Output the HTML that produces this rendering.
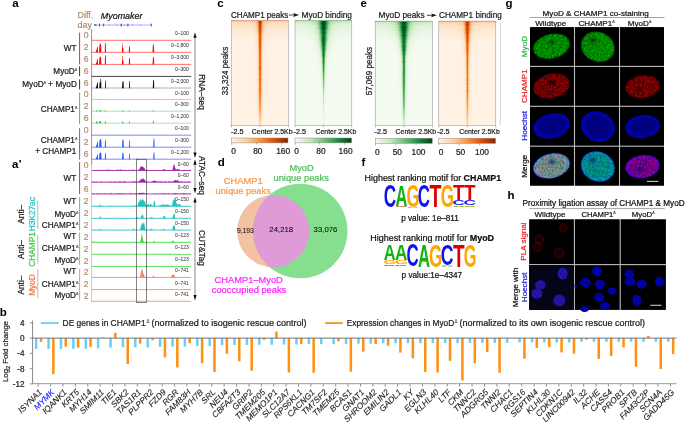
<!DOCTYPE html>
<html><head><meta charset="utf-8"><title>Figure</title>
<style>html,body{margin:0;padding:0;background:#fff;} svg{display:block;will-change:transform;} text{font-family:"Liberation Sans", sans-serif;}</style></head>
<body><svg width="685" height="422" viewBox="0 0 685 422" font-family='"Liberation Sans", sans-serif'>
<defs><filter id="bl1" x="-50%" y="-5%" width="200%" height="110%"><feGaussianBlur stdDeviation="0.8"/></filter><filter id="bl2" x="-50%" y="-5%" width="200%" height="110%"><feGaussianBlur stdDeviation="2.2"/></filter><filter id="bl3" x="-50%" y="-50%" width="200%" height="200%"><feGaussianBlur stdDeviation="1.2"/></filter><linearGradient id="gO1" x1="0" y1="0" x2="0" y2="1"><stop offset="0" stop-color="#b84000"/><stop offset="0.15" stop-color="#d45a08"/><stop offset="0.6" stop-color="#ec8a3c"/><stop offset="0.85" stop-color="#f7bd8c"/><stop offset="1" stop-color="#fde6d2"/></linearGradient><linearGradient id="gO4" x1="0" y1="0" x2="0" y2="1"><stop offset="0" stop-color="#bb4200"/><stop offset="0.12" stop-color="#d8600e"/><stop offset="0.5" stop-color="#ef9a52"/><stop offset="0.85" stop-color="#f9cfa8"/><stop offset="1" stop-color="#fde8d6"/></linearGradient><linearGradient id="gOh" x1="0" y1="0" x2="0" y2="1"><stop offset="0" stop-color="#f5a060"/><stop offset="0.4" stop-color="#f9c8a0"/><stop offset="1" stop-color="#fdefe2"/></linearGradient><linearGradient id="gG2" x1="0" y1="0" x2="0" y2="1"><stop offset="0" stop-color="#00662a"/><stop offset="0.25" stop-color="#117a36"/><stop offset="0.5" stop-color="#3e9e58"/><stop offset="0.75" stop-color="#a3d6a3"/><stop offset="1" stop-color="#eef8ec"/></linearGradient><linearGradient id="gG3" x1="0" y1="0" x2="0" y2="1"><stop offset="0" stop-color="#00602a"/><stop offset="0.3" stop-color="#0f7a36"/><stop offset="0.6" stop-color="#2f9650"/><stop offset="0.85" stop-color="#7cc486"/><stop offset="1" stop-color="#cdeacb"/></linearGradient><linearGradient id="gGh" x1="0" y1="0" x2="0" y2="1"><stop offset="0" stop-color="#6cbf76"/><stop offset="0.35" stop-color="#b8e2b6"/><stop offset="1" stop-color="#f1f9ef"/></linearGradient><linearGradient id="cbO" x1="0" y1="0" x2="1" y2="0"><stop offset="0" stop-color="#fff3e6"/><stop offset="0.25" stop-color="#fdd0a2"/><stop offset="0.5" stop-color="#fd9243"/><stop offset="0.75" stop-color="#df5005"/><stop offset="1" stop-color="#7f2704"/></linearGradient><linearGradient id="cbG" x1="0" y1="0" x2="1" y2="0"><stop offset="0" stop-color="#f4fbf2"/><stop offset="0.25" stop-color="#c7e9c0"/><stop offset="0.5" stop-color="#74c476"/><stop offset="0.75" stop-color="#238b45"/><stop offset="1" stop-color="#00441b"/></linearGradient><clipPath id="clip231"><rect x="231.3" y="20.4" width="57.20" height="105.00"/></clipPath><linearGradient id="hg0"><stop offset="0.000" stop-color="#fff1e3"/><stop offset="0.136" stop-color="#ffeede"/><stop offset="0.227" stop-color="#feead6"/><stop offset="0.291" stop-color="#fee5cc"/><stop offset="0.345" stop-color="#fdd8b2"/><stop offset="0.391" stop-color="#fdb272"/><stop offset="0.427" stop-color="#f77b27"/><stop offset="0.464" stop-color="#d14501"/><stop offset="0.500" stop-color="#ac3803"/><stop offset="0.536" stop-color="#d14501"/><stop offset="0.573" stop-color="#f77b27"/><stop offset="0.609" stop-color="#fdb272"/><stop offset="0.655" stop-color="#fdd8b2"/><stop offset="0.709" stop-color="#fee5cc"/><stop offset="0.773" stop-color="#feead6"/><stop offset="0.864" stop-color="#ffeede"/><stop offset="1.000" stop-color="#fff1e3"/></linearGradient><linearGradient id="hg1"><stop offset="0.000" stop-color="#fff1e3"/><stop offset="0.136" stop-color="#ffeede"/><stop offset="0.227" stop-color="#feead5"/><stop offset="0.291" stop-color="#fee4ca"/><stop offset="0.345" stop-color="#fdd6ae"/><stop offset="0.391" stop-color="#fdae6a"/><stop offset="0.427" stop-color="#f4731f"/><stop offset="0.464" stop-color="#c24002"/><stop offset="0.500" stop-color="#9d3303"/><stop offset="0.536" stop-color="#c24002"/><stop offset="0.573" stop-color="#f4731f"/><stop offset="0.609" stop-color="#fdae6a"/><stop offset="0.655" stop-color="#fdd6ae"/><stop offset="0.709" stop-color="#fee4ca"/><stop offset="0.773" stop-color="#feead5"/><stop offset="0.864" stop-color="#ffeede"/><stop offset="1.000" stop-color="#fff1e3"/></linearGradient><linearGradient id="hg2"><stop offset="0.000" stop-color="#fff1e3"/><stop offset="0.136" stop-color="#ffeede"/><stop offset="0.227" stop-color="#feead6"/><stop offset="0.291" stop-color="#fee5cd"/><stop offset="0.345" stop-color="#fdd8b2"/><stop offset="0.391" stop-color="#fdb374"/><stop offset="0.427" stop-color="#f87d2a"/><stop offset="0.464" stop-color="#d54701"/><stop offset="0.500" stop-color="#b13a03"/><stop offset="0.536" stop-color="#d54701"/><stop offset="0.573" stop-color="#f87d2a"/><stop offset="0.609" stop-color="#fdb374"/><stop offset="0.655" stop-color="#fdd8b2"/><stop offset="0.709" stop-color="#fee5cd"/><stop offset="0.773" stop-color="#feead6"/><stop offset="0.864" stop-color="#ffeede"/><stop offset="1.000" stop-color="#fff1e3"/></linearGradient><linearGradient id="hg3"><stop offset="0.000" stop-color="#fff1e3"/><stop offset="0.136" stop-color="#ffefde"/><stop offset="0.227" stop-color="#feead6"/><stop offset="0.291" stop-color="#fee5cd"/><stop offset="0.345" stop-color="#fdd9b3"/><stop offset="0.391" stop-color="#fdb476"/><stop offset="0.427" stop-color="#f87f2c"/><stop offset="0.464" stop-color="#d94801"/><stop offset="0.500" stop-color="#b53b02"/><stop offset="0.536" stop-color="#d94801"/><stop offset="0.573" stop-color="#f87f2c"/><stop offset="0.609" stop-color="#fdb476"/><stop offset="0.655" stop-color="#fdd9b3"/><stop offset="0.709" stop-color="#fee5cd"/><stop offset="0.773" stop-color="#feead6"/><stop offset="0.864" stop-color="#ffefde"/><stop offset="1.000" stop-color="#fff1e3"/></linearGradient><linearGradient id="hg4"><stop offset="0.000" stop-color="#fff1e3"/><stop offset="0.136" stop-color="#ffefdf"/><stop offset="0.227" stop-color="#feebd8"/><stop offset="0.291" stop-color="#fee7cf"/><stop offset="0.345" stop-color="#fddbb8"/><stop offset="0.391" stop-color="#fdbb81"/><stop offset="0.427" stop-color="#fc8b39"/><stop offset="0.464" stop-color="#e45709"/><stop offset="0.500" stop-color="#cf4401"/><stop offset="0.536" stop-color="#e45709"/><stop offset="0.573" stop-color="#fc8b39"/><stop offset="0.609" stop-color="#fdbb81"/><stop offset="0.655" stop-color="#fddbb8"/><stop offset="0.709" stop-color="#fee7cf"/><stop offset="0.773" stop-color="#feebd8"/><stop offset="0.864" stop-color="#ffefdf"/><stop offset="1.000" stop-color="#fff1e3"/></linearGradient><linearGradient id="hg5"><stop offset="0.000" stop-color="#fff1e3"/><stop offset="0.136" stop-color="#ffefdf"/><stop offset="0.227" stop-color="#feead7"/><stop offset="0.291" stop-color="#fee6cd"/><stop offset="0.345" stop-color="#fdd9b4"/><stop offset="0.391" stop-color="#fdb577"/><stop offset="0.427" stop-color="#f9812e"/><stop offset="0.464" stop-color="#da4a02"/><stop offset="0.500" stop-color="#b83d02"/><stop offset="0.536" stop-color="#da4a02"/><stop offset="0.573" stop-color="#f9812e"/><stop offset="0.609" stop-color="#fdb577"/><stop offset="0.655" stop-color="#fdd9b4"/><stop offset="0.709" stop-color="#fee6cd"/><stop offset="0.773" stop-color="#feead7"/><stop offset="0.864" stop-color="#ffefdf"/><stop offset="1.000" stop-color="#fff1e3"/></linearGradient><linearGradient id="hg6"><stop offset="0.000" stop-color="#fff1e3"/><stop offset="0.136" stop-color="#ffefdf"/><stop offset="0.227" stop-color="#feebd7"/><stop offset="0.291" stop-color="#fee6cf"/><stop offset="0.345" stop-color="#fddab7"/><stop offset="0.391" stop-color="#fdb97d"/><stop offset="0.427" stop-color="#fb8736"/><stop offset="0.464" stop-color="#e15207"/><stop offset="0.500" stop-color="#c74202"/><stop offset="0.536" stop-color="#e15207"/><stop offset="0.573" stop-color="#fb8736"/><stop offset="0.609" stop-color="#fdb97d"/><stop offset="0.655" stop-color="#fddab7"/><stop offset="0.709" stop-color="#fee6cf"/><stop offset="0.773" stop-color="#feebd7"/><stop offset="0.864" stop-color="#ffefdf"/><stop offset="1.000" stop-color="#fff1e3"/></linearGradient><linearGradient id="hg7"><stop offset="0.000" stop-color="#fff1e4"/><stop offset="0.136" stop-color="#ffefdf"/><stop offset="0.227" stop-color="#feebd8"/><stop offset="0.291" stop-color="#fee7cf"/><stop offset="0.345" stop-color="#fedbb9"/><stop offset="0.391" stop-color="#fdbc82"/><stop offset="0.427" stop-color="#fd8c3b"/><stop offset="0.464" stop-color="#e5590a"/><stop offset="0.500" stop-color="#d24501"/><stop offset="0.536" stop-color="#e5590a"/><stop offset="0.573" stop-color="#fd8c3b"/><stop offset="0.609" stop-color="#fdbc82"/><stop offset="0.655" stop-color="#fedbb9"/><stop offset="0.709" stop-color="#fee7cf"/><stop offset="0.773" stop-color="#feebd8"/><stop offset="0.864" stop-color="#ffefdf"/><stop offset="1.000" stop-color="#fff1e4"/></linearGradient><linearGradient id="hg8"><stop offset="0.000" stop-color="#fff1e4"/><stop offset="0.136" stop-color="#ffefdf"/><stop offset="0.227" stop-color="#feebd8"/><stop offset="0.291" stop-color="#fee7d0"/><stop offset="0.345" stop-color="#fedcbb"/><stop offset="0.391" stop-color="#fdbf87"/><stop offset="0.427" stop-color="#fd9142"/><stop offset="0.464" stop-color="#ea600e"/><stop offset="0.500" stop-color="#db4b03"/><stop offset="0.536" stop-color="#ea600e"/><stop offset="0.573" stop-color="#fd9142"/><stop offset="0.609" stop-color="#fdbf87"/><stop offset="0.655" stop-color="#fedcbb"/><stop offset="0.709" stop-color="#fee7d0"/><stop offset="0.773" stop-color="#feebd8"/><stop offset="0.864" stop-color="#ffefdf"/><stop offset="1.000" stop-color="#fff1e4"/></linearGradient><linearGradient id="hg9"><stop offset="0.000" stop-color="#fff1e3"/><stop offset="0.136" stop-color="#ffefdf"/><stop offset="0.227" stop-color="#feebd7"/><stop offset="0.291" stop-color="#fee6ce"/><stop offset="0.345" stop-color="#fdd9b5"/><stop offset="0.391" stop-color="#fdb779"/><stop offset="0.427" stop-color="#fa8330"/><stop offset="0.464" stop-color="#dc4d04"/><stop offset="0.500" stop-color="#bd3e02"/><stop offset="0.536" stop-color="#dc4d04"/><stop offset="0.573" stop-color="#fa8330"/><stop offset="0.609" stop-color="#fdb779"/><stop offset="0.655" stop-color="#fdd9b5"/><stop offset="0.709" stop-color="#fee6ce"/><stop offset="0.773" stop-color="#feebd7"/><stop offset="0.864" stop-color="#ffefdf"/><stop offset="1.000" stop-color="#fff1e3"/></linearGradient><linearGradient id="hg10"><stop offset="0.000" stop-color="#fff1e4"/><stop offset="0.136" stop-color="#ffefdf"/><stop offset="0.227" stop-color="#feebd8"/><stop offset="0.291" stop-color="#fee7d0"/><stop offset="0.345" stop-color="#fedcba"/><stop offset="0.391" stop-color="#fdbf86"/><stop offset="0.427" stop-color="#fd9040"/><stop offset="0.464" stop-color="#e95e0d"/><stop offset="0.500" stop-color="#da4902"/><stop offset="0.536" stop-color="#e95e0d"/><stop offset="0.573" stop-color="#fd9040"/><stop offset="0.609" stop-color="#fdbf86"/><stop offset="0.655" stop-color="#fedcba"/><stop offset="0.709" stop-color="#fee7d0"/><stop offset="0.773" stop-color="#feebd8"/><stop offset="0.864" stop-color="#ffefdf"/><stop offset="1.000" stop-color="#fff1e4"/></linearGradient><linearGradient id="hg11"><stop offset="0.000" stop-color="#fff1e4"/><stop offset="0.136" stop-color="#ffefdf"/><stop offset="0.227" stop-color="#feebd8"/><stop offset="0.291" stop-color="#fee7d1"/><stop offset="0.345" stop-color="#feddbc"/><stop offset="0.391" stop-color="#fdc18a"/><stop offset="0.427" stop-color="#fd9446"/><stop offset="0.464" stop-color="#ed6310"/><stop offset="0.500" stop-color="#de4f05"/><stop offset="0.536" stop-color="#ed6310"/><stop offset="0.573" stop-color="#fd9446"/><stop offset="0.609" stop-color="#fdc18a"/><stop offset="0.655" stop-color="#feddbc"/><stop offset="0.709" stop-color="#fee7d1"/><stop offset="0.773" stop-color="#feebd8"/><stop offset="0.864" stop-color="#ffefdf"/><stop offset="1.000" stop-color="#fff1e4"/></linearGradient><linearGradient id="hg12"><stop offset="0.000" stop-color="#fff1e4"/><stop offset="0.136" stop-color="#ffefdf"/><stop offset="0.227" stop-color="#feebd8"/><stop offset="0.291" stop-color="#fee7d0"/><stop offset="0.345" stop-color="#fedcba"/><stop offset="0.391" stop-color="#fdbe84"/><stop offset="0.427" stop-color="#fd8e3e"/><stop offset="0.464" stop-color="#e75b0c"/><stop offset="0.500" stop-color="#d74701"/><stop offset="0.536" stop-color="#e75b0c"/><stop offset="0.573" stop-color="#fd8e3e"/><stop offset="0.609" stop-color="#fdbe84"/><stop offset="0.655" stop-color="#fedcba"/><stop offset="0.709" stop-color="#fee7d0"/><stop offset="0.773" stop-color="#feebd8"/><stop offset="0.864" stop-color="#ffefdf"/><stop offset="1.000" stop-color="#fff1e4"/></linearGradient><linearGradient id="hg13"><stop offset="0.000" stop-color="#fff1e4"/><stop offset="0.136" stop-color="#ffefdf"/><stop offset="0.227" stop-color="#feebd8"/><stop offset="0.291" stop-color="#fee7d0"/><stop offset="0.345" stop-color="#feddbb"/><stop offset="0.391" stop-color="#fdc088"/><stop offset="0.427" stop-color="#fd9244"/><stop offset="0.464" stop-color="#eb610f"/><stop offset="0.500" stop-color="#dd4d04"/><stop offset="0.536" stop-color="#eb610f"/><stop offset="0.573" stop-color="#fd9244"/><stop offset="0.609" stop-color="#fdc088"/><stop offset="0.655" stop-color="#feddbb"/><stop offset="0.709" stop-color="#fee7d0"/><stop offset="0.773" stop-color="#feebd8"/><stop offset="0.864" stop-color="#ffefdf"/><stop offset="1.000" stop-color="#fff1e4"/></linearGradient><linearGradient id="hg14"><stop offset="0.000" stop-color="#fff1e4"/><stop offset="0.136" stop-color="#ffefdf"/><stop offset="0.227" stop-color="#feecd9"/><stop offset="0.291" stop-color="#fee8d1"/><stop offset="0.345" stop-color="#fedebe"/><stop offset="0.391" stop-color="#fdc48e"/><stop offset="0.427" stop-color="#fd984b"/><stop offset="0.464" stop-color="#f16813"/><stop offset="0.500" stop-color="#e35508"/><stop offset="0.536" stop-color="#f16813"/><stop offset="0.573" stop-color="#fd984b"/><stop offset="0.609" stop-color="#fdc48e"/><stop offset="0.655" stop-color="#fedebe"/><stop offset="0.709" stop-color="#fee8d1"/><stop offset="0.773" stop-color="#feecd9"/><stop offset="0.864" stop-color="#ffefdf"/><stop offset="1.000" stop-color="#fff1e4"/></linearGradient><linearGradient id="hg15"><stop offset="0.000" stop-color="#fff1e4"/><stop offset="0.136" stop-color="#ffefdf"/><stop offset="0.227" stop-color="#feecd9"/><stop offset="0.291" stop-color="#fee8d1"/><stop offset="0.345" stop-color="#fedebd"/><stop offset="0.391" stop-color="#fdc38c"/><stop offset="0.427" stop-color="#fd9649"/><stop offset="0.464" stop-color="#ef6612"/><stop offset="0.500" stop-color="#e15307"/><stop offset="0.536" stop-color="#ef6612"/><stop offset="0.573" stop-color="#fd9649"/><stop offset="0.609" stop-color="#fdc38c"/><stop offset="0.655" stop-color="#fedebd"/><stop offset="0.709" stop-color="#fee8d1"/><stop offset="0.773" stop-color="#feecd9"/><stop offset="0.864" stop-color="#ffefdf"/><stop offset="1.000" stop-color="#fff1e4"/></linearGradient><linearGradient id="hg16"><stop offset="0.000" stop-color="#fff1e4"/><stop offset="0.136" stop-color="#ffefe0"/><stop offset="0.227" stop-color="#feecd9"/><stop offset="0.291" stop-color="#fee8d2"/><stop offset="0.345" stop-color="#fedfbf"/><stop offset="0.391" stop-color="#fdc691"/><stop offset="0.427" stop-color="#fd9b50"/><stop offset="0.464" stop-color="#f36e18"/><stop offset="0.500" stop-color="#e75b0b"/><stop offset="0.536" stop-color="#f36e18"/><stop offset="0.573" stop-color="#fd9b50"/><stop offset="0.609" stop-color="#fdc691"/><stop offset="0.655" stop-color="#fedfbf"/><stop offset="0.709" stop-color="#fee8d2"/><stop offset="0.773" stop-color="#feecd9"/><stop offset="0.864" stop-color="#ffefe0"/><stop offset="1.000" stop-color="#fff1e4"/></linearGradient><linearGradient id="hg17"><stop offset="0.000" stop-color="#fff1e4"/><stop offset="0.136" stop-color="#ffefe0"/><stop offset="0.227" stop-color="#feecd9"/><stop offset="0.291" stop-color="#fee8d2"/><stop offset="0.345" stop-color="#fedebf"/><stop offset="0.391" stop-color="#fdc590"/><stop offset="0.427" stop-color="#fd9a4e"/><stop offset="0.464" stop-color="#f26c16"/><stop offset="0.500" stop-color="#e5580a"/><stop offset="0.536" stop-color="#f26c16"/><stop offset="0.573" stop-color="#fd9a4e"/><stop offset="0.609" stop-color="#fdc590"/><stop offset="0.655" stop-color="#fedebf"/><stop offset="0.709" stop-color="#fee8d2"/><stop offset="0.773" stop-color="#feecd9"/><stop offset="0.864" stop-color="#ffefe0"/><stop offset="1.000" stop-color="#fff1e4"/></linearGradient><linearGradient id="hg18"><stop offset="0.000" stop-color="#fff1e4"/><stop offset="0.136" stop-color="#ffefe0"/><stop offset="0.227" stop-color="#feecd9"/><stop offset="0.291" stop-color="#fee8d2"/><stop offset="0.345" stop-color="#fedfc0"/><stop offset="0.391" stop-color="#fdc794"/><stop offset="0.427" stop-color="#fd9e54"/><stop offset="0.464" stop-color="#f4711d"/><stop offset="0.500" stop-color="#e95e0d"/><stop offset="0.536" stop-color="#f4711d"/><stop offset="0.573" stop-color="#fd9e54"/><stop offset="0.609" stop-color="#fdc794"/><stop offset="0.655" stop-color="#fedfc0"/><stop offset="0.709" stop-color="#fee8d2"/><stop offset="0.773" stop-color="#feecd9"/><stop offset="0.864" stop-color="#ffefe0"/><stop offset="1.000" stop-color="#fff1e4"/></linearGradient><linearGradient id="hg19"><stop offset="0.000" stop-color="#fff1e4"/><stop offset="0.136" stop-color="#ffefe0"/><stop offset="0.227" stop-color="#feecda"/><stop offset="0.291" stop-color="#fee9d3"/><stop offset="0.345" stop-color="#fee0c2"/><stop offset="0.391" stop-color="#fdca97"/><stop offset="0.427" stop-color="#fda158"/><stop offset="0.464" stop-color="#f67722"/><stop offset="0.500" stop-color="#ed6410"/><stop offset="0.536" stop-color="#f67722"/><stop offset="0.573" stop-color="#fda158"/><stop offset="0.609" stop-color="#fdca97"/><stop offset="0.655" stop-color="#fee0c2"/><stop offset="0.709" stop-color="#fee9d3"/><stop offset="0.773" stop-color="#feecda"/><stop offset="0.864" stop-color="#ffefe0"/><stop offset="1.000" stop-color="#fff1e4"/></linearGradient><linearGradient id="hg20"><stop offset="0.000" stop-color="#fff1e4"/><stop offset="0.136" stop-color="#ffefe0"/><stop offset="0.227" stop-color="#feecda"/><stop offset="0.291" stop-color="#fee9d3"/><stop offset="0.345" stop-color="#fee0c3"/><stop offset="0.391" stop-color="#fdcb99"/><stop offset="0.427" stop-color="#fda35b"/><stop offset="0.464" stop-color="#f67926"/><stop offset="0.500" stop-color="#ef6712"/><stop offset="0.536" stop-color="#f67926"/><stop offset="0.573" stop-color="#fda35b"/><stop offset="0.609" stop-color="#fdcb99"/><stop offset="0.655" stop-color="#fee0c3"/><stop offset="0.709" stop-color="#fee9d3"/><stop offset="0.773" stop-color="#feecda"/><stop offset="0.864" stop-color="#ffefe0"/><stop offset="1.000" stop-color="#fff1e4"/></linearGradient><linearGradient id="hg21"><stop offset="0.000" stop-color="#fff1e4"/><stop offset="0.136" stop-color="#ffefe0"/><stop offset="0.227" stop-color="#feecda"/><stop offset="0.291" stop-color="#fee8d3"/><stop offset="0.345" stop-color="#fee0c2"/><stop offset="0.391" stop-color="#fdc997"/><stop offset="0.427" stop-color="#fda158"/><stop offset="0.464" stop-color="#f57622"/><stop offset="0.500" stop-color="#ed6310"/><stop offset="0.536" stop-color="#f57622"/><stop offset="0.573" stop-color="#fda158"/><stop offset="0.609" stop-color="#fdc997"/><stop offset="0.655" stop-color="#fee0c2"/><stop offset="0.709" stop-color="#fee8d3"/><stop offset="0.773" stop-color="#feecda"/><stop offset="0.864" stop-color="#ffefe0"/><stop offset="1.000" stop-color="#fff1e4"/></linearGradient><linearGradient id="hg22"><stop offset="0.000" stop-color="#fff1e4"/><stop offset="0.136" stop-color="#ffefe0"/><stop offset="0.227" stop-color="#feecda"/><stop offset="0.291" stop-color="#fee9d3"/><stop offset="0.345" stop-color="#fee1c3"/><stop offset="0.391" stop-color="#fdcc9b"/><stop offset="0.427" stop-color="#fda45d"/><stop offset="0.464" stop-color="#f77c28"/><stop offset="0.500" stop-color="#f16913"/><stop offset="0.536" stop-color="#f77c28"/><stop offset="0.573" stop-color="#fda45d"/><stop offset="0.609" stop-color="#fdcc9b"/><stop offset="0.655" stop-color="#fee1c3"/><stop offset="0.709" stop-color="#fee9d3"/><stop offset="0.773" stop-color="#feecda"/><stop offset="0.864" stop-color="#ffefe0"/><stop offset="1.000" stop-color="#fff1e4"/></linearGradient><linearGradient id="hg23"><stop offset="0.000" stop-color="#fff1e4"/><stop offset="0.136" stop-color="#ffefe0"/><stop offset="0.227" stop-color="#feecda"/><stop offset="0.291" stop-color="#fee9d4"/><stop offset="0.345" stop-color="#fee1c4"/><stop offset="0.391" stop-color="#fdcd9d"/><stop offset="0.427" stop-color="#fda660"/><stop offset="0.464" stop-color="#f87f2c"/><stop offset="0.500" stop-color="#f26c17"/><stop offset="0.536" stop-color="#f87f2c"/><stop offset="0.573" stop-color="#fda660"/><stop offset="0.609" stop-color="#fdcd9d"/><stop offset="0.655" stop-color="#fee1c4"/><stop offset="0.709" stop-color="#fee9d4"/><stop offset="0.773" stop-color="#feecda"/><stop offset="0.864" stop-color="#ffefe0"/><stop offset="1.000" stop-color="#fff1e4"/></linearGradient><linearGradient id="hg24"><stop offset="0.000" stop-color="#fff1e4"/><stop offset="0.136" stop-color="#ffefe0"/><stop offset="0.227" stop-color="#feecda"/><stop offset="0.291" stop-color="#fee9d4"/><stop offset="0.345" stop-color="#fee1c5"/><stop offset="0.391" stop-color="#fdce9f"/><stop offset="0.427" stop-color="#fda862"/><stop offset="0.464" stop-color="#f9812e"/><stop offset="0.500" stop-color="#f36f1a"/><stop offset="0.536" stop-color="#f9812e"/><stop offset="0.573" stop-color="#fda862"/><stop offset="0.609" stop-color="#fdce9f"/><stop offset="0.655" stop-color="#fee1c5"/><stop offset="0.709" stop-color="#fee9d4"/><stop offset="0.773" stop-color="#feecda"/><stop offset="0.864" stop-color="#ffefe0"/><stop offset="1.000" stop-color="#fff1e4"/></linearGradient><linearGradient id="hg25"><stop offset="0.000" stop-color="#fff1e4"/><stop offset="0.136" stop-color="#fff0e0"/><stop offset="0.227" stop-color="#feeddb"/><stop offset="0.291" stop-color="#feead5"/><stop offset="0.345" stop-color="#fee3c7"/><stop offset="0.391" stop-color="#fdd1a4"/><stop offset="0.427" stop-color="#fdae6a"/><stop offset="0.464" stop-color="#fc8a38"/><stop offset="0.500" stop-color="#f67925"/><stop offset="0.536" stop-color="#fc8a38"/><stop offset="0.573" stop-color="#fdae6a"/><stop offset="0.609" stop-color="#fdd1a4"/><stop offset="0.655" stop-color="#fee3c7"/><stop offset="0.709" stop-color="#feead5"/><stop offset="0.773" stop-color="#feeddb"/><stop offset="0.864" stop-color="#fff0e0"/><stop offset="1.000" stop-color="#fff1e4"/></linearGradient><linearGradient id="hg26"><stop offset="0.000" stop-color="#fff1e4"/><stop offset="0.136" stop-color="#fff0e1"/><stop offset="0.227" stop-color="#feeddb"/><stop offset="0.291" stop-color="#feead5"/><stop offset="0.345" stop-color="#fee3c8"/><stop offset="0.391" stop-color="#fdd2a5"/><stop offset="0.427" stop-color="#fdaf6d"/><stop offset="0.464" stop-color="#fd8c3b"/><stop offset="0.500" stop-color="#f77b27"/><stop offset="0.536" stop-color="#fd8c3b"/><stop offset="0.573" stop-color="#fdaf6d"/><stop offset="0.609" stop-color="#fdd2a5"/><stop offset="0.655" stop-color="#fee3c8"/><stop offset="0.709" stop-color="#feead5"/><stop offset="0.773" stop-color="#feeddb"/><stop offset="0.864" stop-color="#fff0e1"/><stop offset="1.000" stop-color="#fff1e4"/></linearGradient><linearGradient id="hg27"><stop offset="0.000" stop-color="#fff1e4"/><stop offset="0.136" stop-color="#ffefe0"/><stop offset="0.227" stop-color="#feeddb"/><stop offset="0.291" stop-color="#fee9d4"/><stop offset="0.345" stop-color="#fee2c6"/><stop offset="0.391" stop-color="#fdd0a1"/><stop offset="0.427" stop-color="#fdaa66"/><stop offset="0.464" stop-color="#fa8533"/><stop offset="0.500" stop-color="#f4731f"/><stop offset="0.536" stop-color="#fa8533"/><stop offset="0.573" stop-color="#fdaa66"/><stop offset="0.609" stop-color="#fdd0a1"/><stop offset="0.655" stop-color="#fee2c6"/><stop offset="0.709" stop-color="#fee9d4"/><stop offset="0.773" stop-color="#feeddb"/><stop offset="0.864" stop-color="#ffefe0"/><stop offset="1.000" stop-color="#fff1e4"/></linearGradient><linearGradient id="hg28"><stop offset="0.000" stop-color="#fff1e4"/><stop offset="0.136" stop-color="#fff0e1"/><stop offset="0.227" stop-color="#feeddb"/><stop offset="0.291" stop-color="#feead6"/><stop offset="0.345" stop-color="#fee4c9"/><stop offset="0.391" stop-color="#fdd3a7"/><stop offset="0.427" stop-color="#fdb171"/><stop offset="0.464" stop-color="#fd8f3f"/><stop offset="0.500" stop-color="#f87f2c"/><stop offset="0.536" stop-color="#fd8f3f"/><stop offset="0.573" stop-color="#fdb171"/><stop offset="0.609" stop-color="#fdd3a7"/><stop offset="0.655" stop-color="#fee4c9"/><stop offset="0.709" stop-color="#feead6"/><stop offset="0.773" stop-color="#feeddb"/><stop offset="0.864" stop-color="#fff0e1"/><stop offset="1.000" stop-color="#fff1e4"/></linearGradient><linearGradient id="hg29"><stop offset="0.000" stop-color="#fff1e4"/><stop offset="0.136" stop-color="#fff0e0"/><stop offset="0.227" stop-color="#feeddb"/><stop offset="0.291" stop-color="#feead5"/><stop offset="0.345" stop-color="#fee2c7"/><stop offset="0.391" stop-color="#fdd0a3"/><stop offset="0.427" stop-color="#fdac69"/><stop offset="0.464" stop-color="#fb8836"/><stop offset="0.500" stop-color="#f67722"/><stop offset="0.536" stop-color="#fb8836"/><stop offset="0.573" stop-color="#fdac69"/><stop offset="0.609" stop-color="#fdd0a3"/><stop offset="0.655" stop-color="#fee2c7"/><stop offset="0.709" stop-color="#feead5"/><stop offset="0.773" stop-color="#feeddb"/><stop offset="0.864" stop-color="#fff0e0"/><stop offset="1.000" stop-color="#fff1e4"/></linearGradient><linearGradient id="hg30"><stop offset="0.000" stop-color="#fff1e4"/><stop offset="0.136" stop-color="#fff0e1"/><stop offset="0.227" stop-color="#feeddc"/><stop offset="0.291" stop-color="#feead6"/><stop offset="0.345" stop-color="#fee4ca"/><stop offset="0.391" stop-color="#fdd4aa"/><stop offset="0.427" stop-color="#fdb576"/><stop offset="0.464" stop-color="#fd9345"/><stop offset="0.500" stop-color="#fa8432"/><stop offset="0.536" stop-color="#fd9345"/><stop offset="0.573" stop-color="#fdb576"/><stop offset="0.609" stop-color="#fdd4aa"/><stop offset="0.655" stop-color="#fee4ca"/><stop offset="0.709" stop-color="#feead6"/><stop offset="0.773" stop-color="#feeddc"/><stop offset="0.864" stop-color="#fff0e1"/><stop offset="1.000" stop-color="#fff1e4"/></linearGradient><linearGradient id="hg31"><stop offset="0.000" stop-color="#fff1e4"/><stop offset="0.136" stop-color="#fff0e1"/><stop offset="0.227" stop-color="#feeddc"/><stop offset="0.291" stop-color="#feead6"/><stop offset="0.345" stop-color="#fee5cb"/><stop offset="0.391" stop-color="#fdd5ab"/><stop offset="0.427" stop-color="#fdb779"/><stop offset="0.464" stop-color="#fd9649"/><stop offset="0.500" stop-color="#fb8836"/><stop offset="0.536" stop-color="#fd9649"/><stop offset="0.573" stop-color="#fdb779"/><stop offset="0.609" stop-color="#fdd5ab"/><stop offset="0.655" stop-color="#fee5cb"/><stop offset="0.709" stop-color="#feead6"/><stop offset="0.773" stop-color="#feeddc"/><stop offset="0.864" stop-color="#fff0e1"/><stop offset="1.000" stop-color="#fff1e4"/></linearGradient><linearGradient id="hg32"><stop offset="0.000" stop-color="#fff1e4"/><stop offset="0.136" stop-color="#fff0e1"/><stop offset="0.227" stop-color="#feeddc"/><stop offset="0.291" stop-color="#feebd7"/><stop offset="0.345" stop-color="#fee6cd"/><stop offset="0.391" stop-color="#fdd6af"/><stop offset="0.427" stop-color="#fdbb80"/><stop offset="0.464" stop-color="#fd9c52"/><stop offset="0.500" stop-color="#fd8f3f"/><stop offset="0.536" stop-color="#fd9c52"/><stop offset="0.573" stop-color="#fdbb80"/><stop offset="0.609" stop-color="#fdd6af"/><stop offset="0.655" stop-color="#fee6cd"/><stop offset="0.709" stop-color="#feebd7"/><stop offset="0.773" stop-color="#feeddc"/><stop offset="0.864" stop-color="#fff0e1"/><stop offset="1.000" stop-color="#fff1e4"/></linearGradient><linearGradient id="hg33"><stop offset="0.000" stop-color="#fff1e4"/><stop offset="0.136" stop-color="#fff0e1"/><stop offset="0.227" stop-color="#feeddc"/><stop offset="0.291" stop-color="#feead6"/><stop offset="0.345" stop-color="#fee4ca"/><stop offset="0.391" stop-color="#fdd3a8"/><stop offset="0.427" stop-color="#fdb373"/><stop offset="0.464" stop-color="#fd9142"/><stop offset="0.500" stop-color="#f9822f"/><stop offset="0.536" stop-color="#fd9142"/><stop offset="0.573" stop-color="#fdb373"/><stop offset="0.609" stop-color="#fdd3a8"/><stop offset="0.655" stop-color="#fee4ca"/><stop offset="0.709" stop-color="#feead6"/><stop offset="0.773" stop-color="#feeddc"/><stop offset="0.864" stop-color="#fff0e1"/><stop offset="1.000" stop-color="#fff1e4"/></linearGradient><linearGradient id="hg34"><stop offset="0.000" stop-color="#fff1e4"/><stop offset="0.136" stop-color="#fff0e1"/><stop offset="0.227" stop-color="#ffeedd"/><stop offset="0.291" stop-color="#feebd8"/><stop offset="0.345" stop-color="#fee6ce"/><stop offset="0.391" stop-color="#fdd7b1"/><stop offset="0.427" stop-color="#fdbd84"/><stop offset="0.464" stop-color="#fd9f56"/><stop offset="0.500" stop-color="#fd9243"/><stop offset="0.536" stop-color="#fd9f56"/><stop offset="0.573" stop-color="#fdbd84"/><stop offset="0.609" stop-color="#fdd7b1"/><stop offset="0.655" stop-color="#fee6ce"/><stop offset="0.709" stop-color="#feebd8"/><stop offset="0.773" stop-color="#ffeedd"/><stop offset="0.864" stop-color="#fff0e1"/><stop offset="1.000" stop-color="#fff1e4"/></linearGradient><linearGradient id="hg35"><stop offset="0.000" stop-color="#fff1e4"/><stop offset="0.136" stop-color="#fff0e1"/><stop offset="0.227" stop-color="#feeddc"/><stop offset="0.291" stop-color="#feebd7"/><stop offset="0.345" stop-color="#fee5cd"/><stop offset="0.391" stop-color="#fdd6ae"/><stop offset="0.427" stop-color="#fdbb7f"/><stop offset="0.464" stop-color="#fd9b51"/><stop offset="0.500" stop-color="#fd8e3e"/><stop offset="0.536" stop-color="#fd9b51"/><stop offset="0.573" stop-color="#fdbb7f"/><stop offset="0.609" stop-color="#fdd6ae"/><stop offset="0.655" stop-color="#fee5cd"/><stop offset="0.709" stop-color="#feebd7"/><stop offset="0.773" stop-color="#feeddc"/><stop offset="0.864" stop-color="#fff0e1"/><stop offset="1.000" stop-color="#fff1e4"/></linearGradient><linearGradient id="hg36"><stop offset="0.000" stop-color="#fff1e4"/><stop offset="0.136" stop-color="#fff0e1"/><stop offset="0.227" stop-color="#ffeedd"/><stop offset="0.291" stop-color="#feebd8"/><stop offset="0.345" stop-color="#fee7cf"/><stop offset="0.391" stop-color="#fdd9b4"/><stop offset="0.427" stop-color="#fdc18a"/><stop offset="0.464" stop-color="#fda45d"/><stop offset="0.500" stop-color="#fd984c"/><stop offset="0.536" stop-color="#fda45d"/><stop offset="0.573" stop-color="#fdc18a"/><stop offset="0.609" stop-color="#fdd9b4"/><stop offset="0.655" stop-color="#fee7cf"/><stop offset="0.709" stop-color="#feebd8"/><stop offset="0.773" stop-color="#ffeedd"/><stop offset="0.864" stop-color="#fff0e1"/><stop offset="1.000" stop-color="#fff1e4"/></linearGradient><linearGradient id="hg37"><stop offset="0.000" stop-color="#fff1e4"/><stop offset="0.136" stop-color="#fff0e1"/><stop offset="0.227" stop-color="#ffeede"/><stop offset="0.291" stop-color="#feecd9"/><stop offset="0.345" stop-color="#fee7d1"/><stop offset="0.391" stop-color="#fddbb8"/><stop offset="0.427" stop-color="#fdc692"/><stop offset="0.464" stop-color="#fdab67"/><stop offset="0.500" stop-color="#fd9f56"/><stop offset="0.536" stop-color="#fdab67"/><stop offset="0.573" stop-color="#fdc692"/><stop offset="0.609" stop-color="#fddbb8"/><stop offset="0.655" stop-color="#fee7d1"/><stop offset="0.709" stop-color="#feecd9"/><stop offset="0.773" stop-color="#ffeede"/><stop offset="0.864" stop-color="#fff0e1"/><stop offset="1.000" stop-color="#fff1e4"/></linearGradient><linearGradient id="hg38"><stop offset="0.000" stop-color="#fff1e4"/><stop offset="0.136" stop-color="#fff0e2"/><stop offset="0.227" stop-color="#ffeede"/><stop offset="0.291" stop-color="#feecda"/><stop offset="0.345" stop-color="#fee8d2"/><stop offset="0.391" stop-color="#feddbb"/><stop offset="0.427" stop-color="#fdcb99"/><stop offset="0.464" stop-color="#fdb170"/><stop offset="0.500" stop-color="#fda660"/><stop offset="0.536" stop-color="#fdb170"/><stop offset="0.573" stop-color="#fdcb99"/><stop offset="0.609" stop-color="#feddbb"/><stop offset="0.655" stop-color="#fee8d2"/><stop offset="0.709" stop-color="#feecda"/><stop offset="0.773" stop-color="#ffeede"/><stop offset="0.864" stop-color="#fff0e2"/><stop offset="1.000" stop-color="#fff1e4"/></linearGradient><linearGradient id="hg39"><stop offset="0.000" stop-color="#fff1e4"/><stop offset="0.136" stop-color="#fff0e2"/><stop offset="0.227" stop-color="#ffefdf"/><stop offset="0.291" stop-color="#feeddb"/><stop offset="0.345" stop-color="#fee9d3"/><stop offset="0.391" stop-color="#fedfc0"/><stop offset="0.427" stop-color="#fdd0a2"/><stop offset="0.464" stop-color="#fdb97c"/><stop offset="0.500" stop-color="#fdae6c"/><stop offset="0.536" stop-color="#fdb97c"/><stop offset="0.573" stop-color="#fdd0a2"/><stop offset="0.609" stop-color="#fedfc0"/><stop offset="0.655" stop-color="#fee9d3"/><stop offset="0.709" stop-color="#feeddb"/><stop offset="0.773" stop-color="#ffefdf"/><stop offset="0.864" stop-color="#fff0e2"/><stop offset="1.000" stop-color="#fff1e4"/></linearGradient><linearGradient id="hg40"><stop offset="0.000" stop-color="#fff1e4"/><stop offset="0.136" stop-color="#fff0e2"/><stop offset="0.227" stop-color="#ffefdf"/><stop offset="0.291" stop-color="#feeddb"/><stop offset="0.345" stop-color="#fee9d5"/><stop offset="0.391" stop-color="#fee0c3"/><stop offset="0.427" stop-color="#fdd3a7"/><stop offset="0.464" stop-color="#fdbe85"/><stop offset="0.500" stop-color="#fdb576"/><stop offset="0.536" stop-color="#fdbe85"/><stop offset="0.573" stop-color="#fdd3a7"/><stop offset="0.609" stop-color="#fee0c3"/><stop offset="0.655" stop-color="#fee9d5"/><stop offset="0.709" stop-color="#feeddb"/><stop offset="0.773" stop-color="#ffefdf"/><stop offset="0.864" stop-color="#fff0e2"/><stop offset="1.000" stop-color="#fff1e4"/></linearGradient><linearGradient id="hg41"><stop offset="0.000" stop-color="#fff1e4"/><stop offset="0.136" stop-color="#fff0e2"/><stop offset="0.227" stop-color="#ffefdf"/><stop offset="0.291" stop-color="#feeddb"/><stop offset="0.345" stop-color="#feead5"/><stop offset="0.391" stop-color="#fee1c4"/><stop offset="0.427" stop-color="#fdd3a9"/><stop offset="0.464" stop-color="#fdc088"/><stop offset="0.500" stop-color="#fdb679"/><stop offset="0.536" stop-color="#fdc088"/><stop offset="0.573" stop-color="#fdd3a9"/><stop offset="0.609" stop-color="#fee1c4"/><stop offset="0.655" stop-color="#feead5"/><stop offset="0.709" stop-color="#feeddb"/><stop offset="0.773" stop-color="#ffefdf"/><stop offset="0.864" stop-color="#fff0e2"/><stop offset="1.000" stop-color="#fff1e4"/></linearGradient><linearGradient id="hg42"><stop offset="0.000" stop-color="#fff1e4"/><stop offset="0.136" stop-color="#fff1e2"/><stop offset="0.227" stop-color="#ffefe0"/><stop offset="0.291" stop-color="#feeddc"/><stop offset="0.345" stop-color="#feead6"/><stop offset="0.391" stop-color="#fee3c8"/><stop offset="0.427" stop-color="#fdd7af"/><stop offset="0.464" stop-color="#fdc793"/><stop offset="0.500" stop-color="#fdbe85"/><stop offset="0.536" stop-color="#fdc793"/><stop offset="0.573" stop-color="#fdd7af"/><stop offset="0.609" stop-color="#fee3c8"/><stop offset="0.655" stop-color="#feead6"/><stop offset="0.709" stop-color="#feeddc"/><stop offset="0.773" stop-color="#ffefe0"/><stop offset="0.864" stop-color="#fff1e2"/><stop offset="1.000" stop-color="#fff1e4"/></linearGradient><linearGradient id="hg43"><stop offset="0.000" stop-color="#fff1e4"/><stop offset="0.136" stop-color="#fff1e2"/><stop offset="0.227" stop-color="#ffefe0"/><stop offset="0.291" stop-color="#ffeedd"/><stop offset="0.345" stop-color="#feead7"/><stop offset="0.391" stop-color="#fee3c9"/><stop offset="0.427" stop-color="#fdd7b1"/><stop offset="0.464" stop-color="#fdc996"/><stop offset="0.500" stop-color="#fdc089"/><stop offset="0.536" stop-color="#fdc996"/><stop offset="0.573" stop-color="#fdd7b1"/><stop offset="0.609" stop-color="#fee3c9"/><stop offset="0.655" stop-color="#feead7"/><stop offset="0.709" stop-color="#ffeedd"/><stop offset="0.773" stop-color="#ffefe0"/><stop offset="0.864" stop-color="#fff1e2"/><stop offset="1.000" stop-color="#fff1e4"/></linearGradient><linearGradient id="hg44"><stop offset="0.000" stop-color="#fff1e4"/><stop offset="0.136" stop-color="#fff1e3"/><stop offset="0.227" stop-color="#ffefe0"/><stop offset="0.291" stop-color="#ffeedd"/><stop offset="0.345" stop-color="#feebd7"/><stop offset="0.391" stop-color="#fee4cb"/><stop offset="0.427" stop-color="#fdd9b4"/><stop offset="0.464" stop-color="#fdcc9c"/><stop offset="0.500" stop-color="#fdc48f"/><stop offset="0.536" stop-color="#fdcc9c"/><stop offset="0.573" stop-color="#fdd9b4"/><stop offset="0.609" stop-color="#fee4cb"/><stop offset="0.655" stop-color="#feebd7"/><stop offset="0.709" stop-color="#ffeedd"/><stop offset="0.773" stop-color="#ffefe0"/><stop offset="0.864" stop-color="#fff1e3"/><stop offset="1.000" stop-color="#fff1e4"/></linearGradient><linearGradient id="hg45"><stop offset="0.000" stop-color="#fff1e4"/><stop offset="0.136" stop-color="#fff1e2"/><stop offset="0.227" stop-color="#ffefe0"/><stop offset="0.291" stop-color="#ffeedd"/><stop offset="0.345" stop-color="#feebd7"/><stop offset="0.391" stop-color="#fee4ca"/><stop offset="0.427" stop-color="#fdd9b3"/><stop offset="0.464" stop-color="#fdcb9a"/><stop offset="0.500" stop-color="#fdc38d"/><stop offset="0.536" stop-color="#fdcb9a"/><stop offset="0.573" stop-color="#fdd9b3"/><stop offset="0.609" stop-color="#fee4ca"/><stop offset="0.655" stop-color="#feebd7"/><stop offset="0.709" stop-color="#ffeedd"/><stop offset="0.773" stop-color="#ffefe0"/><stop offset="0.864" stop-color="#fff1e2"/><stop offset="1.000" stop-color="#fff1e4"/></linearGradient><linearGradient id="hg46"><stop offset="0.000" stop-color="#fff1e4"/><stop offset="0.136" stop-color="#fff1e3"/><stop offset="0.227" stop-color="#fff0e1"/><stop offset="0.291" stop-color="#ffeede"/><stop offset="0.345" stop-color="#feecd9"/><stop offset="0.391" stop-color="#fee7cf"/><stop offset="0.427" stop-color="#feddbc"/><stop offset="0.464" stop-color="#fdd3a8"/><stop offset="0.500" stop-color="#fdce9f"/><stop offset="0.536" stop-color="#fdd3a8"/><stop offset="0.573" stop-color="#feddbc"/><stop offset="0.609" stop-color="#fee7cf"/><stop offset="0.655" stop-color="#feecd9"/><stop offset="0.709" stop-color="#ffeede"/><stop offset="0.773" stop-color="#fff0e1"/><stop offset="0.864" stop-color="#fff1e3"/><stop offset="1.000" stop-color="#fff1e4"/></linearGradient><linearGradient id="hg47"><stop offset="0.000" stop-color="#fff2e4"/><stop offset="0.136" stop-color="#fff1e3"/><stop offset="0.227" stop-color="#fff0e1"/><stop offset="0.291" stop-color="#ffefdf"/><stop offset="0.345" stop-color="#feeddb"/><stop offset="0.391" stop-color="#fee9d3"/><stop offset="0.427" stop-color="#fee2c5"/><stop offset="0.464" stop-color="#fdd9b5"/><stop offset="0.500" stop-color="#fdd6ad"/><stop offset="0.536" stop-color="#fdd9b5"/><stop offset="0.573" stop-color="#fee2c5"/><stop offset="0.609" stop-color="#fee9d3"/><stop offset="0.655" stop-color="#feeddb"/><stop offset="0.709" stop-color="#ffefdf"/><stop offset="0.773" stop-color="#fff0e1"/><stop offset="0.864" stop-color="#fff1e3"/><stop offset="1.000" stop-color="#fff2e4"/></linearGradient><linearGradient id="tg231" x1="0" y1="0" x2="0" y2="1"><stop offset="0" stop-color="#fdc895" stop-opacity="0.75"/><stop offset="0.05" stop-color="#fdd9b4" stop-opacity="0.35"/><stop offset="0.2" stop-color="#fee2c5" stop-opacity="0"/></linearGradient><clipPath id="clip295"><rect x="295.0" y="20.4" width="56.80" height="105.00"/></clipPath><linearGradient id="hg48"><stop offset="0.000" stop-color="#f2faef"/><stop offset="0.136" stop-color="#eef8ea"/><stop offset="0.227" stop-color="#e8f6e3"/><stop offset="0.291" stop-color="#ddf2d8"/><stop offset="0.345" stop-color="#c7e9c0"/><stop offset="0.391" stop-color="#8ace88"/><stop offset="0.427" stop-color="#329b51"/><stop offset="0.464" stop-color="#005723"/><stop offset="0.500" stop-color="#00441b"/><stop offset="0.536" stop-color="#005723"/><stop offset="0.573" stop-color="#329b51"/><stop offset="0.609" stop-color="#8ace88"/><stop offset="0.655" stop-color="#c7e9c0"/><stop offset="0.709" stop-color="#ddf2d8"/><stop offset="0.773" stop-color="#e8f6e3"/><stop offset="0.864" stop-color="#eef8ea"/><stop offset="1.000" stop-color="#f2faef"/></linearGradient><linearGradient id="hg49"><stop offset="0.000" stop-color="#f2faef"/><stop offset="0.136" stop-color="#eef9eb"/><stop offset="0.227" stop-color="#e9f6e4"/><stop offset="0.291" stop-color="#e1f3dc"/><stop offset="0.345" stop-color="#cdebc6"/><stop offset="0.391" stop-color="#9ad696"/><stop offset="0.427" stop-color="#45ad5f"/><stop offset="0.464" stop-color="#097532"/><stop offset="0.500" stop-color="#005723"/><stop offset="0.536" stop-color="#097532"/><stop offset="0.573" stop-color="#45ad5f"/><stop offset="0.609" stop-color="#9ad696"/><stop offset="0.655" stop-color="#cdebc6"/><stop offset="0.709" stop-color="#e1f3dc"/><stop offset="0.773" stop-color="#e9f6e4"/><stop offset="0.864" stop-color="#eef9eb"/><stop offset="1.000" stop-color="#f2faef"/></linearGradient><linearGradient id="hg50"><stop offset="0.000" stop-color="#f2faef"/><stop offset="0.136" stop-color="#eef9eb"/><stop offset="0.227" stop-color="#e8f6e3"/><stop offset="0.291" stop-color="#def2d9"/><stop offset="0.345" stop-color="#c9eac2"/><stop offset="0.391" stop-color="#8ed08b"/><stop offset="0.427" stop-color="#369f54"/><stop offset="0.464" stop-color="#005e26"/><stop offset="0.500" stop-color="#00441b"/><stop offset="0.536" stop-color="#005e26"/><stop offset="0.573" stop-color="#369f54"/><stop offset="0.609" stop-color="#8ed08b"/><stop offset="0.655" stop-color="#c9eac2"/><stop offset="0.709" stop-color="#def2d9"/><stop offset="0.773" stop-color="#e8f6e3"/><stop offset="0.864" stop-color="#eef9eb"/><stop offset="1.000" stop-color="#f2faef"/></linearGradient><linearGradient id="hg51"><stop offset="0.000" stop-color="#f2faef"/><stop offset="0.136" stop-color="#eef9eb"/><stop offset="0.227" stop-color="#e8f6e4"/><stop offset="0.291" stop-color="#dff3da"/><stop offset="0.345" stop-color="#caeac3"/><stop offset="0.391" stop-color="#91d28e"/><stop offset="0.427" stop-color="#39a357"/><stop offset="0.464" stop-color="#006529"/><stop offset="0.500" stop-color="#00441b"/><stop offset="0.536" stop-color="#006529"/><stop offset="0.573" stop-color="#39a357"/><stop offset="0.609" stop-color="#91d28e"/><stop offset="0.655" stop-color="#caeac3"/><stop offset="0.709" stop-color="#dff3da"/><stop offset="0.773" stop-color="#e8f6e4"/><stop offset="0.864" stop-color="#eef9eb"/><stop offset="1.000" stop-color="#f2faef"/></linearGradient><linearGradient id="hg52"><stop offset="0.000" stop-color="#f2faef"/><stop offset="0.136" stop-color="#eef9eb"/><stop offset="0.227" stop-color="#e8f6e4"/><stop offset="0.291" stop-color="#dff3da"/><stop offset="0.345" stop-color="#caeac4"/><stop offset="0.391" stop-color="#93d28f"/><stop offset="0.427" stop-color="#3ba558"/><stop offset="0.464" stop-color="#00692a"/><stop offset="0.500" stop-color="#00461c"/><stop offset="0.536" stop-color="#00692a"/><stop offset="0.573" stop-color="#3ba558"/><stop offset="0.609" stop-color="#93d28f"/><stop offset="0.655" stop-color="#caeac4"/><stop offset="0.709" stop-color="#dff3da"/><stop offset="0.773" stop-color="#e8f6e4"/><stop offset="0.864" stop-color="#eef9eb"/><stop offset="1.000" stop-color="#f2faef"/></linearGradient><linearGradient id="hg53"><stop offset="0.000" stop-color="#f2faef"/><stop offset="0.136" stop-color="#eef9eb"/><stop offset="0.227" stop-color="#e9f6e4"/><stop offset="0.291" stop-color="#e0f3db"/><stop offset="0.345" stop-color="#ccebc5"/><stop offset="0.391" stop-color="#97d493"/><stop offset="0.427" stop-color="#40aa5c"/><stop offset="0.464" stop-color="#04702f"/><stop offset="0.500" stop-color="#005020"/><stop offset="0.536" stop-color="#04702f"/><stop offset="0.573" stop-color="#40aa5c"/><stop offset="0.609" stop-color="#97d493"/><stop offset="0.655" stop-color="#ccebc5"/><stop offset="0.709" stop-color="#e0f3db"/><stop offset="0.773" stop-color="#e9f6e4"/><stop offset="0.864" stop-color="#eef9eb"/><stop offset="1.000" stop-color="#f2faef"/></linearGradient><linearGradient id="hg54"><stop offset="0.000" stop-color="#f2faef"/><stop offset="0.136" stop-color="#eef9eb"/><stop offset="0.227" stop-color="#e9f6e4"/><stop offset="0.291" stop-color="#e1f3db"/><stop offset="0.345" stop-color="#cdebc6"/><stop offset="0.391" stop-color="#9ad695"/><stop offset="0.427" stop-color="#43ac5e"/><stop offset="0.464" stop-color="#087431"/><stop offset="0.500" stop-color="#005522"/><stop offset="0.536" stop-color="#087431"/><stop offset="0.573" stop-color="#43ac5e"/><stop offset="0.609" stop-color="#9ad695"/><stop offset="0.655" stop-color="#cdebc6"/><stop offset="0.709" stop-color="#e1f3db"/><stop offset="0.773" stop-color="#e9f6e4"/><stop offset="0.864" stop-color="#eef9eb"/><stop offset="1.000" stop-color="#f2faef"/></linearGradient><linearGradient id="hg55"><stop offset="0.000" stop-color="#f2faef"/><stop offset="0.136" stop-color="#eff9eb"/><stop offset="0.227" stop-color="#e9f7e5"/><stop offset="0.291" stop-color="#e2f4dd"/><stop offset="0.345" stop-color="#d0ecc9"/><stop offset="0.391" stop-color="#a1d99b"/><stop offset="0.427" stop-color="#51b365"/><stop offset="0.464" stop-color="#157f3b"/><stop offset="0.500" stop-color="#006729"/><stop offset="0.536" stop-color="#157f3b"/><stop offset="0.573" stop-color="#51b365"/><stop offset="0.609" stop-color="#a1d99b"/><stop offset="0.655" stop-color="#d0ecc9"/><stop offset="0.709" stop-color="#e2f4dd"/><stop offset="0.773" stop-color="#e9f7e5"/><stop offset="0.864" stop-color="#eff9eb"/><stop offset="1.000" stop-color="#f2faef"/></linearGradient><linearGradient id="hg56"><stop offset="0.000" stop-color="#f2faef"/><stop offset="0.136" stop-color="#eff9eb"/><stop offset="0.227" stop-color="#e9f7e5"/><stop offset="0.291" stop-color="#e1f4dc"/><stop offset="0.345" stop-color="#ceecc8"/><stop offset="0.391" stop-color="#9dd798"/><stop offset="0.427" stop-color="#4aaf61"/><stop offset="0.464" stop-color="#0e7936"/><stop offset="0.500" stop-color="#005e26"/><stop offset="0.536" stop-color="#0e7936"/><stop offset="0.573" stop-color="#4aaf61"/><stop offset="0.609" stop-color="#9dd798"/><stop offset="0.655" stop-color="#ceecc8"/><stop offset="0.709" stop-color="#e1f4dc"/><stop offset="0.773" stop-color="#e9f7e5"/><stop offset="0.864" stop-color="#eff9eb"/><stop offset="1.000" stop-color="#f2faef"/></linearGradient><linearGradient id="hg57"><stop offset="0.000" stop-color="#f2faef"/><stop offset="0.136" stop-color="#eef9eb"/><stop offset="0.227" stop-color="#e9f7e5"/><stop offset="0.291" stop-color="#e1f3dc"/><stop offset="0.345" stop-color="#ceecc7"/><stop offset="0.391" stop-color="#9cd797"/><stop offset="0.427" stop-color="#47ae60"/><stop offset="0.464" stop-color="#0b7734"/><stop offset="0.500" stop-color="#005a24"/><stop offset="0.536" stop-color="#0b7734"/><stop offset="0.573" stop-color="#47ae60"/><stop offset="0.609" stop-color="#9cd797"/><stop offset="0.655" stop-color="#ceecc7"/><stop offset="0.709" stop-color="#e1f3dc"/><stop offset="0.773" stop-color="#e9f7e5"/><stop offset="0.864" stop-color="#eef9eb"/><stop offset="1.000" stop-color="#f2faef"/></linearGradient><linearGradient id="hg58"><stop offset="0.000" stop-color="#f2faef"/><stop offset="0.136" stop-color="#eff9eb"/><stop offset="0.227" stop-color="#e9f7e5"/><stop offset="0.291" stop-color="#e2f4dd"/><stop offset="0.345" stop-color="#cfecc9"/><stop offset="0.391" stop-color="#a1d99b"/><stop offset="0.427" stop-color="#50b365"/><stop offset="0.464" stop-color="#147e3a"/><stop offset="0.500" stop-color="#006529"/><stop offset="0.536" stop-color="#147e3a"/><stop offset="0.573" stop-color="#50b365"/><stop offset="0.609" stop-color="#a1d99b"/><stop offset="0.655" stop-color="#cfecc9"/><stop offset="0.709" stop-color="#e2f4dd"/><stop offset="0.773" stop-color="#e9f7e5"/><stop offset="0.864" stop-color="#eff9eb"/><stop offset="1.000" stop-color="#f2faef"/></linearGradient><linearGradient id="hg59"><stop offset="0.000" stop-color="#f2faef"/><stop offset="0.136" stop-color="#eff9eb"/><stop offset="0.227" stop-color="#e9f7e5"/><stop offset="0.291" stop-color="#e2f4dc"/><stop offset="0.345" stop-color="#cfecc8"/><stop offset="0.391" stop-color="#9fd899"/><stop offset="0.427" stop-color="#4db163"/><stop offset="0.464" stop-color="#107b38"/><stop offset="0.500" stop-color="#006127"/><stop offset="0.536" stop-color="#107b38"/><stop offset="0.573" stop-color="#4db163"/><stop offset="0.609" stop-color="#9fd899"/><stop offset="0.655" stop-color="#cfecc8"/><stop offset="0.709" stop-color="#e2f4dc"/><stop offset="0.773" stop-color="#e9f7e5"/><stop offset="0.864" stop-color="#eff9eb"/><stop offset="1.000" stop-color="#f2faef"/></linearGradient><linearGradient id="hg60"><stop offset="0.000" stop-color="#f2faef"/><stop offset="0.136" stop-color="#eff9eb"/><stop offset="0.227" stop-color="#eaf7e5"/><stop offset="0.291" stop-color="#e3f4de"/><stop offset="0.345" stop-color="#d1edcb"/><stop offset="0.391" stop-color="#a4da9e"/><stop offset="0.427" stop-color="#58b668"/><stop offset="0.464" stop-color="#1b8440"/><stop offset="0.500" stop-color="#026f2d"/><stop offset="0.536" stop-color="#1b8440"/><stop offset="0.573" stop-color="#58b668"/><stop offset="0.609" stop-color="#a4da9e"/><stop offset="0.655" stop-color="#d1edcb"/><stop offset="0.709" stop-color="#e3f4de"/><stop offset="0.773" stop-color="#eaf7e5"/><stop offset="0.864" stop-color="#eff9eb"/><stop offset="1.000" stop-color="#f2faef"/></linearGradient><linearGradient id="hg61"><stop offset="0.000" stop-color="#f2faef"/><stop offset="0.136" stop-color="#eff9eb"/><stop offset="0.227" stop-color="#eaf7e5"/><stop offset="0.291" stop-color="#e3f4de"/><stop offset="0.345" stop-color="#d1edcb"/><stop offset="0.391" stop-color="#a5db9f"/><stop offset="0.427" stop-color="#59b769"/><stop offset="0.464" stop-color="#1d8641"/><stop offset="0.500" stop-color="#03702e"/><stop offset="0.536" stop-color="#1d8641"/><stop offset="0.573" stop-color="#59b769"/><stop offset="0.609" stop-color="#a5db9f"/><stop offset="0.655" stop-color="#d1edcb"/><stop offset="0.709" stop-color="#e3f4de"/><stop offset="0.773" stop-color="#eaf7e5"/><stop offset="0.864" stop-color="#eff9eb"/><stop offset="1.000" stop-color="#f2faef"/></linearGradient><linearGradient id="hg62"><stop offset="0.000" stop-color="#f2faef"/><stop offset="0.136" stop-color="#eff9ec"/><stop offset="0.227" stop-color="#eaf7e6"/><stop offset="0.291" stop-color="#e4f5df"/><stop offset="0.345" stop-color="#d2eecc"/><stop offset="0.391" stop-color="#a8dca2"/><stop offset="0.427" stop-color="#60ba6c"/><stop offset="0.464" stop-color="#238b45"/><stop offset="0.500" stop-color="#0a7633"/><stop offset="0.536" stop-color="#238b45"/><stop offset="0.573" stop-color="#60ba6c"/><stop offset="0.609" stop-color="#a8dca2"/><stop offset="0.655" stop-color="#d2eecc"/><stop offset="0.709" stop-color="#e4f5df"/><stop offset="0.773" stop-color="#eaf7e6"/><stop offset="0.864" stop-color="#eff9ec"/><stop offset="1.000" stop-color="#f2faef"/></linearGradient><linearGradient id="hg63"><stop offset="0.000" stop-color="#f2faef"/><stop offset="0.136" stop-color="#eff9ec"/><stop offset="0.227" stop-color="#eaf7e6"/><stop offset="0.291" stop-color="#e4f4de"/><stop offset="0.345" stop-color="#d2edcb"/><stop offset="0.391" stop-color="#a6dba0"/><stop offset="0.427" stop-color="#5db96b"/><stop offset="0.464" stop-color="#208843"/><stop offset="0.500" stop-color="#077331"/><stop offset="0.536" stop-color="#208843"/><stop offset="0.573" stop-color="#5db96b"/><stop offset="0.609" stop-color="#a6dba0"/><stop offset="0.655" stop-color="#d2edcb"/><stop offset="0.709" stop-color="#e4f4de"/><stop offset="0.773" stop-color="#eaf7e6"/><stop offset="0.864" stop-color="#eff9ec"/><stop offset="1.000" stop-color="#f2faef"/></linearGradient><linearGradient id="hg64"><stop offset="0.000" stop-color="#f2faef"/><stop offset="0.136" stop-color="#eff9ec"/><stop offset="0.227" stop-color="#eaf7e6"/><stop offset="0.291" stop-color="#e5f5e0"/><stop offset="0.345" stop-color="#d4eece"/><stop offset="0.391" stop-color="#acdea6"/><stop offset="0.427" stop-color="#68be70"/><stop offset="0.464" stop-color="#2a924a"/><stop offset="0.500" stop-color="#137e3a"/><stop offset="0.536" stop-color="#2a924a"/><stop offset="0.573" stop-color="#68be70"/><stop offset="0.609" stop-color="#acdea6"/><stop offset="0.655" stop-color="#d4eece"/><stop offset="0.709" stop-color="#e5f5e0"/><stop offset="0.773" stop-color="#eaf7e6"/><stop offset="0.864" stop-color="#eff9ec"/><stop offset="1.000" stop-color="#f2faef"/></linearGradient><linearGradient id="hg65"><stop offset="0.000" stop-color="#f2faef"/><stop offset="0.136" stop-color="#eff9ec"/><stop offset="0.227" stop-color="#eaf7e6"/><stop offset="0.291" stop-color="#e4f5df"/><stop offset="0.345" stop-color="#d3eecd"/><stop offset="0.391" stop-color="#aadda4"/><stop offset="0.427" stop-color="#65bd6f"/><stop offset="0.464" stop-color="#278f48"/><stop offset="0.500" stop-color="#107b37"/><stop offset="0.536" stop-color="#278f48"/><stop offset="0.573" stop-color="#65bd6f"/><stop offset="0.609" stop-color="#aadda4"/><stop offset="0.655" stop-color="#d3eecd"/><stop offset="0.709" stop-color="#e4f5df"/><stop offset="0.773" stop-color="#eaf7e6"/><stop offset="0.864" stop-color="#eff9ec"/><stop offset="1.000" stop-color="#f2faef"/></linearGradient><linearGradient id="hg66"><stop offset="0.000" stop-color="#f2faef"/><stop offset="0.136" stop-color="#eff9ec"/><stop offset="0.227" stop-color="#ebf7e7"/><stop offset="0.291" stop-color="#e5f5e0"/><stop offset="0.345" stop-color="#d5efcf"/><stop offset="0.391" stop-color="#afdfa9"/><stop offset="0.427" stop-color="#6fc274"/><stop offset="0.464" stop-color="#2f984f"/><stop offset="0.500" stop-color="#1b843f"/><stop offset="0.536" stop-color="#2f984f"/><stop offset="0.573" stop-color="#6fc274"/><stop offset="0.609" stop-color="#afdfa9"/><stop offset="0.655" stop-color="#d5efcf"/><stop offset="0.709" stop-color="#e5f5e0"/><stop offset="0.773" stop-color="#ebf7e7"/><stop offset="0.864" stop-color="#eff9ec"/><stop offset="1.000" stop-color="#f2faef"/></linearGradient><linearGradient id="hg67"><stop offset="0.000" stop-color="#f2faef"/><stop offset="0.136" stop-color="#eff9ec"/><stop offset="0.227" stop-color="#eaf7e6"/><stop offset="0.291" stop-color="#e5f5e0"/><stop offset="0.345" stop-color="#d5efcf"/><stop offset="0.391" stop-color="#aedea8"/><stop offset="0.427" stop-color="#6dc173"/><stop offset="0.464" stop-color="#2e964e"/><stop offset="0.500" stop-color="#18823d"/><stop offset="0.536" stop-color="#2e964e"/><stop offset="0.573" stop-color="#6dc173"/><stop offset="0.609" stop-color="#aedea8"/><stop offset="0.655" stop-color="#d5efcf"/><stop offset="0.709" stop-color="#e5f5e0"/><stop offset="0.773" stop-color="#eaf7e6"/><stop offset="0.864" stop-color="#eff9ec"/><stop offset="1.000" stop-color="#f2faef"/></linearGradient><linearGradient id="hg68"><stop offset="0.000" stop-color="#f2faef"/><stop offset="0.136" stop-color="#eff9ec"/><stop offset="0.227" stop-color="#ebf7e7"/><stop offset="0.291" stop-color="#e6f5e1"/><stop offset="0.345" stop-color="#d6efd0"/><stop offset="0.391" stop-color="#b1e0aa"/><stop offset="0.427" stop-color="#73c476"/><stop offset="0.464" stop-color="#339c51"/><stop offset="0.500" stop-color="#1f8742"/><stop offset="0.536" stop-color="#339c51"/><stop offset="0.573" stop-color="#73c476"/><stop offset="0.609" stop-color="#b1e0aa"/><stop offset="0.655" stop-color="#d6efd0"/><stop offset="0.709" stop-color="#e6f5e1"/><stop offset="0.773" stop-color="#ebf7e7"/><stop offset="0.864" stop-color="#eff9ec"/><stop offset="1.000" stop-color="#f2faef"/></linearGradient><linearGradient id="hg69"><stop offset="0.000" stop-color="#f2faef"/><stop offset="0.136" stop-color="#eff9ec"/><stop offset="0.227" stop-color="#ebf7e7"/><stop offset="0.291" stop-color="#e6f5e1"/><stop offset="0.345" stop-color="#d7efd1"/><stop offset="0.391" stop-color="#b3e1ad"/><stop offset="0.427" stop-color="#78c679"/><stop offset="0.464" stop-color="#37a055"/><stop offset="0.500" stop-color="#248c46"/><stop offset="0.536" stop-color="#37a055"/><stop offset="0.573" stop-color="#78c679"/><stop offset="0.609" stop-color="#b3e1ad"/><stop offset="0.655" stop-color="#d7efd1"/><stop offset="0.709" stop-color="#e6f5e1"/><stop offset="0.773" stop-color="#ebf7e7"/><stop offset="0.864" stop-color="#eff9ec"/><stop offset="1.000" stop-color="#f2faef"/></linearGradient><linearGradient id="hg70"><stop offset="0.000" stop-color="#f2faef"/><stop offset="0.136" stop-color="#f0f9ec"/><stop offset="0.227" stop-color="#ebf8e8"/><stop offset="0.291" stop-color="#e7f6e2"/><stop offset="0.345" stop-color="#daf0d4"/><stop offset="0.391" stop-color="#b9e3b2"/><stop offset="0.427" stop-color="#83cb82"/><stop offset="0.464" stop-color="#41ab5d"/><stop offset="0.500" stop-color="#2f984f"/><stop offset="0.536" stop-color="#41ab5d"/><stop offset="0.573" stop-color="#83cb82"/><stop offset="0.609" stop-color="#b9e3b2"/><stop offset="0.655" stop-color="#daf0d4"/><stop offset="0.709" stop-color="#e7f6e2"/><stop offset="0.773" stop-color="#ebf8e8"/><stop offset="0.864" stop-color="#f0f9ec"/><stop offset="1.000" stop-color="#f2faef"/></linearGradient><linearGradient id="hg71"><stop offset="0.000" stop-color="#f2faef"/><stop offset="0.136" stop-color="#f0f9ec"/><stop offset="0.227" stop-color="#ecf8e8"/><stop offset="0.291" stop-color="#e7f6e3"/><stop offset="0.345" stop-color="#dbf1d5"/><stop offset="0.391" stop-color="#bbe4b5"/><stop offset="0.427" stop-color="#88cd86"/><stop offset="0.464" stop-color="#48af61"/><stop offset="0.500" stop-color="#349e53"/><stop offset="0.536" stop-color="#48af61"/><stop offset="0.573" stop-color="#88cd86"/><stop offset="0.609" stop-color="#bbe4b5"/><stop offset="0.655" stop-color="#dbf1d5"/><stop offset="0.709" stop-color="#e7f6e3"/><stop offset="0.773" stop-color="#ecf8e8"/><stop offset="0.864" stop-color="#f0f9ec"/><stop offset="1.000" stop-color="#f2faef"/></linearGradient><linearGradient id="hg72"><stop offset="0.000" stop-color="#f2faef"/><stop offset="0.136" stop-color="#eff9ec"/><stop offset="0.227" stop-color="#ebf7e7"/><stop offset="0.291" stop-color="#e6f5e1"/><stop offset="0.345" stop-color="#d8f0d2"/><stop offset="0.391" stop-color="#b5e1af"/><stop offset="0.427" stop-color="#7bc77c"/><stop offset="0.464" stop-color="#3aa458"/><stop offset="0.500" stop-color="#289049"/><stop offset="0.536" stop-color="#3aa458"/><stop offset="0.573" stop-color="#7bc77c"/><stop offset="0.609" stop-color="#b5e1af"/><stop offset="0.655" stop-color="#d8f0d2"/><stop offset="0.709" stop-color="#e6f5e1"/><stop offset="0.773" stop-color="#ebf7e7"/><stop offset="0.864" stop-color="#eff9ec"/><stop offset="1.000" stop-color="#f2faef"/></linearGradient><linearGradient id="hg73"><stop offset="0.000" stop-color="#f2faef"/><stop offset="0.136" stop-color="#f0f9ed"/><stop offset="0.227" stop-color="#ecf8e8"/><stop offset="0.291" stop-color="#e7f6e3"/><stop offset="0.345" stop-color="#dbf1d6"/><stop offset="0.391" stop-color="#bde5b6"/><stop offset="0.427" stop-color="#8ace88"/><stop offset="0.464" stop-color="#4db163"/><stop offset="0.500" stop-color="#37a155"/><stop offset="0.536" stop-color="#4db163"/><stop offset="0.573" stop-color="#8ace88"/><stop offset="0.609" stop-color="#bde5b6"/><stop offset="0.655" stop-color="#dbf1d6"/><stop offset="0.709" stop-color="#e7f6e3"/><stop offset="0.773" stop-color="#ecf8e8"/><stop offset="0.864" stop-color="#f0f9ed"/><stop offset="1.000" stop-color="#f2faef"/></linearGradient><linearGradient id="hg74"><stop offset="0.000" stop-color="#f2faef"/><stop offset="0.136" stop-color="#f0f9ed"/><stop offset="0.227" stop-color="#ecf8e8"/><stop offset="0.291" stop-color="#e8f6e4"/><stop offset="0.345" stop-color="#ddf2d8"/><stop offset="0.391" stop-color="#c1e7ba"/><stop offset="0.427" stop-color="#93d28f"/><stop offset="0.464" stop-color="#5ab769"/><stop offset="0.500" stop-color="#40aa5c"/><stop offset="0.536" stop-color="#5ab769"/><stop offset="0.573" stop-color="#93d28f"/><stop offset="0.609" stop-color="#c1e7ba"/><stop offset="0.655" stop-color="#ddf2d8"/><stop offset="0.709" stop-color="#e8f6e4"/><stop offset="0.773" stop-color="#ecf8e8"/><stop offset="0.864" stop-color="#f0f9ed"/><stop offset="1.000" stop-color="#f2faef"/></linearGradient><linearGradient id="hg75"><stop offset="0.000" stop-color="#f2faef"/><stop offset="0.136" stop-color="#f0f9ed"/><stop offset="0.227" stop-color="#ecf8e9"/><stop offset="0.291" stop-color="#e8f6e4"/><stop offset="0.345" stop-color="#def2d8"/><stop offset="0.391" stop-color="#c3e7bc"/><stop offset="0.427" stop-color="#96d492"/><stop offset="0.464" stop-color="#60ba6c"/><stop offset="0.500" stop-color="#46ad5f"/><stop offset="0.536" stop-color="#60ba6c"/><stop offset="0.573" stop-color="#96d492"/><stop offset="0.609" stop-color="#c3e7bc"/><stop offset="0.655" stop-color="#def2d8"/><stop offset="0.709" stop-color="#e8f6e4"/><stop offset="0.773" stop-color="#ecf8e9"/><stop offset="0.864" stop-color="#f0f9ed"/><stop offset="1.000" stop-color="#f2faef"/></linearGradient><linearGradient id="hg76"><stop offset="0.000" stop-color="#f2faef"/><stop offset="0.136" stop-color="#f0f9ed"/><stop offset="0.227" stop-color="#edf8e9"/><stop offset="0.291" stop-color="#e9f6e4"/><stop offset="0.345" stop-color="#dff3d9"/><stop offset="0.391" stop-color="#c5e8be"/><stop offset="0.427" stop-color="#9ad695"/><stop offset="0.464" stop-color="#66bd6f"/><stop offset="0.500" stop-color="#4db163"/><stop offset="0.536" stop-color="#66bd6f"/><stop offset="0.573" stop-color="#9ad695"/><stop offset="0.609" stop-color="#c5e8be"/><stop offset="0.655" stop-color="#dff3d9"/><stop offset="0.709" stop-color="#e9f6e4"/><stop offset="0.773" stop-color="#edf8e9"/><stop offset="0.864" stop-color="#f0f9ed"/><stop offset="1.000" stop-color="#f2faef"/></linearGradient><linearGradient id="hg77"><stop offset="0.000" stop-color="#f2faef"/><stop offset="0.136" stop-color="#f0f9ed"/><stop offset="0.227" stop-color="#edf8e9"/><stop offset="0.291" stop-color="#e9f7e5"/><stop offset="0.345" stop-color="#dff3da"/><stop offset="0.391" stop-color="#c7e9c0"/><stop offset="0.427" stop-color="#9dd798"/><stop offset="0.464" stop-color="#6bbf71"/><stop offset="0.500" stop-color="#52b365"/><stop offset="0.536" stop-color="#6bbf71"/><stop offset="0.573" stop-color="#9dd798"/><stop offset="0.609" stop-color="#c7e9c0"/><stop offset="0.655" stop-color="#dff3da"/><stop offset="0.709" stop-color="#e9f7e5"/><stop offset="0.773" stop-color="#edf8e9"/><stop offset="0.864" stop-color="#f0f9ed"/><stop offset="1.000" stop-color="#f2faef"/></linearGradient><linearGradient id="hg78"><stop offset="0.000" stop-color="#f2faef"/><stop offset="0.136" stop-color="#f0f9ed"/><stop offset="0.227" stop-color="#edf8e9"/><stop offset="0.291" stop-color="#e9f7e5"/><stop offset="0.345" stop-color="#e0f3db"/><stop offset="0.391" stop-color="#c8eac1"/><stop offset="0.427" stop-color="#a1d99b"/><stop offset="0.464" stop-color="#70c274"/><stop offset="0.500" stop-color="#58b668"/><stop offset="0.536" stop-color="#70c274"/><stop offset="0.573" stop-color="#a1d99b"/><stop offset="0.609" stop-color="#c8eac1"/><stop offset="0.655" stop-color="#e0f3db"/><stop offset="0.709" stop-color="#e9f7e5"/><stop offset="0.773" stop-color="#edf8e9"/><stop offset="0.864" stop-color="#f0f9ed"/><stop offset="1.000" stop-color="#f2faef"/></linearGradient><linearGradient id="hg79"><stop offset="0.000" stop-color="#f2faef"/><stop offset="0.136" stop-color="#f0f9ed"/><stop offset="0.227" stop-color="#edf8e9"/><stop offset="0.291" stop-color="#e9f6e4"/><stop offset="0.345" stop-color="#dff3d9"/><stop offset="0.391" stop-color="#c5e8bf"/><stop offset="0.427" stop-color="#9bd696"/><stop offset="0.464" stop-color="#67bd6f"/><stop offset="0.500" stop-color="#4db163"/><stop offset="0.536" stop-color="#67bd6f"/><stop offset="0.573" stop-color="#9bd696"/><stop offset="0.609" stop-color="#c5e8bf"/><stop offset="0.655" stop-color="#dff3d9"/><stop offset="0.709" stop-color="#e9f6e4"/><stop offset="0.773" stop-color="#edf8e9"/><stop offset="0.864" stop-color="#f0f9ed"/><stop offset="1.000" stop-color="#f2faef"/></linearGradient><linearGradient id="hg80"><stop offset="0.000" stop-color="#f2faef"/><stop offset="0.136" stop-color="#f0f9ed"/><stop offset="0.227" stop-color="#edf8ea"/><stop offset="0.291" stop-color="#eaf7e6"/><stop offset="0.345" stop-color="#e3f4de"/><stop offset="0.391" stop-color="#cdecc7"/><stop offset="0.427" stop-color="#abdda5"/><stop offset="0.464" stop-color="#81ca81"/><stop offset="0.500" stop-color="#6dc173"/><stop offset="0.536" stop-color="#81ca81"/><stop offset="0.573" stop-color="#abdda5"/><stop offset="0.609" stop-color="#cdecc7"/><stop offset="0.655" stop-color="#e3f4de"/><stop offset="0.709" stop-color="#eaf7e6"/><stop offset="0.773" stop-color="#edf8ea"/><stop offset="0.864" stop-color="#f0f9ed"/><stop offset="1.000" stop-color="#f2faef"/></linearGradient><linearGradient id="hg81"><stop offset="0.000" stop-color="#f2faef"/><stop offset="0.136" stop-color="#f0f9ed"/><stop offset="0.227" stop-color="#edf8ea"/><stop offset="0.291" stop-color="#eaf7e5"/><stop offset="0.345" stop-color="#e2f4dc"/><stop offset="0.391" stop-color="#cbebc4"/><stop offset="0.427" stop-color="#a6dba0"/><stop offset="0.464" stop-color="#7ac77b"/><stop offset="0.500" stop-color="#64bc6e"/><stop offset="0.536" stop-color="#7ac77b"/><stop offset="0.573" stop-color="#a6dba0"/><stop offset="0.609" stop-color="#cbebc4"/><stop offset="0.655" stop-color="#e2f4dc"/><stop offset="0.709" stop-color="#eaf7e5"/><stop offset="0.773" stop-color="#edf8ea"/><stop offset="0.864" stop-color="#f0f9ed"/><stop offset="1.000" stop-color="#f2faef"/></linearGradient><linearGradient id="hg82"><stop offset="0.000" stop-color="#f2faf0"/><stop offset="0.136" stop-color="#f1f9ed"/><stop offset="0.227" stop-color="#eef8ea"/><stop offset="0.291" stop-color="#eaf7e6"/><stop offset="0.345" stop-color="#e4f5df"/><stop offset="0.391" stop-color="#cfecc9"/><stop offset="0.427" stop-color="#afdfa9"/><stop offset="0.464" stop-color="#88cd87"/><stop offset="0.500" stop-color="#76c578"/><stop offset="0.536" stop-color="#88cd87"/><stop offset="0.573" stop-color="#afdfa9"/><stop offset="0.609" stop-color="#cfecc9"/><stop offset="0.655" stop-color="#e4f5df"/><stop offset="0.709" stop-color="#eaf7e6"/><stop offset="0.773" stop-color="#eef8ea"/><stop offset="0.864" stop-color="#f1f9ed"/><stop offset="1.000" stop-color="#f2faf0"/></linearGradient><linearGradient id="hg83"><stop offset="0.000" stop-color="#f2faf0"/><stop offset="0.136" stop-color="#f1faee"/><stop offset="0.227" stop-color="#eef8ea"/><stop offset="0.291" stop-color="#ebf7e7"/><stop offset="0.345" stop-color="#e5f5e0"/><stop offset="0.391" stop-color="#d1edcb"/><stop offset="0.427" stop-color="#b3e1ac"/><stop offset="0.464" stop-color="#8ed08b"/><stop offset="0.500" stop-color="#7dc87d"/><stop offset="0.536" stop-color="#8ed08b"/><stop offset="0.573" stop-color="#b3e1ac"/><stop offset="0.609" stop-color="#d1edcb"/><stop offset="0.655" stop-color="#e5f5e0"/><stop offset="0.709" stop-color="#ebf7e7"/><stop offset="0.773" stop-color="#eef8ea"/><stop offset="0.864" stop-color="#f1faee"/><stop offset="1.000" stop-color="#f2faf0"/></linearGradient><linearGradient id="hg84"><stop offset="0.000" stop-color="#f2faef"/><stop offset="0.136" stop-color="#f0f9ed"/><stop offset="0.227" stop-color="#eef8ea"/><stop offset="0.291" stop-color="#eaf7e6"/><stop offset="0.345" stop-color="#e3f4de"/><stop offset="0.391" stop-color="#ceecc8"/><stop offset="0.427" stop-color="#addea7"/><stop offset="0.464" stop-color="#85cc84"/><stop offset="0.500" stop-color="#72c375"/><stop offset="0.536" stop-color="#85cc84"/><stop offset="0.573" stop-color="#addea7"/><stop offset="0.609" stop-color="#ceecc8"/><stop offset="0.655" stop-color="#e3f4de"/><stop offset="0.709" stop-color="#eaf7e6"/><stop offset="0.773" stop-color="#eef8ea"/><stop offset="0.864" stop-color="#f0f9ed"/><stop offset="1.000" stop-color="#f2faef"/></linearGradient><linearGradient id="hg85"><stop offset="0.000" stop-color="#f2faf0"/><stop offset="0.136" stop-color="#f1f9ed"/><stop offset="0.227" stop-color="#eef8ea"/><stop offset="0.291" stop-color="#eaf7e6"/><stop offset="0.345" stop-color="#e4f5df"/><stop offset="0.391" stop-color="#cfecc9"/><stop offset="0.427" stop-color="#aedfa8"/><stop offset="0.464" stop-color="#87cd85"/><stop offset="0.500" stop-color="#74c476"/><stop offset="0.536" stop-color="#87cd85"/><stop offset="0.573" stop-color="#aedfa8"/><stop offset="0.609" stop-color="#cfecc9"/><stop offset="0.655" stop-color="#e4f5df"/><stop offset="0.709" stop-color="#eaf7e6"/><stop offset="0.773" stop-color="#eef8ea"/><stop offset="0.864" stop-color="#f1f9ed"/><stop offset="1.000" stop-color="#f2faf0"/></linearGradient><linearGradient id="hg86"><stop offset="0.000" stop-color="#f2faf0"/><stop offset="0.136" stop-color="#f1faee"/><stop offset="0.227" stop-color="#eef9eb"/><stop offset="0.291" stop-color="#ebf7e7"/><stop offset="0.345" stop-color="#e6f5e1"/><stop offset="0.391" stop-color="#d4eece"/><stop offset="0.427" stop-color="#b9e3b2"/><stop offset="0.464" stop-color="#98d593"/><stop offset="0.500" stop-color="#88cd86"/><stop offset="0.536" stop-color="#98d593"/><stop offset="0.573" stop-color="#b9e3b2"/><stop offset="0.609" stop-color="#d4eece"/><stop offset="0.655" stop-color="#e6f5e1"/><stop offset="0.709" stop-color="#ebf7e7"/><stop offset="0.773" stop-color="#eef9eb"/><stop offset="0.864" stop-color="#f1faee"/><stop offset="1.000" stop-color="#f2faf0"/></linearGradient><linearGradient id="hg87"><stop offset="0.000" stop-color="#f2faf0"/><stop offset="0.136" stop-color="#f1faee"/><stop offset="0.227" stop-color="#eef9eb"/><stop offset="0.291" stop-color="#ebf7e7"/><stop offset="0.345" stop-color="#e6f5e1"/><stop offset="0.391" stop-color="#d4eece"/><stop offset="0.427" stop-color="#bae3b3"/><stop offset="0.464" stop-color="#99d595"/><stop offset="0.500" stop-color="#89ce87"/><stop offset="0.536" stop-color="#99d595"/><stop offset="0.573" stop-color="#bae3b3"/><stop offset="0.609" stop-color="#d4eece"/><stop offset="0.655" stop-color="#e6f5e1"/><stop offset="0.709" stop-color="#ebf7e7"/><stop offset="0.773" stop-color="#eef9eb"/><stop offset="0.864" stop-color="#f1faee"/><stop offset="1.000" stop-color="#f2faf0"/></linearGradient><linearGradient id="hg88"><stop offset="0.000" stop-color="#f2faf0"/><stop offset="0.136" stop-color="#f1faee"/><stop offset="0.227" stop-color="#eff9eb"/><stop offset="0.291" stop-color="#ecf8e8"/><stop offset="0.345" stop-color="#e7f6e3"/><stop offset="0.391" stop-color="#d9f0d3"/><stop offset="0.427" stop-color="#c2e7bb"/><stop offset="0.464" stop-color="#a6dba0"/><stop offset="0.500" stop-color="#99d594"/><stop offset="0.536" stop-color="#a6dba0"/><stop offset="0.573" stop-color="#c2e7bb"/><stop offset="0.609" stop-color="#d9f0d3"/><stop offset="0.655" stop-color="#e7f6e3"/><stop offset="0.709" stop-color="#ecf8e8"/><stop offset="0.773" stop-color="#eff9eb"/><stop offset="0.864" stop-color="#f1faee"/><stop offset="1.000" stop-color="#f2faf0"/></linearGradient><linearGradient id="hg89"><stop offset="0.000" stop-color="#f2faf0"/><stop offset="0.136" stop-color="#f1faee"/><stop offset="0.227" stop-color="#eef9eb"/><stop offset="0.291" stop-color="#ecf8e8"/><stop offset="0.345" stop-color="#e7f6e2"/><stop offset="0.391" stop-color="#d6efd0"/><stop offset="0.427" stop-color="#bde5b7"/><stop offset="0.464" stop-color="#9fd89a"/><stop offset="0.500" stop-color="#90d18d"/><stop offset="0.536" stop-color="#9fd89a"/><stop offset="0.573" stop-color="#bde5b7"/><stop offset="0.609" stop-color="#d6efd0"/><stop offset="0.655" stop-color="#e7f6e2"/><stop offset="0.709" stop-color="#ecf8e8"/><stop offset="0.773" stop-color="#eef9eb"/><stop offset="0.864" stop-color="#f1faee"/><stop offset="1.000" stop-color="#f2faf0"/></linearGradient><linearGradient id="hg90"><stop offset="0.000" stop-color="#f2faf0"/><stop offset="0.136" stop-color="#f1faee"/><stop offset="0.227" stop-color="#eff9eb"/><stop offset="0.291" stop-color="#ecf8e8"/><stop offset="0.345" stop-color="#e7f6e3"/><stop offset="0.391" stop-color="#d9f0d3"/><stop offset="0.427" stop-color="#c3e7bc"/><stop offset="0.464" stop-color="#a7dca1"/><stop offset="0.500" stop-color="#9ad695"/><stop offset="0.536" stop-color="#a7dca1"/><stop offset="0.573" stop-color="#c3e7bc"/><stop offset="0.609" stop-color="#d9f0d3"/><stop offset="0.655" stop-color="#e7f6e3"/><stop offset="0.709" stop-color="#ecf8e8"/><stop offset="0.773" stop-color="#eff9eb"/><stop offset="0.864" stop-color="#f1faee"/><stop offset="1.000" stop-color="#f2faf0"/></linearGradient><linearGradient id="hg91"><stop offset="0.000" stop-color="#f2faf0"/><stop offset="0.136" stop-color="#f1faee"/><stop offset="0.227" stop-color="#eff9ec"/><stop offset="0.291" stop-color="#ecf8e9"/><stop offset="0.345" stop-color="#e8f6e3"/><stop offset="0.391" stop-color="#daf1d5"/><stop offset="0.427" stop-color="#c6e9bf"/><stop offset="0.464" stop-color="#abdda5"/><stop offset="0.500" stop-color="#a0d89a"/><stop offset="0.536" stop-color="#abdda5"/><stop offset="0.573" stop-color="#c6e9bf"/><stop offset="0.609" stop-color="#daf1d5"/><stop offset="0.655" stop-color="#e8f6e3"/><stop offset="0.709" stop-color="#ecf8e9"/><stop offset="0.773" stop-color="#eff9ec"/><stop offset="0.864" stop-color="#f1faee"/><stop offset="1.000" stop-color="#f2faf0"/></linearGradient><linearGradient id="hg92"><stop offset="0.000" stop-color="#f2faf0"/><stop offset="0.136" stop-color="#f1faee"/><stop offset="0.227" stop-color="#eff9ec"/><stop offset="0.291" stop-color="#edf8e9"/><stop offset="0.345" stop-color="#e9f6e4"/><stop offset="0.391" stop-color="#ddf2d7"/><stop offset="0.427" stop-color="#caeac3"/><stop offset="0.464" stop-color="#b2e0ab"/><stop offset="0.500" stop-color="#a7dba1"/><stop offset="0.536" stop-color="#b2e0ab"/><stop offset="0.573" stop-color="#caeac3"/><stop offset="0.609" stop-color="#ddf2d7"/><stop offset="0.655" stop-color="#e9f6e4"/><stop offset="0.709" stop-color="#edf8e9"/><stop offset="0.773" stop-color="#eff9ec"/><stop offset="0.864" stop-color="#f1faee"/><stop offset="1.000" stop-color="#f2faf0"/></linearGradient><linearGradient id="hg93"><stop offset="0.000" stop-color="#f2faf0"/><stop offset="0.136" stop-color="#f1faee"/><stop offset="0.227" stop-color="#f0f9ec"/><stop offset="0.291" stop-color="#eef8ea"/><stop offset="0.345" stop-color="#eaf7e6"/><stop offset="0.391" stop-color="#e0f3db"/><stop offset="0.427" stop-color="#cfecc9"/><stop offset="0.464" stop-color="#bce4b5"/><stop offset="0.500" stop-color="#b2e0ac"/><stop offset="0.536" stop-color="#bce4b5"/><stop offset="0.573" stop-color="#cfecc9"/><stop offset="0.609" stop-color="#e0f3db"/><stop offset="0.655" stop-color="#eaf7e6"/><stop offset="0.709" stop-color="#eef8ea"/><stop offset="0.773" stop-color="#f0f9ec"/><stop offset="0.864" stop-color="#f1faee"/><stop offset="1.000" stop-color="#f2faf0"/></linearGradient><linearGradient id="hg94"><stop offset="0.000" stop-color="#f2faf0"/><stop offset="0.136" stop-color="#f1faee"/><stop offset="0.227" stop-color="#f0f9ec"/><stop offset="0.291" stop-color="#eef8ea"/><stop offset="0.345" stop-color="#eaf7e6"/><stop offset="0.391" stop-color="#e1f3dc"/><stop offset="0.427" stop-color="#d0edca"/><stop offset="0.464" stop-color="#bee5b7"/><stop offset="0.500" stop-color="#b4e1ae"/><stop offset="0.536" stop-color="#bee5b7"/><stop offset="0.573" stop-color="#d0edca"/><stop offset="0.609" stop-color="#e1f3dc"/><stop offset="0.655" stop-color="#eaf7e6"/><stop offset="0.709" stop-color="#eef8ea"/><stop offset="0.773" stop-color="#f0f9ec"/><stop offset="0.864" stop-color="#f1faee"/><stop offset="1.000" stop-color="#f2faf0"/></linearGradient><linearGradient id="hg95"><stop offset="0.000" stop-color="#f2faf0"/><stop offset="0.136" stop-color="#f1faef"/><stop offset="0.227" stop-color="#f0f9ed"/><stop offset="0.291" stop-color="#eef8ea"/><stop offset="0.345" stop-color="#ebf7e6"/><stop offset="0.391" stop-color="#e2f4dd"/><stop offset="0.427" stop-color="#d3eecd"/><stop offset="0.464" stop-color="#c2e7bb"/><stop offset="0.500" stop-color="#b9e3b3"/><stop offset="0.536" stop-color="#c2e7bb"/><stop offset="0.573" stop-color="#d3eecd"/><stop offset="0.609" stop-color="#e2f4dd"/><stop offset="0.655" stop-color="#ebf7e6"/><stop offset="0.709" stop-color="#eef8ea"/><stop offset="0.773" stop-color="#f0f9ed"/><stop offset="0.864" stop-color="#f1faef"/><stop offset="1.000" stop-color="#f2faf0"/></linearGradient><linearGradient id="hg96"><stop offset="0.000" stop-color="#f2faf0"/><stop offset="0.136" stop-color="#f1faef"/><stop offset="0.227" stop-color="#f0f9ed"/><stop offset="0.291" stop-color="#eef9eb"/><stop offset="0.345" stop-color="#ebf7e7"/><stop offset="0.391" stop-color="#e3f4de"/><stop offset="0.427" stop-color="#d5eece"/><stop offset="0.464" stop-color="#c5e8be"/><stop offset="0.500" stop-color="#bce5b6"/><stop offset="0.536" stop-color="#c5e8be"/><stop offset="0.573" stop-color="#d5eece"/><stop offset="0.609" stop-color="#e3f4de"/><stop offset="0.655" stop-color="#ebf7e7"/><stop offset="0.709" stop-color="#eef9eb"/><stop offset="0.773" stop-color="#f0f9ed"/><stop offset="0.864" stop-color="#f1faef"/><stop offset="1.000" stop-color="#f2faf0"/></linearGradient><linearGradient id="hg97"><stop offset="0.000" stop-color="#f2faf0"/><stop offset="0.136" stop-color="#f2faef"/><stop offset="0.227" stop-color="#f0f9ed"/><stop offset="0.291" stop-color="#eff9eb"/><stop offset="0.345" stop-color="#ecf8e8"/><stop offset="0.391" stop-color="#e6f5e1"/><stop offset="0.427" stop-color="#daf0d4"/><stop offset="0.464" stop-color="#ccebc6"/><stop offset="0.500" stop-color="#c7e9c0"/><stop offset="0.536" stop-color="#ccebc6"/><stop offset="0.573" stop-color="#daf0d4"/><stop offset="0.609" stop-color="#e6f5e1"/><stop offset="0.655" stop-color="#ecf8e8"/><stop offset="0.709" stop-color="#eff9eb"/><stop offset="0.773" stop-color="#f0f9ed"/><stop offset="0.864" stop-color="#f2faef"/><stop offset="1.000" stop-color="#f2faf0"/></linearGradient><linearGradient id="hg98"><stop offset="0.000" stop-color="#f3faf0"/><stop offset="0.136" stop-color="#f2faef"/><stop offset="0.227" stop-color="#f0f9ed"/><stop offset="0.291" stop-color="#eff9ec"/><stop offset="0.345" stop-color="#ecf8e8"/><stop offset="0.391" stop-color="#e7f6e2"/><stop offset="0.427" stop-color="#dcf1d6"/><stop offset="0.464" stop-color="#cfecc9"/><stop offset="0.500" stop-color="#caeac3"/><stop offset="0.536" stop-color="#cfecc9"/><stop offset="0.573" stop-color="#dcf1d6"/><stop offset="0.609" stop-color="#e7f6e2"/><stop offset="0.655" stop-color="#ecf8e8"/><stop offset="0.709" stop-color="#eff9ec"/><stop offset="0.773" stop-color="#f0f9ed"/><stop offset="0.864" stop-color="#f2faef"/><stop offset="1.000" stop-color="#f3faf0"/></linearGradient><linearGradient id="hg99"><stop offset="0.000" stop-color="#f3faf0"/><stop offset="0.136" stop-color="#f2faef"/><stop offset="0.227" stop-color="#f1f9ed"/><stop offset="0.291" stop-color="#eff9ec"/><stop offset="0.345" stop-color="#edf8e9"/><stop offset="0.391" stop-color="#e7f6e3"/><stop offset="0.427" stop-color="#def2d8"/><stop offset="0.464" stop-color="#d2edcc"/><stop offset="0.500" stop-color="#cdebc6"/><stop offset="0.536" stop-color="#d2edcc"/><stop offset="0.573" stop-color="#def2d8"/><stop offset="0.609" stop-color="#e7f6e3"/><stop offset="0.655" stop-color="#edf8e9"/><stop offset="0.709" stop-color="#eff9ec"/><stop offset="0.773" stop-color="#f1f9ed"/><stop offset="0.864" stop-color="#f2faef"/><stop offset="1.000" stop-color="#f3faf0"/></linearGradient><linearGradient id="hg100"><stop offset="0.000" stop-color="#f3faf0"/><stop offset="0.136" stop-color="#f2faef"/><stop offset="0.227" stop-color="#f1faee"/><stop offset="0.291" stop-color="#f0f9ec"/><stop offset="0.345" stop-color="#edf8ea"/><stop offset="0.391" stop-color="#e9f6e4"/><stop offset="0.427" stop-color="#e1f3db"/><stop offset="0.464" stop-color="#d6efd0"/><stop offset="0.500" stop-color="#d2edcb"/><stop offset="0.536" stop-color="#d6efd0"/><stop offset="0.573" stop-color="#e1f3db"/><stop offset="0.609" stop-color="#e9f6e4"/><stop offset="0.655" stop-color="#edf8ea"/><stop offset="0.709" stop-color="#f0f9ec"/><stop offset="0.773" stop-color="#f1faee"/><stop offset="0.864" stop-color="#f2faef"/><stop offset="1.000" stop-color="#f3faf0"/></linearGradient><linearGradient id="hg101"><stop offset="0.000" stop-color="#f3faf0"/><stop offset="0.136" stop-color="#f2faef"/><stop offset="0.227" stop-color="#f1faee"/><stop offset="0.291" stop-color="#f0f9ed"/><stop offset="0.345" stop-color="#eef8ea"/><stop offset="0.391" stop-color="#eaf7e6"/><stop offset="0.427" stop-color="#e4f5df"/><stop offset="0.464" stop-color="#dbf1d5"/><stop offset="0.500" stop-color="#d7efd1"/><stop offset="0.536" stop-color="#dbf1d5"/><stop offset="0.573" stop-color="#e4f5df"/><stop offset="0.609" stop-color="#eaf7e6"/><stop offset="0.655" stop-color="#eef8ea"/><stop offset="0.709" stop-color="#f0f9ed"/><stop offset="0.773" stop-color="#f1faee"/><stop offset="0.864" stop-color="#f2faef"/><stop offset="1.000" stop-color="#f3faf0"/></linearGradient><linearGradient id="hg102"><stop offset="0.000" stop-color="#f3faf0"/><stop offset="0.136" stop-color="#f2faef"/><stop offset="0.227" stop-color="#f1faee"/><stop offset="0.291" stop-color="#f0f9ed"/><stop offset="0.345" stop-color="#eff9eb"/><stop offset="0.391" stop-color="#ebf7e7"/><stop offset="0.427" stop-color="#e6f6e2"/><stop offset="0.464" stop-color="#e0f3da"/><stop offset="0.500" stop-color="#dcf1d7"/><stop offset="0.536" stop-color="#e0f3da"/><stop offset="0.573" stop-color="#e6f6e2"/><stop offset="0.609" stop-color="#ebf7e7"/><stop offset="0.655" stop-color="#eff9eb"/><stop offset="0.709" stop-color="#f0f9ed"/><stop offset="0.773" stop-color="#f1faee"/><stop offset="0.864" stop-color="#f2faef"/><stop offset="1.000" stop-color="#f3faf0"/></linearGradient><linearGradient id="hg103"><stop offset="0.000" stop-color="#f3faf0"/><stop offset="0.136" stop-color="#f2faef"/><stop offset="0.227" stop-color="#f1faee"/><stop offset="0.291" stop-color="#f1f9ed"/><stop offset="0.345" stop-color="#eff9ec"/><stop offset="0.391" stop-color="#ecf8e8"/><stop offset="0.427" stop-color="#e8f6e3"/><stop offset="0.464" stop-color="#e2f4dd"/><stop offset="0.500" stop-color="#dff3d9"/><stop offset="0.536" stop-color="#e2f4dd"/><stop offset="0.573" stop-color="#e8f6e3"/><stop offset="0.609" stop-color="#ecf8e8"/><stop offset="0.655" stop-color="#eff9ec"/><stop offset="0.709" stop-color="#f1f9ed"/><stop offset="0.773" stop-color="#f1faee"/><stop offset="0.864" stop-color="#f2faef"/><stop offset="1.000" stop-color="#f3faf0"/></linearGradient><linearGradient id="hg104"><stop offset="0.000" stop-color="#f3faf0"/><stop offset="0.136" stop-color="#f2faef"/><stop offset="0.227" stop-color="#f1faef"/><stop offset="0.291" stop-color="#f1faee"/><stop offset="0.345" stop-color="#eff9ec"/><stop offset="0.391" stop-color="#ecf8e8"/><stop offset="0.427" stop-color="#e8f6e4"/><stop offset="0.464" stop-color="#e3f4de"/><stop offset="0.500" stop-color="#e1f3db"/><stop offset="0.536" stop-color="#e3f4de"/><stop offset="0.573" stop-color="#e8f6e4"/><stop offset="0.609" stop-color="#ecf8e8"/><stop offset="0.655" stop-color="#eff9ec"/><stop offset="0.709" stop-color="#f1faee"/><stop offset="0.773" stop-color="#f1faef"/><stop offset="0.864" stop-color="#f2faef"/><stop offset="1.000" stop-color="#f3faf0"/></linearGradient><linearGradient id="hg105"><stop offset="0.000" stop-color="#f3faf0"/><stop offset="0.136" stop-color="#f2faef"/><stop offset="0.227" stop-color="#f2faef"/><stop offset="0.291" stop-color="#f1faee"/><stop offset="0.345" stop-color="#eff9ec"/><stop offset="0.391" stop-color="#edf8e9"/><stop offset="0.427" stop-color="#e9f7e5"/><stop offset="0.464" stop-color="#e5f5e0"/><stop offset="0.500" stop-color="#e3f4de"/><stop offset="0.536" stop-color="#e5f5e0"/><stop offset="0.573" stop-color="#e9f7e5"/><stop offset="0.609" stop-color="#edf8e9"/><stop offset="0.655" stop-color="#eff9ec"/><stop offset="0.709" stop-color="#f1faee"/><stop offset="0.773" stop-color="#f2faef"/><stop offset="0.864" stop-color="#f2faef"/><stop offset="1.000" stop-color="#f3faf0"/></linearGradient><linearGradient id="hg106"><stop offset="0.000" stop-color="#f3faf0"/><stop offset="0.136" stop-color="#f2faef"/><stop offset="0.227" stop-color="#f2faef"/><stop offset="0.291" stop-color="#f1faee"/><stop offset="0.345" stop-color="#f0f9ed"/><stop offset="0.391" stop-color="#eef8ea"/><stop offset="0.427" stop-color="#ebf7e7"/><stop offset="0.464" stop-color="#e7f6e3"/><stop offset="0.500" stop-color="#e6f5e1"/><stop offset="0.536" stop-color="#e7f6e3"/><stop offset="0.573" stop-color="#ebf7e7"/><stop offset="0.609" stop-color="#eef8ea"/><stop offset="0.655" stop-color="#f0f9ed"/><stop offset="0.709" stop-color="#f1faee"/><stop offset="0.773" stop-color="#f2faef"/><stop offset="0.864" stop-color="#f2faef"/><stop offset="1.000" stop-color="#f3faf0"/></linearGradient><linearGradient id="hg107"><stop offset="0.000" stop-color="#f3faf0"/><stop offset="0.136" stop-color="#f2faf0"/><stop offset="0.227" stop-color="#f2faef"/><stop offset="0.291" stop-color="#f1faee"/><stop offset="0.345" stop-color="#f0f9ed"/><stop offset="0.391" stop-color="#eef8ea"/><stop offset="0.427" stop-color="#ebf7e7"/><stop offset="0.464" stop-color="#e8f6e4"/><stop offset="0.500" stop-color="#e7f6e2"/><stop offset="0.536" stop-color="#e8f6e4"/><stop offset="0.573" stop-color="#ebf7e7"/><stop offset="0.609" stop-color="#eef8ea"/><stop offset="0.655" stop-color="#f0f9ed"/><stop offset="0.709" stop-color="#f1faee"/><stop offset="0.773" stop-color="#f2faef"/><stop offset="0.864" stop-color="#f2faf0"/><stop offset="1.000" stop-color="#f3faf0"/></linearGradient><linearGradient id="hg108"><stop offset="0.000" stop-color="#f3faf0"/><stop offset="0.136" stop-color="#f2faf0"/><stop offset="0.227" stop-color="#f2faef"/><stop offset="0.291" stop-color="#f2faef"/><stop offset="0.345" stop-color="#f1faee"/><stop offset="0.391" stop-color="#eff9ec"/><stop offset="0.427" stop-color="#edf8e9"/><stop offset="0.464" stop-color="#ebf7e7"/><stop offset="0.500" stop-color="#eaf7e6"/><stop offset="0.536" stop-color="#ebf7e7"/><stop offset="0.573" stop-color="#edf8e9"/><stop offset="0.609" stop-color="#eff9ec"/><stop offset="0.655" stop-color="#f1faee"/><stop offset="0.709" stop-color="#f2faef"/><stop offset="0.773" stop-color="#f2faef"/><stop offset="0.864" stop-color="#f2faf0"/><stop offset="1.000" stop-color="#f3faf0"/></linearGradient><linearGradient id="tg295" x1="0" y1="0" x2="0" y2="1"><stop offset="0" stop-color="#bee5b7" stop-opacity="0.75"/><stop offset="0.05" stop-color="#d3eecd" stop-opacity="0.35"/><stop offset="0.2" stop-color="#dff3da" stop-opacity="0"/></linearGradient><clipPath id="clip375"><rect x="375.2" y="21.1" width="57.50" height="104.50"/></clipPath><linearGradient id="hg109"><stop offset="0.000" stop-color="#f2faef"/><stop offset="0.136" stop-color="#eef9eb"/><stop offset="0.227" stop-color="#e9f6e4"/><stop offset="0.291" stop-color="#e0f3db"/><stop offset="0.345" stop-color="#ccebc5"/><stop offset="0.391" stop-color="#97d492"/><stop offset="0.427" stop-color="#3fa95c"/><stop offset="0.464" stop-color="#026f2e"/><stop offset="0.500" stop-color="#004e1f"/><stop offset="0.536" stop-color="#026f2e"/><stop offset="0.573" stop-color="#3fa95c"/><stop offset="0.609" stop-color="#97d492"/><stop offset="0.655" stop-color="#ccebc5"/><stop offset="0.709" stop-color="#e0f3db"/><stop offset="0.773" stop-color="#e9f6e4"/><stop offset="0.864" stop-color="#eef9eb"/><stop offset="1.000" stop-color="#f2faef"/></linearGradient><linearGradient id="hg110"><stop offset="0.000" stop-color="#f2faef"/><stop offset="0.136" stop-color="#eef9eb"/><stop offset="0.227" stop-color="#e8f6e4"/><stop offset="0.291" stop-color="#e0f3da"/><stop offset="0.345" stop-color="#cbebc4"/><stop offset="0.391" stop-color="#95d391"/><stop offset="0.427" stop-color="#3da75a"/><stop offset="0.464" stop-color="#006d2c"/><stop offset="0.500" stop-color="#004b1e"/><stop offset="0.536" stop-color="#006d2c"/><stop offset="0.573" stop-color="#3da75a"/><stop offset="0.609" stop-color="#95d391"/><stop offset="0.655" stop-color="#cbebc4"/><stop offset="0.709" stop-color="#e0f3da"/><stop offset="0.773" stop-color="#e8f6e4"/><stop offset="0.864" stop-color="#eef9eb"/><stop offset="1.000" stop-color="#f2faef"/></linearGradient><linearGradient id="hg111"><stop offset="0.000" stop-color="#f2faef"/><stop offset="0.136" stop-color="#eff9eb"/><stop offset="0.227" stop-color="#e9f7e5"/><stop offset="0.291" stop-color="#e3f4dd"/><stop offset="0.345" stop-color="#d0edca"/><stop offset="0.391" stop-color="#a2da9c"/><stop offset="0.427" stop-color="#54b466"/><stop offset="0.464" stop-color="#18813d"/><stop offset="0.500" stop-color="#006a2b"/><stop offset="0.536" stop-color="#18813d"/><stop offset="0.573" stop-color="#54b466"/><stop offset="0.609" stop-color="#a2da9c"/><stop offset="0.655" stop-color="#d0edca"/><stop offset="0.709" stop-color="#e3f4dd"/><stop offset="0.773" stop-color="#e9f7e5"/><stop offset="0.864" stop-color="#eff9eb"/><stop offset="1.000" stop-color="#f2faef"/></linearGradient><linearGradient id="hg112"><stop offset="0.000" stop-color="#f2faef"/><stop offset="0.136" stop-color="#eff9ec"/><stop offset="0.227" stop-color="#eaf7e6"/><stop offset="0.291" stop-color="#e4f5df"/><stop offset="0.345" stop-color="#d3eecd"/><stop offset="0.391" stop-color="#a9dca3"/><stop offset="0.427" stop-color="#62bb6d"/><stop offset="0.464" stop-color="#258d46"/><stop offset="0.500" stop-color="#0d7835"/><stop offset="0.536" stop-color="#258d46"/><stop offset="0.573" stop-color="#62bb6d"/><stop offset="0.609" stop-color="#a9dca3"/><stop offset="0.655" stop-color="#d3eecd"/><stop offset="0.709" stop-color="#e4f5df"/><stop offset="0.773" stop-color="#eaf7e6"/><stop offset="0.864" stop-color="#eff9ec"/><stop offset="1.000" stop-color="#f2faef"/></linearGradient><linearGradient id="hg113"><stop offset="0.000" stop-color="#f2faef"/><stop offset="0.136" stop-color="#eff9ec"/><stop offset="0.227" stop-color="#ebf7e7"/><stop offset="0.291" stop-color="#e6f5e1"/><stop offset="0.345" stop-color="#d6efd0"/><stop offset="0.391" stop-color="#b1e0aa"/><stop offset="0.427" stop-color="#73c476"/><stop offset="0.464" stop-color="#339c52"/><stop offset="0.500" stop-color="#1f8842"/><stop offset="0.536" stop-color="#339c52"/><stop offset="0.573" stop-color="#73c476"/><stop offset="0.609" stop-color="#b1e0aa"/><stop offset="0.655" stop-color="#d6efd0"/><stop offset="0.709" stop-color="#e6f5e1"/><stop offset="0.773" stop-color="#ebf7e7"/><stop offset="0.864" stop-color="#eff9ec"/><stop offset="1.000" stop-color="#f2faef"/></linearGradient><linearGradient id="hg114"><stop offset="0.000" stop-color="#f2faef"/><stop offset="0.136" stop-color="#eff9ec"/><stop offset="0.227" stop-color="#ebf7e7"/><stop offset="0.291" stop-color="#e6f5e1"/><stop offset="0.345" stop-color="#d7f0d1"/><stop offset="0.391" stop-color="#b3e1ad"/><stop offset="0.427" stop-color="#78c679"/><stop offset="0.464" stop-color="#37a155"/><stop offset="0.500" stop-color="#258d46"/><stop offset="0.536" stop-color="#37a155"/><stop offset="0.573" stop-color="#78c679"/><stop offset="0.609" stop-color="#b3e1ad"/><stop offset="0.655" stop-color="#d7f0d1"/><stop offset="0.709" stop-color="#e6f5e1"/><stop offset="0.773" stop-color="#ebf7e7"/><stop offset="0.864" stop-color="#eff9ec"/><stop offset="1.000" stop-color="#f2faef"/></linearGradient><linearGradient id="hg115"><stop offset="0.000" stop-color="#f2faef"/><stop offset="0.136" stop-color="#f0f9ec"/><stop offset="0.227" stop-color="#ebf7e7"/><stop offset="0.291" stop-color="#e7f6e2"/><stop offset="0.345" stop-color="#d9f0d3"/><stop offset="0.391" stop-color="#b7e2b1"/><stop offset="0.427" stop-color="#80c980"/><stop offset="0.464" stop-color="#3ea85b"/><stop offset="0.500" stop-color="#2c954c"/><stop offset="0.536" stop-color="#3ea85b"/><stop offset="0.573" stop-color="#80c980"/><stop offset="0.609" stop-color="#b7e2b1"/><stop offset="0.655" stop-color="#d9f0d3"/><stop offset="0.709" stop-color="#e7f6e2"/><stop offset="0.773" stop-color="#ebf7e7"/><stop offset="0.864" stop-color="#f0f9ec"/><stop offset="1.000" stop-color="#f2faef"/></linearGradient><linearGradient id="hg116"><stop offset="0.000" stop-color="#f2faef"/><stop offset="0.136" stop-color="#eff9ec"/><stop offset="0.227" stop-color="#ebf7e7"/><stop offset="0.291" stop-color="#e6f6e2"/><stop offset="0.345" stop-color="#d8f0d2"/><stop offset="0.391" stop-color="#b6e2af"/><stop offset="0.427" stop-color="#7dc87d"/><stop offset="0.464" stop-color="#3ca559"/><stop offset="0.500" stop-color="#2a924a"/><stop offset="0.536" stop-color="#3ca559"/><stop offset="0.573" stop-color="#7dc87d"/><stop offset="0.609" stop-color="#b6e2af"/><stop offset="0.655" stop-color="#d8f0d2"/><stop offset="0.709" stop-color="#e6f6e2"/><stop offset="0.773" stop-color="#ebf7e7"/><stop offset="0.864" stop-color="#eff9ec"/><stop offset="1.000" stop-color="#f2faef"/></linearGradient><linearGradient id="hg117"><stop offset="0.000" stop-color="#f2faef"/><stop offset="0.136" stop-color="#f0f9ec"/><stop offset="0.227" stop-color="#ecf8e8"/><stop offset="0.291" stop-color="#e7f6e2"/><stop offset="0.345" stop-color="#daf1d4"/><stop offset="0.391" stop-color="#bae4b3"/><stop offset="0.427" stop-color="#85cc84"/><stop offset="0.464" stop-color="#44ad5f"/><stop offset="0.500" stop-color="#329b51"/><stop offset="0.536" stop-color="#44ad5f"/><stop offset="0.573" stop-color="#85cc84"/><stop offset="0.609" stop-color="#bae4b3"/><stop offset="0.655" stop-color="#daf1d4"/><stop offset="0.709" stop-color="#e7f6e2"/><stop offset="0.773" stop-color="#ecf8e8"/><stop offset="0.864" stop-color="#f0f9ec"/><stop offset="1.000" stop-color="#f2faef"/></linearGradient><linearGradient id="hg118"><stop offset="0.000" stop-color="#f2faef"/><stop offset="0.136" stop-color="#f0f9ed"/><stop offset="0.227" stop-color="#ecf8e8"/><stop offset="0.291" stop-color="#e8f6e3"/><stop offset="0.345" stop-color="#dcf1d6"/><stop offset="0.391" stop-color="#bee5b8"/><stop offset="0.427" stop-color="#8dd08b"/><stop offset="0.464" stop-color="#51b365"/><stop offset="0.500" stop-color="#3aa458"/><stop offset="0.536" stop-color="#51b365"/><stop offset="0.573" stop-color="#8dd08b"/><stop offset="0.609" stop-color="#bee5b8"/><stop offset="0.655" stop-color="#dcf1d6"/><stop offset="0.709" stop-color="#e8f6e3"/><stop offset="0.773" stop-color="#ecf8e8"/><stop offset="0.864" stop-color="#f0f9ed"/><stop offset="1.000" stop-color="#f2faef"/></linearGradient><linearGradient id="hg119"><stop offset="0.000" stop-color="#f2faef"/><stop offset="0.136" stop-color="#f0f9ed"/><stop offset="0.227" stop-color="#ecf8e8"/><stop offset="0.291" stop-color="#e7f6e3"/><stop offset="0.345" stop-color="#dbf1d6"/><stop offset="0.391" stop-color="#bde5b7"/><stop offset="0.427" stop-color="#8bcf89"/><stop offset="0.464" stop-color="#4eb163"/><stop offset="0.500" stop-color="#38a256"/><stop offset="0.536" stop-color="#4eb163"/><stop offset="0.573" stop-color="#8bcf89"/><stop offset="0.609" stop-color="#bde5b7"/><stop offset="0.655" stop-color="#dbf1d6"/><stop offset="0.709" stop-color="#e7f6e3"/><stop offset="0.773" stop-color="#ecf8e8"/><stop offset="0.864" stop-color="#f0f9ed"/><stop offset="1.000" stop-color="#f2faef"/></linearGradient><linearGradient id="hg120"><stop offset="0.000" stop-color="#f2faef"/><stop offset="0.136" stop-color="#f0f9ed"/><stop offset="0.227" stop-color="#ecf8e8"/><stop offset="0.291" stop-color="#e8f6e4"/><stop offset="0.345" stop-color="#ddf2d8"/><stop offset="0.391" stop-color="#c2e7bb"/><stop offset="0.427" stop-color="#94d390"/><stop offset="0.464" stop-color="#5cb86a"/><stop offset="0.500" stop-color="#41ab5d"/><stop offset="0.536" stop-color="#5cb86a"/><stop offset="0.573" stop-color="#94d390"/><stop offset="0.609" stop-color="#c2e7bb"/><stop offset="0.655" stop-color="#ddf2d8"/><stop offset="0.709" stop-color="#e8f6e4"/><stop offset="0.773" stop-color="#ecf8e8"/><stop offset="0.864" stop-color="#f0f9ed"/><stop offset="1.000" stop-color="#f2faef"/></linearGradient><linearGradient id="hg121"><stop offset="0.000" stop-color="#f2faef"/><stop offset="0.136" stop-color="#f0f9ed"/><stop offset="0.227" stop-color="#ecf8e8"/><stop offset="0.291" stop-color="#e8f6e3"/><stop offset="0.345" stop-color="#ddf2d7"/><stop offset="0.391" stop-color="#c1e6ba"/><stop offset="0.427" stop-color="#91d28e"/><stop offset="0.464" stop-color="#58b668"/><stop offset="0.500" stop-color="#3ea85b"/><stop offset="0.536" stop-color="#58b668"/><stop offset="0.573" stop-color="#91d28e"/><stop offset="0.609" stop-color="#c1e6ba"/><stop offset="0.655" stop-color="#ddf2d7"/><stop offset="0.709" stop-color="#e8f6e3"/><stop offset="0.773" stop-color="#ecf8e8"/><stop offset="0.864" stop-color="#f0f9ed"/><stop offset="1.000" stop-color="#f2faef"/></linearGradient><linearGradient id="hg122"><stop offset="0.000" stop-color="#f2faef"/><stop offset="0.136" stop-color="#f0f9ed"/><stop offset="0.227" stop-color="#edf8e9"/><stop offset="0.291" stop-color="#e9f7e5"/><stop offset="0.345" stop-color="#e1f3dc"/><stop offset="0.391" stop-color="#caeac3"/><stop offset="0.427" stop-color="#a4da9e"/><stop offset="0.464" stop-color="#76c578"/><stop offset="0.500" stop-color="#5fba6c"/><stop offset="0.536" stop-color="#76c578"/><stop offset="0.573" stop-color="#a4da9e"/><stop offset="0.609" stop-color="#caeac3"/><stop offset="0.655" stop-color="#e1f3dc"/><stop offset="0.709" stop-color="#e9f7e5"/><stop offset="0.773" stop-color="#edf8e9"/><stop offset="0.864" stop-color="#f0f9ed"/><stop offset="1.000" stop-color="#f2faef"/></linearGradient><linearGradient id="hg123"><stop offset="0.000" stop-color="#f2faf0"/><stop offset="0.136" stop-color="#f1faee"/><stop offset="0.227" stop-color="#eef8ea"/><stop offset="0.291" stop-color="#ebf7e7"/><stop offset="0.345" stop-color="#e5f5e0"/><stop offset="0.391" stop-color="#d2edcc"/><stop offset="0.427" stop-color="#b4e1ae"/><stop offset="0.464" stop-color="#91d18e"/><stop offset="0.500" stop-color="#80c980"/><stop offset="0.536" stop-color="#91d18e"/><stop offset="0.573" stop-color="#b4e1ae"/><stop offset="0.609" stop-color="#d2edcc"/><stop offset="0.655" stop-color="#e5f5e0"/><stop offset="0.709" stop-color="#ebf7e7"/><stop offset="0.773" stop-color="#eef8ea"/><stop offset="0.864" stop-color="#f1faee"/><stop offset="1.000" stop-color="#f2faf0"/></linearGradient><linearGradient id="hg124"><stop offset="0.000" stop-color="#f2faf0"/><stop offset="0.136" stop-color="#f1faee"/><stop offset="0.227" stop-color="#eef9eb"/><stop offset="0.291" stop-color="#ebf7e7"/><stop offset="0.345" stop-color="#e5f5e1"/><stop offset="0.391" stop-color="#d3eecc"/><stop offset="0.427" stop-color="#b6e2af"/><stop offset="0.464" stop-color="#93d390"/><stop offset="0.500" stop-color="#82cb82"/><stop offset="0.536" stop-color="#93d390"/><stop offset="0.573" stop-color="#b6e2af"/><stop offset="0.609" stop-color="#d3eecc"/><stop offset="0.655" stop-color="#e5f5e1"/><stop offset="0.709" stop-color="#ebf7e7"/><stop offset="0.773" stop-color="#eef9eb"/><stop offset="0.864" stop-color="#f1faee"/><stop offset="1.000" stop-color="#f2faf0"/></linearGradient><linearGradient id="hg125"><stop offset="0.000" stop-color="#f2faf0"/><stop offset="0.136" stop-color="#f1faee"/><stop offset="0.227" stop-color="#eff9ec"/><stop offset="0.291" stop-color="#edf8e9"/><stop offset="0.345" stop-color="#e9f6e4"/><stop offset="0.391" stop-color="#ddf2d7"/><stop offset="0.427" stop-color="#caeac3"/><stop offset="0.464" stop-color="#b2e0ac"/><stop offset="0.500" stop-color="#a8dca2"/><stop offset="0.536" stop-color="#b2e0ac"/><stop offset="0.573" stop-color="#caeac3"/><stop offset="0.609" stop-color="#ddf2d7"/><stop offset="0.655" stop-color="#e9f6e4"/><stop offset="0.709" stop-color="#edf8e9"/><stop offset="0.773" stop-color="#eff9ec"/><stop offset="0.864" stop-color="#f1faee"/><stop offset="1.000" stop-color="#f2faf0"/></linearGradient><linearGradient id="hg126"><stop offset="0.000" stop-color="#f2faf0"/><stop offset="0.136" stop-color="#f1faee"/><stop offset="0.227" stop-color="#eff9ec"/><stop offset="0.291" stop-color="#edf8ea"/><stop offset="0.345" stop-color="#e9f7e5"/><stop offset="0.391" stop-color="#dff3da"/><stop offset="0.427" stop-color="#ceecc7"/><stop offset="0.464" stop-color="#b9e3b2"/><stop offset="0.500" stop-color="#afdfa8"/><stop offset="0.536" stop-color="#b9e3b2"/><stop offset="0.573" stop-color="#ceecc7"/><stop offset="0.609" stop-color="#dff3da"/><stop offset="0.655" stop-color="#e9f7e5"/><stop offset="0.709" stop-color="#edf8ea"/><stop offset="0.773" stop-color="#eff9ec"/><stop offset="0.864" stop-color="#f1faee"/><stop offset="1.000" stop-color="#f2faf0"/></linearGradient><linearGradient id="hg127"><stop offset="0.000" stop-color="#f2faf0"/><stop offset="0.136" stop-color="#f1faef"/><stop offset="0.227" stop-color="#f0f9ed"/><stop offset="0.291" stop-color="#eef8ea"/><stop offset="0.345" stop-color="#eaf7e6"/><stop offset="0.391" stop-color="#e2f4dd"/><stop offset="0.427" stop-color="#d3eecc"/><stop offset="0.464" stop-color="#c2e7bb"/><stop offset="0.500" stop-color="#b9e3b2"/><stop offset="0.536" stop-color="#c2e7bb"/><stop offset="0.573" stop-color="#d3eecc"/><stop offset="0.609" stop-color="#e2f4dd"/><stop offset="0.655" stop-color="#eaf7e6"/><stop offset="0.709" stop-color="#eef8ea"/><stop offset="0.773" stop-color="#f0f9ed"/><stop offset="0.864" stop-color="#f1faef"/><stop offset="1.000" stop-color="#f2faf0"/></linearGradient><linearGradient id="hg128"><stop offset="0.000" stop-color="#f2faf0"/><stop offset="0.136" stop-color="#f2faef"/><stop offset="0.227" stop-color="#f0f9ed"/><stop offset="0.291" stop-color="#eef9eb"/><stop offset="0.345" stop-color="#ebf7e7"/><stop offset="0.391" stop-color="#e5f5e0"/><stop offset="0.427" stop-color="#d7efd1"/><stop offset="0.464" stop-color="#c9eac2"/><stop offset="0.500" stop-color="#c1e7ba"/><stop offset="0.536" stop-color="#c9eac2"/><stop offset="0.573" stop-color="#d7efd1"/><stop offset="0.609" stop-color="#e5f5e0"/><stop offset="0.655" stop-color="#ebf7e7"/><stop offset="0.709" stop-color="#eef9eb"/><stop offset="0.773" stop-color="#f0f9ed"/><stop offset="0.864" stop-color="#f2faef"/><stop offset="1.000" stop-color="#f2faf0"/></linearGradient><linearGradient id="hg129"><stop offset="0.000" stop-color="#f2faf0"/><stop offset="0.136" stop-color="#f2faef"/><stop offset="0.227" stop-color="#f0f9ed"/><stop offset="0.291" stop-color="#eff9eb"/><stop offset="0.345" stop-color="#ecf8e8"/><stop offset="0.391" stop-color="#e6f5e1"/><stop offset="0.427" stop-color="#d9f0d3"/><stop offset="0.464" stop-color="#cbebc5"/><stop offset="0.500" stop-color="#c5e8be"/><stop offset="0.536" stop-color="#cbebc5"/><stop offset="0.573" stop-color="#d9f0d3"/><stop offset="0.609" stop-color="#e6f5e1"/><stop offset="0.655" stop-color="#ecf8e8"/><stop offset="0.709" stop-color="#eff9eb"/><stop offset="0.773" stop-color="#f0f9ed"/><stop offset="0.864" stop-color="#f2faef"/><stop offset="1.000" stop-color="#f2faf0"/></linearGradient><linearGradient id="hg130"><stop offset="0.000" stop-color="#f3faf0"/><stop offset="0.136" stop-color="#f2faef"/><stop offset="0.227" stop-color="#f1faee"/><stop offset="0.291" stop-color="#eff9ec"/><stop offset="0.345" stop-color="#edf8e9"/><stop offset="0.391" stop-color="#e8f6e3"/><stop offset="0.427" stop-color="#dff2d9"/><stop offset="0.464" stop-color="#d3eecd"/><stop offset="0.500" stop-color="#ceecc8"/><stop offset="0.536" stop-color="#d3eecd"/><stop offset="0.573" stop-color="#dff2d9"/><stop offset="0.609" stop-color="#e8f6e3"/><stop offset="0.655" stop-color="#edf8e9"/><stop offset="0.709" stop-color="#eff9ec"/><stop offset="0.773" stop-color="#f1faee"/><stop offset="0.864" stop-color="#f2faef"/><stop offset="1.000" stop-color="#f3faf0"/></linearGradient><linearGradient id="hg131"><stop offset="0.000" stop-color="#f3faf0"/><stop offset="0.136" stop-color="#f2faef"/><stop offset="0.227" stop-color="#f1faee"/><stop offset="0.291" stop-color="#f0f9ec"/><stop offset="0.345" stop-color="#edf8ea"/><stop offset="0.391" stop-color="#e9f7e5"/><stop offset="0.427" stop-color="#e2f4dd"/><stop offset="0.464" stop-color="#d8f0d2"/><stop offset="0.500" stop-color="#d3eecd"/><stop offset="0.536" stop-color="#d8f0d2"/><stop offset="0.573" stop-color="#e2f4dd"/><stop offset="0.609" stop-color="#e9f7e5"/><stop offset="0.655" stop-color="#edf8ea"/><stop offset="0.709" stop-color="#f0f9ec"/><stop offset="0.773" stop-color="#f1faee"/><stop offset="0.864" stop-color="#f2faef"/><stop offset="1.000" stop-color="#f3faf0"/></linearGradient><linearGradient id="tg375" x1="0" y1="0" x2="0" y2="1"><stop offset="0" stop-color="#bee5b7" stop-opacity="0.75"/><stop offset="0.05" stop-color="#d3eecd" stop-opacity="0.35"/><stop offset="0.2" stop-color="#dff3da" stop-opacity="0"/></linearGradient><clipPath id="clip438"><rect x="438.8" y="21.1" width="57.00" height="104.50"/></clipPath><linearGradient id="hg132"><stop offset="0.000" stop-color="#fff1e3"/><stop offset="0.136" stop-color="#ffeede"/><stop offset="0.227" stop-color="#feead6"/><stop offset="0.291" stop-color="#fee5cc"/><stop offset="0.345" stop-color="#fdd7b1"/><stop offset="0.391" stop-color="#fdb170"/><stop offset="0.427" stop-color="#f67925"/><stop offset="0.464" stop-color="#cd4401"/><stop offset="0.500" stop-color="#a73703"/><stop offset="0.536" stop-color="#cd4401"/><stop offset="0.573" stop-color="#f67925"/><stop offset="0.609" stop-color="#fdb170"/><stop offset="0.655" stop-color="#fdd7b1"/><stop offset="0.709" stop-color="#fee5cc"/><stop offset="0.773" stop-color="#feead6"/><stop offset="0.864" stop-color="#ffeede"/><stop offset="1.000" stop-color="#fff1e3"/></linearGradient><linearGradient id="hg133"><stop offset="0.000" stop-color="#fff1e3"/><stop offset="0.136" stop-color="#ffefdf"/><stop offset="0.227" stop-color="#feebd7"/><stop offset="0.291" stop-color="#fee6ce"/><stop offset="0.345" stop-color="#fddab6"/><stop offset="0.391" stop-color="#fdb87b"/><stop offset="0.427" stop-color="#fa8533"/><stop offset="0.464" stop-color="#df5005"/><stop offset="0.500" stop-color="#c34002"/><stop offset="0.536" stop-color="#df5005"/><stop offset="0.573" stop-color="#fa8533"/><stop offset="0.609" stop-color="#fdb87b"/><stop offset="0.655" stop-color="#fddab6"/><stop offset="0.709" stop-color="#fee6ce"/><stop offset="0.773" stop-color="#feebd7"/><stop offset="0.864" stop-color="#ffefdf"/><stop offset="1.000" stop-color="#fff1e3"/></linearGradient><linearGradient id="hg134"><stop offset="0.000" stop-color="#fff1e3"/><stop offset="0.136" stop-color="#ffefdf"/><stop offset="0.227" stop-color="#feebd7"/><stop offset="0.291" stop-color="#fee6ce"/><stop offset="0.345" stop-color="#fddab5"/><stop offset="0.391" stop-color="#fdb87a"/><stop offset="0.427" stop-color="#fa8432"/><stop offset="0.464" stop-color="#de4e05"/><stop offset="0.500" stop-color="#c03f02"/><stop offset="0.536" stop-color="#de4e05"/><stop offset="0.573" stop-color="#fa8432"/><stop offset="0.609" stop-color="#fdb87a"/><stop offset="0.655" stop-color="#fddab5"/><stop offset="0.709" stop-color="#fee6ce"/><stop offset="0.773" stop-color="#feebd7"/><stop offset="0.864" stop-color="#ffefdf"/><stop offset="1.000" stop-color="#fff1e3"/></linearGradient><linearGradient id="hg135"><stop offset="0.000" stop-color="#fff1e4"/><stop offset="0.136" stop-color="#ffefe0"/><stop offset="0.227" stop-color="#feecd9"/><stop offset="0.291" stop-color="#fee8d2"/><stop offset="0.345" stop-color="#fedfc0"/><stop offset="0.391" stop-color="#fdc894"/><stop offset="0.427" stop-color="#fd9e54"/><stop offset="0.464" stop-color="#f4721d"/><stop offset="0.500" stop-color="#ea5f0e"/><stop offset="0.536" stop-color="#f4721d"/><stop offset="0.573" stop-color="#fd9e54"/><stop offset="0.609" stop-color="#fdc894"/><stop offset="0.655" stop-color="#fedfc0"/><stop offset="0.709" stop-color="#fee8d2"/><stop offset="0.773" stop-color="#feecd9"/><stop offset="0.864" stop-color="#ffefe0"/><stop offset="1.000" stop-color="#fff1e4"/></linearGradient><linearGradient id="hg136"><stop offset="0.000" stop-color="#fff1e4"/><stop offset="0.136" stop-color="#fff0e1"/><stop offset="0.227" stop-color="#feeddc"/><stop offset="0.291" stop-color="#feead7"/><stop offset="0.345" stop-color="#fee5cc"/><stop offset="0.391" stop-color="#fdd5ac"/><stop offset="0.427" stop-color="#fdb87b"/><stop offset="0.464" stop-color="#fd984b"/><stop offset="0.500" stop-color="#fc8a38"/><stop offset="0.536" stop-color="#fd984b"/><stop offset="0.573" stop-color="#fdb87b"/><stop offset="0.609" stop-color="#fdd5ac"/><stop offset="0.655" stop-color="#fee5cc"/><stop offset="0.709" stop-color="#feead7"/><stop offset="0.773" stop-color="#feeddc"/><stop offset="0.864" stop-color="#fff0e1"/><stop offset="1.000" stop-color="#fff1e4"/></linearGradient><linearGradient id="hg137"><stop offset="0.000" stop-color="#fff1e4"/><stop offset="0.136" stop-color="#fff0e1"/><stop offset="0.227" stop-color="#ffeedd"/><stop offset="0.291" stop-color="#feebd8"/><stop offset="0.345" stop-color="#fee6cf"/><stop offset="0.391" stop-color="#fdd8b2"/><stop offset="0.427" stop-color="#fdbf87"/><stop offset="0.464" stop-color="#fda159"/><stop offset="0.500" stop-color="#fd9547"/><stop offset="0.536" stop-color="#fda159"/><stop offset="0.573" stop-color="#fdbf87"/><stop offset="0.609" stop-color="#fdd8b2"/><stop offset="0.655" stop-color="#fee6cf"/><stop offset="0.709" stop-color="#feebd8"/><stop offset="0.773" stop-color="#ffeedd"/><stop offset="0.864" stop-color="#fff0e1"/><stop offset="1.000" stop-color="#fff1e4"/></linearGradient><linearGradient id="hg138"><stop offset="0.000" stop-color="#fff1e4"/><stop offset="0.136" stop-color="#fff0e2"/><stop offset="0.227" stop-color="#ffeede"/><stop offset="0.291" stop-color="#feecd9"/><stop offset="0.345" stop-color="#fee8d1"/><stop offset="0.391" stop-color="#fedbb9"/><stop offset="0.427" stop-color="#fdc794"/><stop offset="0.464" stop-color="#fdac69"/><stop offset="0.500" stop-color="#fda159"/><stop offset="0.536" stop-color="#fdac69"/><stop offset="0.573" stop-color="#fdc794"/><stop offset="0.609" stop-color="#fedbb9"/><stop offset="0.655" stop-color="#fee8d1"/><stop offset="0.709" stop-color="#feecd9"/><stop offset="0.773" stop-color="#ffeede"/><stop offset="0.864" stop-color="#fff0e2"/><stop offset="1.000" stop-color="#fff1e4"/></linearGradient><linearGradient id="hg139"><stop offset="0.000" stop-color="#fff1e4"/><stop offset="0.136" stop-color="#fff0e2"/><stop offset="0.227" stop-color="#ffeede"/><stop offset="0.291" stop-color="#feecda"/><stop offset="0.345" stop-color="#fee9d3"/><stop offset="0.391" stop-color="#fedebe"/><stop offset="0.427" stop-color="#fdce9f"/><stop offset="0.464" stop-color="#fdb678"/><stop offset="0.500" stop-color="#fdac67"/><stop offset="0.536" stop-color="#fdb678"/><stop offset="0.573" stop-color="#fdce9f"/><stop offset="0.609" stop-color="#fedebe"/><stop offset="0.655" stop-color="#fee9d3"/><stop offset="0.709" stop-color="#feecda"/><stop offset="0.773" stop-color="#ffeede"/><stop offset="0.864" stop-color="#fff0e2"/><stop offset="1.000" stop-color="#fff1e4"/></linearGradient><linearGradient id="hg140"><stop offset="0.000" stop-color="#fff1e4"/><stop offset="0.136" stop-color="#fff0e2"/><stop offset="0.227" stop-color="#ffeede"/><stop offset="0.291" stop-color="#feecda"/><stop offset="0.345" stop-color="#fee8d2"/><stop offset="0.391" stop-color="#fedcbb"/><stop offset="0.427" stop-color="#fdca98"/><stop offset="0.464" stop-color="#fdb06f"/><stop offset="0.500" stop-color="#fda55f"/><stop offset="0.536" stop-color="#fdb06f"/><stop offset="0.573" stop-color="#fdca98"/><stop offset="0.609" stop-color="#fedcbb"/><stop offset="0.655" stop-color="#fee8d2"/><stop offset="0.709" stop-color="#feecda"/><stop offset="0.773" stop-color="#ffeede"/><stop offset="0.864" stop-color="#fff0e2"/><stop offset="1.000" stop-color="#fff1e4"/></linearGradient><linearGradient id="hg141"><stop offset="0.000" stop-color="#fff1e4"/><stop offset="0.136" stop-color="#fff0e2"/><stop offset="0.227" stop-color="#ffeede"/><stop offset="0.291" stop-color="#feecda"/><stop offset="0.345" stop-color="#fee8d2"/><stop offset="0.391" stop-color="#fedebd"/><stop offset="0.427" stop-color="#fdcd9d"/><stop offset="0.464" stop-color="#fdb475"/><stop offset="0.500" stop-color="#fdaa65"/><stop offset="0.536" stop-color="#fdb475"/><stop offset="0.573" stop-color="#fdcd9d"/><stop offset="0.609" stop-color="#fedebd"/><stop offset="0.655" stop-color="#fee8d2"/><stop offset="0.709" stop-color="#feecda"/><stop offset="0.773" stop-color="#ffeede"/><stop offset="0.864" stop-color="#fff0e2"/><stop offset="1.000" stop-color="#fff1e4"/></linearGradient><linearGradient id="hg142"><stop offset="0.000" stop-color="#fff1e4"/><stop offset="0.136" stop-color="#fff0e2"/><stop offset="0.227" stop-color="#ffefdf"/><stop offset="0.291" stop-color="#feeddc"/><stop offset="0.345" stop-color="#feead6"/><stop offset="0.391" stop-color="#fee2c6"/><stop offset="0.427" stop-color="#fdd5ac"/><stop offset="0.464" stop-color="#fdc38d"/><stop offset="0.500" stop-color="#fdba7f"/><stop offset="0.536" stop-color="#fdc38d"/><stop offset="0.573" stop-color="#fdd5ac"/><stop offset="0.609" stop-color="#fee2c6"/><stop offset="0.655" stop-color="#feead6"/><stop offset="0.709" stop-color="#feeddc"/><stop offset="0.773" stop-color="#ffefdf"/><stop offset="0.864" stop-color="#fff0e2"/><stop offset="1.000" stop-color="#fff1e4"/></linearGradient><linearGradient id="hg143"><stop offset="0.000" stop-color="#fff1e4"/><stop offset="0.136" stop-color="#fff1e3"/><stop offset="0.227" stop-color="#ffefe0"/><stop offset="0.291" stop-color="#ffeede"/><stop offset="0.345" stop-color="#feebd9"/><stop offset="0.391" stop-color="#fee6ce"/><stop offset="0.427" stop-color="#fedcba"/><stop offset="0.464" stop-color="#fdd1a4"/><stop offset="0.500" stop-color="#fdcb99"/><stop offset="0.536" stop-color="#fdd1a4"/><stop offset="0.573" stop-color="#fedcba"/><stop offset="0.609" stop-color="#fee6ce"/><stop offset="0.655" stop-color="#feebd9"/><stop offset="0.709" stop-color="#ffeede"/><stop offset="0.773" stop-color="#ffefe0"/><stop offset="0.864" stop-color="#fff1e3"/><stop offset="1.000" stop-color="#fff1e4"/></linearGradient><linearGradient id="hg144"><stop offset="0.000" stop-color="#fff1e4"/><stop offset="0.136" stop-color="#fff1e3"/><stop offset="0.227" stop-color="#ffefe0"/><stop offset="0.291" stop-color="#ffeedd"/><stop offset="0.345" stop-color="#feebd8"/><stop offset="0.391" stop-color="#fee6cd"/><stop offset="0.427" stop-color="#fedbb8"/><stop offset="0.464" stop-color="#fdd0a2"/><stop offset="0.500" stop-color="#fdc997"/><stop offset="0.536" stop-color="#fdd0a2"/><stop offset="0.573" stop-color="#fedbb8"/><stop offset="0.609" stop-color="#fee6cd"/><stop offset="0.655" stop-color="#feebd8"/><stop offset="0.709" stop-color="#ffeedd"/><stop offset="0.773" stop-color="#ffefe0"/><stop offset="0.864" stop-color="#fff1e3"/><stop offset="1.000" stop-color="#fff1e4"/></linearGradient><linearGradient id="hg145"><stop offset="0.000" stop-color="#fff1e4"/><stop offset="0.136" stop-color="#fff1e3"/><stop offset="0.227" stop-color="#fff0e1"/><stop offset="0.291" stop-color="#ffefdf"/><stop offset="0.345" stop-color="#feecda"/><stop offset="0.391" stop-color="#fee8d1"/><stop offset="0.427" stop-color="#fedfc1"/><stop offset="0.464" stop-color="#fdd6af"/><stop offset="0.500" stop-color="#fdd2a7"/><stop offset="0.536" stop-color="#fdd6af"/><stop offset="0.573" stop-color="#fedfc1"/><stop offset="0.609" stop-color="#fee8d1"/><stop offset="0.655" stop-color="#feecda"/><stop offset="0.709" stop-color="#ffefdf"/><stop offset="0.773" stop-color="#fff0e1"/><stop offset="0.864" stop-color="#fff1e3"/><stop offset="1.000" stop-color="#fff1e4"/></linearGradient><linearGradient id="hg146"><stop offset="0.000" stop-color="#fff2e4"/><stop offset="0.136" stop-color="#fff1e3"/><stop offset="0.227" stop-color="#fff0e1"/><stop offset="0.291" stop-color="#ffefdf"/><stop offset="0.345" stop-color="#feeddc"/><stop offset="0.391" stop-color="#fee9d4"/><stop offset="0.427" stop-color="#fee3c8"/><stop offset="0.464" stop-color="#fedbb8"/><stop offset="0.500" stop-color="#fdd8b1"/><stop offset="0.536" stop-color="#fedbb8"/><stop offset="0.573" stop-color="#fee3c8"/><stop offset="0.609" stop-color="#fee9d4"/><stop offset="0.655" stop-color="#feeddc"/><stop offset="0.709" stop-color="#ffefdf"/><stop offset="0.773" stop-color="#fff0e1"/><stop offset="0.864" stop-color="#fff1e3"/><stop offset="1.000" stop-color="#fff2e4"/></linearGradient><linearGradient id="hg147"><stop offset="0.000" stop-color="#fff2e4"/><stop offset="0.136" stop-color="#fff1e3"/><stop offset="0.227" stop-color="#fff0e2"/><stop offset="0.291" stop-color="#ffefe0"/><stop offset="0.345" stop-color="#ffeedd"/><stop offset="0.391" stop-color="#feead6"/><stop offset="0.427" stop-color="#fee5cc"/><stop offset="0.464" stop-color="#fedebe"/><stop offset="0.500" stop-color="#fddbb7"/><stop offset="0.536" stop-color="#fedebe"/><stop offset="0.573" stop-color="#fee5cc"/><stop offset="0.609" stop-color="#feead6"/><stop offset="0.655" stop-color="#ffeedd"/><stop offset="0.709" stop-color="#ffefe0"/><stop offset="0.773" stop-color="#fff0e2"/><stop offset="0.864" stop-color="#fff1e3"/><stop offset="1.000" stop-color="#fff2e4"/></linearGradient><linearGradient id="tg438" x1="0" y1="0" x2="0" y2="1"><stop offset="0" stop-color="#fdc895" stop-opacity="0.75"/><stop offset="0.05" stop-color="#fdd9b4" stop-opacity="0.35"/><stop offset="0.2" stop-color="#fee2c5" stop-opacity="0"/></linearGradient><clipPath id="clipO"><circle cx="273.25" cy="231.05" r="36.15"/></clipPath><filter id="spk" x="-10%" y="-10%" width="120%" height="120%"><feTurbulence type="fractalNoise" baseFrequency="0.65" numOctaves="2" seed="7" result="n"/><feColorMatrix in="n" type="matrix" values="0 0 0 3 -1.0  0 0 0 3 -1.0  0 0 0 3 -1.0  0 0 0 0 1" result="g"/><feComposite in="SourceGraphic" in2="g" operator="arithmetic" k1="1.0" k2="0.3" k3="0" k4="0" result="c"/><feComposite in="c" in2="SourceGraphic" operator="in" result="d"/><feGaussianBlur in="d" stdDeviation="0.35"/></filter><filter id="spk2" x="-10%" y="-10%" width="120%" height="120%"><feTurbulence type="fractalNoise" baseFrequency="0.7" numOctaves="2" seed="11" result="n"/><feColorMatrix in="n" type="matrix" values="0 0 0 3 -1.0  0 0 0 3 -1.0  0 0 0 3 -1.0  0 0 0 0 1" result="g"/><feComposite in="SourceGraphic" in2="g" operator="arithmetic" k1="0.6" k2="0.65" k3="0" k4="0" result="c"/><feComposite in="c" in2="SourceGraphic" operator="in" result="d"/><feGaussianBlur in="d" stdDeviation="0.4"/></filter><filter id="soft" x="-20%" y="-20%" width="140%" height="140%"><feGaussianBlur stdDeviation="0.6"/></filter><radialGradient id="nG"><stop offset="0" stop-color="#009a00"/><stop offset="0.85" stop-color="#009a00"/><stop offset="1" stop-color="#007a00"/></radialGradient><radialGradient id="nR"><stop offset="0" stop-color="#a00000"/><stop offset="0.85" stop-color="#a00000"/><stop offset="1" stop-color="#800000"/></radialGradient><radialGradient id="nB"><stop offset="0" stop-color="#0000a0"/><stop offset="0.8" stop-color="#0000a0"/><stop offset="0.95" stop-color="#0000c8"/><stop offset="1" stop-color="#0000c0"/></radialGradient><radialGradient id="nB2"><stop offset="0" stop-color="#000096"/><stop offset="0.8" stop-color="#000096"/><stop offset="0.95" stop-color="#0000c0"/><stop offset="1" stop-color="#0000b8"/></radialGradient><radialGradient id="nM1"><stop offset="0" stop-color="#6a6a94"/><stop offset="0.8" stop-color="#6a6a94"/><stop offset="0.95" stop-color="#2828c0"/><stop offset="1" stop-color="#2828b0"/></radialGradient><radialGradient id="nM2"><stop offset="0" stop-color="#068c88"/><stop offset="0.8" stop-color="#068c88"/><stop offset="0.95" stop-color="#1030c0"/><stop offset="1" stop-color="#1030b0"/></radialGradient><radialGradient id="nM3"><stop offset="0" stop-color="#8a1290"/><stop offset="0.8" stop-color="#8a1290"/><stop offset="0.95" stop-color="#3020c0"/><stop offset="1" stop-color="#2a20b8"/></radialGradient><radialGradient id="nPB"><stop offset="0" stop-color="#0000a6"/><stop offset="0.85" stop-color="#0000a6"/><stop offset="1" stop-color="#0000c0"/></radialGradient><radialGradient id="nPM"><stop offset="0" stop-color="#2a12a4"/><stop offset="0.85" stop-color="#2a12a4"/><stop offset="1" stop-color="#1c10b4"/></radialGradient><filter id="spG" x="-10%" y="-10%" width="120%" height="120%"><feTurbulence type="fractalNoise" baseFrequency="0.6" numOctaves="2" seed="5" result="n"/><feColorMatrix in="n" type="matrix" values="0 0 0 3 -1.0  0 0 0 3 -1.0  0 0 0 3 -1.0  0 0 0 0 1" result="g"/><feComposite in="SourceGraphic" in2="g" operator="arithmetic" k1="1.0" k2="0.3" k3="0" k4="0" result="c"/><feComposite in="c" in2="SourceGraphic" operator="in" result="d"/><feGaussianBlur in="d" stdDeviation="0.35"/></filter><radialGradient id="chG"><stop offset="0" stop-color="#009800"/><stop offset="0.85" stop-color="#009800"/><stop offset="1" stop-color="#007c00"/></radialGradient><filter id="spR" x="-10%" y="-10%" width="120%" height="120%"><feTurbulence type="fractalNoise" baseFrequency="0.7" numOctaves="2" seed="9" result="n"/><feColorMatrix in="n" type="matrix" values="0 0 0 3.6 -1.5  0 0 0 3.6 -1.5  0 0 0 3.6 -1.5  0 0 0 0 1" result="g"/><feComposite in="SourceGraphic" in2="g" operator="arithmetic" k1="1.1" k2="0.08" k3="0" k4="0" result="c"/><feComposite in="c" in2="SourceGraphic" operator="in" result="d"/><feGaussianBlur in="d" stdDeviation="0.35"/></filter><radialGradient id="chR"><stop offset="0" stop-color="#a00000"/><stop offset="0.85" stop-color="#a00000"/><stop offset="1" stop-color="#800000"/></radialGradient><filter id="spB" x="-10%" y="-10%" width="120%" height="120%"><feTurbulence type="fractalNoise" baseFrequency="0.6" numOctaves="2" seed="17" result="n"/><feColorMatrix in="n" type="matrix" values="0 0 0 2 -0.5  0 0 0 2 -0.5  0 0 0 2 -0.5  0 0 0 0 1" result="g"/><feComposite in="SourceGraphic" in2="g" operator="arithmetic" k1="0.8" k2="0.45" k3="0" k4="0" result="c"/><feComposite in="c" in2="SourceGraphic" operator="in" result="d"/><feGaussianBlur in="d" stdDeviation="0.35"/></filter><radialGradient id="chB"><stop offset="0" stop-color="#00008a"/><stop offset="0.7" stop-color="#00008a"/><stop offset="0.93" stop-color="#0000cc"/><stop offset="1" stop-color="#0000cc"/></radialGradient><radialGradient id="pla"><stop offset="0" stop-color="#a00000" stop-opacity="0.3"/><stop offset="0.75" stop-color="#c00000" stop-opacity="0.5"/><stop offset="1" stop-color="#c00000" stop-opacity="0"/></radialGradient></defs>
<rect x="0" y="0" width="685" height="422" fill="#fff"/>
<text x="12.30" y="6.60" font-size="11.5" fill="#000" font-weight="bold" >a</text>
<text x="217.20" y="6.60" font-size="11.5" fill="#000" font-weight="bold" >c</text>
<text x="360.60" y="6.60" font-size="11.5" fill="#000" font-weight="bold" >e</text>
<text x="505.60" y="6.80" font-size="11.5" fill="#000" font-weight="bold" >g</text>
<text x="-0.30" y="315.80" font-size="11.5" fill="#000" font-weight="bold" >b</text>
<text x="217.80" y="166.00" font-size="11.5" fill="#000" font-weight="bold" >d</text>
<text x="361.60" y="165.80" font-size="11.5" fill="#000" font-weight="bold" >f</text>
<text x="507.40" y="198.90" font-size="11.5" fill="#000" font-weight="bold" >h</text>
<text x="12.00" y="168.30" font-size="11.5" fill="#000" font-weight="bold" >a&#8217;</text>
<text x="77.60" y="17.80" font-size="9" fill="#b48c64" stroke="#b48c64" stroke-width="0.22" textLength="15.6" lengthAdjust="spacingAndGlyphs" >Diff.</text>
<text x="77.60" y="27.90" font-size="9" fill="#b48c64" stroke="#b48c64" stroke-width="0.22" textLength="14.4" lengthAdjust="spacingAndGlyphs" >day</text>
<text x="100.80" y="19.30" font-size="8.8" fill="#111" stroke="#111" stroke-width="0.22" font-style="italic" textLength="41.6" lengthAdjust="spacingAndGlyphs" >Myomaker</text>
<line x1="94.00" y1="25.00" x2="152.00" y2="25.00" stroke="#9a9aff" stroke-width="0.8" />
<rect x="94.00" y="24.20" width="2.70" height="1.60" fill="#2266ff" rx="0.7"/>
<rect x="99.00" y="23.50" width="1.00" height="3.00" fill="#2a50f0" rx="0.4"/>
<rect x="103.10" y="23.50" width="1.10" height="3.00" fill="#2a50f0" rx="0.4"/>
<rect x="120.60" y="23.50" width="1.30" height="3.00" fill="#2a50f0" rx="0.4"/>
<rect x="127.30" y="23.50" width="1.20" height="3.00" fill="#2a50f0" rx="0.4"/>
<rect x="150.70" y="23.50" width="1.10" height="3.00" fill="#2a50f0" rx="0.4"/>
<path d="M108.80,24.3 L109.70,25 L108.80,25.7" stroke="#6a6aff" stroke-width="0.5" fill="none"/>
<path d="M116.30,24.3 L117.20,25 L116.30,25.7" stroke="#6a6aff" stroke-width="0.5" fill="none"/>
<path d="M123.80,24.3 L124.70,25 L123.80,25.7" stroke="#6a6aff" stroke-width="0.5" fill="none"/>
<path d="M131.90,24.3 L132.80,25 L131.90,25.7" stroke="#6a6aff" stroke-width="0.5" fill="none"/>
<path d="M140.10,24.3 L141.00,25 L140.10,25.7" stroke="#6a6aff" stroke-width="0.5" fill="none"/>
<line x1="91.60" y1="29.00" x2="91.60" y2="165.00" stroke="#8a8a8a" stroke-width="0.9" />
<line x1="91.60" y1="165.00" x2="91.60" y2="301.80" stroke="#c4c4c4" stroke-width="0.9" />
<line x1="91.60" y1="40.30" x2="191.20" y2="40.30" stroke="#ff6060" stroke-width="0.9" />
<text x="188.70" y="35.30" font-size="4.9" fill="#222" text-anchor="end" >0&#8211;100</text>
<text x="86.20" y="38.00" font-size="8.6" fill="#b48c64" stroke="#b48c64" stroke-width="0.22" text-anchor="middle" >0</text>
<line x1="91.60" y1="52.30" x2="191.20" y2="52.30" stroke="#ff6060" stroke-width="0.9" />
<text x="188.70" y="47.30" font-size="4.9" fill="#222" text-anchor="end" >0&#8211;1,800</text>
<text x="86.20" y="50.00" font-size="8.6" fill="#b48c64" stroke="#b48c64" stroke-width="0.22" text-anchor="middle" >2</text>
<line x1="91.60" y1="64.40" x2="191.20" y2="64.40" stroke="#ff6060" stroke-width="0.9" />
<text x="188.70" y="59.40" font-size="4.9" fill="#222" text-anchor="end" >0&#8211;3,000</text>
<text x="86.20" y="62.10" font-size="8.6" fill="#b48c64" stroke="#b48c64" stroke-width="0.22" text-anchor="middle" >6</text>
<line x1="91.60" y1="76.40" x2="191.20" y2="76.40" stroke="#333333" stroke-width="0.9" />
<text x="188.70" y="71.40" font-size="4.9" fill="#222" text-anchor="end" >0&#8211;300</text>
<text x="86.20" y="74.10" font-size="8.6" fill="#b48c64" stroke="#b48c64" stroke-width="0.22" text-anchor="middle" >6</text>
<line x1="91.60" y1="88.00" x2="191.20" y2="88.00" stroke="#a8a8a8" stroke-width="0.9" />
<text x="188.70" y="83.00" font-size="4.9" fill="#222" text-anchor="end" >0&#8211;2,000</text>
<text x="86.20" y="85.70" font-size="8.6" fill="#b48c64" stroke="#b48c64" stroke-width="0.22" text-anchor="middle" >6</text>
<line x1="91.60" y1="99.50" x2="191.20" y2="99.50" stroke="#a4dca4" stroke-width="0.9" />
<text x="188.70" y="94.50" font-size="4.9" fill="#222" text-anchor="end" >0&#8211;100</text>
<text x="86.20" y="97.20" font-size="8.6" fill="#b48c64" stroke="#b48c64" stroke-width="0.22" text-anchor="middle" >0</text>
<line x1="91.60" y1="111.20" x2="191.20" y2="111.20" stroke="#a4dca4" stroke-width="0.9" />
<text x="188.70" y="106.20" font-size="4.9" fill="#222" text-anchor="end" >0&#8211;300</text>
<text x="86.20" y="108.90" font-size="8.6" fill="#b48c64" stroke="#b48c64" stroke-width="0.22" text-anchor="middle" >2</text>
<line x1="91.60" y1="123.20" x2="191.20" y2="123.20" stroke="#a4dca4" stroke-width="0.9" />
<text x="188.70" y="118.20" font-size="4.9" fill="#222" text-anchor="end" >0&#8211;1,200</text>
<text x="86.20" y="120.90" font-size="8.6" fill="#b48c64" stroke="#b48c64" stroke-width="0.22" text-anchor="middle" >6</text>
<line x1="91.60" y1="135.20" x2="191.20" y2="135.20" stroke="#7878ff" stroke-width="0.9" />
<text x="188.70" y="130.20" font-size="4.9" fill="#222" text-anchor="end" >0&#8211;100</text>
<text x="86.20" y="132.90" font-size="8.6" fill="#b48c64" stroke="#b48c64" stroke-width="0.22" text-anchor="middle" >0</text>
<line x1="91.60" y1="147.20" x2="191.20" y2="147.20" stroke="#7878ff" stroke-width="0.9" />
<text x="188.70" y="142.20" font-size="4.9" fill="#222" text-anchor="end" >0&#8211;300</text>
<text x="86.20" y="144.90" font-size="8.6" fill="#b48c64" stroke="#b48c64" stroke-width="0.22" text-anchor="middle" >2</text>
<line x1="91.60" y1="159.20" x2="191.20" y2="159.20" stroke="#7878ff" stroke-width="0.9" />
<text x="188.70" y="154.20" font-size="4.9" fill="#222" text-anchor="end" >0&#8211;1,200</text>
<text x="86.20" y="156.90" font-size="8.6" fill="#b48c64" stroke="#b48c64" stroke-width="0.22" text-anchor="middle" >6</text>
<line x1="91.60" y1="170.50" x2="191.20" y2="170.50" stroke="#b038b0" stroke-width="0.9" />
<text x="188.70" y="165.50" font-size="4.9" fill="#222" text-anchor="end" >0&#8211;60</text>
<text x="86.20" y="168.20" font-size="8.6" fill="#b48c64" stroke="#b48c64" stroke-width="0.22" text-anchor="middle" >0</text>
<line x1="91.60" y1="182.20" x2="191.20" y2="182.20" stroke="#b038b0" stroke-width="0.9" />
<text x="188.70" y="177.20" font-size="4.9" fill="#222" text-anchor="end" >0&#8211;60</text>
<text x="86.20" y="179.90" font-size="8.6" fill="#b48c64" stroke="#b48c64" stroke-width="0.22" text-anchor="middle" >2</text>
<line x1="91.60" y1="194.00" x2="191.20" y2="194.00" stroke="#b038b0" stroke-width="0.9" />
<text x="188.70" y="189.00" font-size="4.9" fill="#222" text-anchor="end" >0&#8211;60</text>
<text x="86.20" y="191.70" font-size="8.6" fill="#b48c64" stroke="#b48c64" stroke-width="0.22" text-anchor="middle" >6</text>
<line x1="91.60" y1="206.30" x2="191.20" y2="206.30" stroke="#38c4c4" stroke-width="0.9" />
<text x="188.70" y="201.30" font-size="4.9" fill="#222" text-anchor="end" >0&#8211;150</text>
<text x="86.20" y="204.00" font-size="8.6" fill="#b48c64" stroke="#b48c64" stroke-width="0.22" text-anchor="middle" >2</text>
<line x1="91.60" y1="218.30" x2="191.20" y2="218.30" stroke="#38c4c4" stroke-width="0.9" />
<text x="188.70" y="213.30" font-size="4.9" fill="#222" text-anchor="end" >0&#8211;150</text>
<text x="86.20" y="216.00" font-size="8.6" fill="#b48c64" stroke="#b48c64" stroke-width="0.22" text-anchor="middle" >2</text>
<line x1="91.60" y1="230.10" x2="191.20" y2="230.10" stroke="#38c4c4" stroke-width="0.9" />
<text x="188.70" y="225.10" font-size="4.9" fill="#222" text-anchor="end" >0&#8211;150</text>
<text x="86.20" y="227.80" font-size="8.6" fill="#b48c64" stroke="#b48c64" stroke-width="0.22" text-anchor="middle" >2</text>
<line x1="91.60" y1="242.30" x2="191.20" y2="242.30" stroke="#44e044" stroke-width="0.9" />
<text x="188.70" y="237.30" font-size="4.9" fill="#222" text-anchor="end" >0&#8211;123</text>
<text x="86.20" y="240.00" font-size="8.6" fill="#b48c64" stroke="#b48c64" stroke-width="0.22" text-anchor="middle" >2</text>
<line x1="91.60" y1="254.30" x2="191.20" y2="254.30" stroke="#44e044" stroke-width="0.9" />
<text x="188.70" y="249.30" font-size="4.9" fill="#222" text-anchor="end" >0&#8211;123</text>
<text x="86.20" y="252.00" font-size="8.6" fill="#b48c64" stroke="#b48c64" stroke-width="0.22" text-anchor="middle" >2</text>
<line x1="91.60" y1="266.40" x2="191.20" y2="266.40" stroke="#44e044" stroke-width="0.9" />
<text x="188.70" y="261.40" font-size="4.9" fill="#222" text-anchor="end" >0&#8211;123</text>
<text x="86.20" y="264.10" font-size="8.6" fill="#b48c64" stroke="#b48c64" stroke-width="0.22" text-anchor="middle" >2</text>
<line x1="91.60" y1="277.40" x2="191.20" y2="277.40" stroke="#f88e6a" stroke-width="0.9" />
<text x="188.70" y="272.40" font-size="4.9" fill="#222" text-anchor="end" >0&#8211;741</text>
<text x="86.20" y="275.10" font-size="8.6" fill="#b48c64" stroke="#b48c64" stroke-width="0.22" text-anchor="middle" >2</text>
<line x1="91.60" y1="289.60" x2="191.20" y2="289.60" stroke="#f88e6a" stroke-width="0.9" />
<text x="188.70" y="284.60" font-size="4.9" fill="#222" text-anchor="end" >0&#8211;741</text>
<text x="86.20" y="287.30" font-size="8.6" fill="#b48c64" stroke="#b48c64" stroke-width="0.22" text-anchor="middle" >2</text>
<line x1="91.60" y1="301.30" x2="191.20" y2="301.30" stroke="#f88e6a" stroke-width="0.9" />
<text x="188.70" y="296.30" font-size="4.9" fill="#222" text-anchor="end" >0&#8211;741</text>
<text x="86.20" y="299.00" font-size="8.6" fill="#b48c64" stroke="#b48c64" stroke-width="0.22" text-anchor="middle" >2</text>
<path d="M95.60,52.30 L96.56,49.64 L97.52,46.40 L98.00,46.40 L98.00,52.30ZM99.00,52.30 L99.36,46.14 L99.84,43.76 L100.20,43.50 L100.80,43.68 L101.16,45.70 L101.40,52.30ZM104.80,52.30 L104.98,43.10 L105.64,43.10 L106.00,47.24 L106.00,52.30ZM121.90,52.30 L122.06,43.30 L122.54,43.30 L122.70,47.80 L123.50,48.70 L123.50,52.30ZM128.80,52.30 L129.00,46.20 L129.71,46.20 L130.10,48.95 L130.10,52.30ZM152.50,52.30 L152.75,46.70 L153.09,44.54 L153.35,44.30 L153.77,44.46 L154.03,46.30 L154.20,52.30Z" fill="#ff0a0a"/>
<path d="M95.60,64.40 L96.56,61.97 L97.52,59.00 L98.00,59.00 L98.00,64.40ZM99.00,64.40 L99.36,58.80 L99.84,56.64 L100.20,56.40 L100.80,56.56 L101.16,58.40 L101.40,64.40ZM104.80,64.40 L104.98,55.20 L105.64,55.20 L106.00,59.34 L106.00,64.40ZM121.90,64.40 L122.06,55.90 L122.54,55.90 L122.70,60.15 L123.50,61.00 L123.50,64.40ZM128.80,64.40 L129.00,57.90 L129.71,57.90 L130.10,60.83 L130.10,64.40ZM152.50,64.40 L152.75,59.15 L153.09,57.13 L153.35,56.90 L153.77,57.05 L154.03,58.78 L154.20,64.40Z" fill="#ff0a0a"/>
<path d="M95.70,88.20 L96.62,85.50 L97.54,82.20 L98.00,82.20 L98.00,88.20ZM99.30,88.20 L99.47,83.72 L99.69,81.99 L99.85,81.80 L100.12,81.93 L100.29,83.40 L100.40,88.20ZM100.20,88.20 L100.37,78.90 L100.97,78.90 L101.30,83.09 L101.30,88.20ZM105.00,88.20 L105.14,80.50 L105.63,80.50 L105.90,83.97 L105.90,88.20ZM122.00,88.20 L122.27,83.23 L122.63,81.31 L122.90,81.10 L123.35,81.24 L123.62,82.88 L123.80,88.20ZM129.00,88.20 L129.13,81.10 L129.63,81.10 L129.90,84.30 L129.90,88.20ZM152.80,88.20 L153.01,82.25 L153.29,79.95 L153.50,79.70 L153.85,79.87 L154.06,81.83 L154.20,88.20Z" fill="#111"/>
<path d="M96.00,111.20 L96.24,110.20 L97.12,110.20 L97.60,110.65 L97.60,111.20ZM99.20,111.20 L99.50,110.00 L100.60,110.00 L101.20,110.54 L101.20,111.20ZM104.80,111.20 L104.98,110.20 L105.64,110.20 L106.00,110.65 L106.00,111.20ZM122.00,111.20 L122.21,110.30 L122.98,110.30 L123.40,110.70 L123.40,111.20ZM129.00,111.20 L129.15,110.30 L129.70,110.30 L130.00,110.70 L130.00,111.20ZM152.80,111.20 L152.98,110.20 L153.64,110.20 L154.00,110.65 L154.00,111.20Z" fill="#22bb44"/>
<path d="M96.00,123.20 L96.27,121.60 L97.26,121.60 L97.80,122.32 L97.80,123.20ZM99.20,123.20 L99.50,121.00 L100.60,121.00 L101.20,121.99 L101.20,123.20ZM104.80,123.20 L104.98,121.60 L105.64,121.60 L106.00,122.32 L106.00,123.20ZM122.00,123.20 L122.21,121.40 L122.98,121.40 L123.40,122.21 L123.40,123.20ZM129.00,123.20 L129.15,121.60 L129.70,121.60 L130.00,122.32 L130.00,123.20ZM152.80,123.20 L152.98,121.00 L153.64,121.00 L154.00,121.99 L154.00,123.20Z" fill="#22bb44"/>
<path d="M99.50,99.50 L99.65,98.90 L100.20,98.90 L100.50,99.17 L100.50,99.50ZM153.00,99.50 L153.15,98.90 L153.70,98.90 L154.00,99.17 L154.00,99.50Z" fill="#22bb44"/>
<path d="M95.70,147.20 L96.62,144.77 L97.54,141.80 L98.00,141.80 L98.00,147.20ZM99.00,147.20 L99.39,141.46 L99.91,139.25 L100.30,139.00 L100.95,139.16 L101.34,141.05 L101.60,147.20ZM104.80,147.20 L104.98,141.95 L105.22,139.92 L105.40,139.70 L105.70,139.85 L105.88,141.57 L106.00,147.20ZM122.00,147.20 L122.27,141.60 L122.63,139.44 L122.90,139.20 L123.35,139.36 L123.62,141.20 L123.80,147.20ZM129.00,147.20 L129.15,142.02 L129.35,140.02 L129.50,139.80 L129.75,139.95 L129.90,141.65 L130.00,147.20ZM153.20,147.20 L153.41,140.90 L153.69,138.47 L153.90,138.20 L154.25,138.38 L154.46,140.45 L154.60,147.20Z" fill="#1f5fff"/>
<path d="M95.70,159.20 L96.62,156.95 L97.54,154.20 L98.00,154.20 L98.00,159.20ZM99.00,159.20 L99.39,154.44 L99.91,152.60 L100.30,152.40 L100.95,152.54 L101.34,154.10 L101.60,159.20ZM104.80,159.20 L104.98,154.65 L105.22,152.89 L105.40,152.70 L105.70,152.83 L105.88,154.32 L106.00,159.20ZM122.00,159.20 L122.27,154.58 L122.63,152.80 L122.90,152.60 L123.35,152.73 L123.62,154.25 L123.80,159.20ZM129.00,159.20 L129.15,155.00 L129.35,153.38 L129.50,153.20 L129.75,153.32 L129.90,154.70 L130.00,159.20ZM153.20,159.20 L153.41,154.30 L153.69,152.41 L153.90,152.20 L154.25,152.34 L154.46,153.95 L154.60,159.20Z" fill="#1f5fff"/>
<path d="M92.0,170.50 L92.0,170.37 L92.5,170.06 L93.0,170.25 L93.5,169.98 L94.0,169.96 L94.5,170.48 L95.0,170.50 L95.5,169.66 L96.0,170.35 L96.5,170.38 L97.0,169.41 L97.5,170.15 L98.0,169.66 L98.5,170.14 L99.0,169.94 L99.5,170.44 L100.0,169.94 L100.5,169.61 L101.0,170.08 L101.5,169.80 L102.0,169.89 L102.5,170.48 L103.0,169.77 L103.5,170.00 L104.0,170.32 L104.5,170.49 L105.0,169.61 L105.5,170.14 L106.0,169.83 L106.5,169.59 L107.0,169.84 L107.5,169.53 L108.0,170.23 L108.5,169.71 L109.0,170.17 L109.5,169.50 L110.0,169.59 L110.5,170.47 L111.0,170.44 L111.5,170.39 L112.0,169.46 L112.5,170.18 L113.0,169.95 L113.5,170.32 L114.0,170.10 L114.5,170.24 L115.0,170.27 L115.5,170.01 L116.0,170.01 L116.5,169.55 L117.0,169.88 L117.5,169.52 L118.0,169.63 L118.5,169.41 L119.0,169.90 L119.5,170.43 L120.0,169.62 L120.5,169.46 L121.0,169.55 L121.5,170.03 L122.0,169.84 L122.5,170.39 L123.0,169.67 L123.5,170.02 L124.0,170.33 L124.5,170.48 L125.0,169.63 L125.5,169.42 L126.0,170.47 L126.5,169.71 L127.0,170.21 L127.5,170.44 L128.0,170.32 L128.5,169.76 L129.0,169.60 L129.5,170.49 L130.0,169.97 L130.5,170.49 L131.0,169.83 L131.5,170.29 L132.0,169.59 L132.5,169.43 L133.0,170.10 L133.5,169.40 L134.0,170.31 L134.5,170.48 L135.0,169.99 L135.5,170.49 L136.0,170.40 L136.5,170.21 L137.0,169.98 L137.5,170.43 L138.0,170.49 L138.5,169.61 L139.0,169.76 L139.5,169.02 L140.0,168.02 L140.5,167.08 L141.0,166.35 L141.5,166.61 L142.0,166.13 L142.5,167.07 L143.0,166.58 L143.5,167.75 L144.0,167.27 L144.5,168.06 L145.0,169.45 L145.5,169.95 L146.0,169.88 L146.5,170.27 L147.0,169.85 L147.5,169.80 L148.0,170.50 L148.5,170.48 L149.0,169.89 L149.5,169.46 L150.0,170.36 L150.5,170.16 L151.0,170.00 L151.5,170.30 L152.0,170.26 L152.5,170.31 L153.0,170.25 L153.5,169.99 L154.0,170.32 L154.5,170.25 L155.0,169.75 L155.5,170.50 L156.0,170.03 L156.5,169.81 L157.0,170.31 L157.5,170.38 L158.0,169.71 L158.5,170.37 L159.0,170.41 L159.5,170.18 L160.0,169.86 L160.5,170.46 L161.0,170.30 L161.5,170.29 L162.0,169.66 L162.5,170.18 L163.0,169.63 L163.5,169.00 L164.0,168.99 L164.5,169.29 L165.0,169.78 L165.5,169.70 L166.0,169.66 L166.5,170.41 L167.0,170.34 L167.5,169.70 L168.0,169.93 L168.5,169.70 L169.0,170.28 L169.5,170.45 L170.0,170.33 L170.5,169.72 L171.0,170.34 L171.5,170.28 L172.0,170.20 L172.5,169.83 L173.0,168.14 L173.5,164.65 L174.0,164.54 L174.5,164.63 L175.0,167.39 L175.5,168.48 L176.0,169.91 L176.5,169.44 L177.0,169.05 L177.5,168.80 L178.0,169.07 L178.5,169.20 L179.0,169.52 L179.5,169.56 L180.0,170.02 L180.5,170.50 L181.0,169.79 L181.5,170.42 L182.0,170.32 L182.5,169.91 L183.0,170.08 L183.5,170.21 L184.0,169.50 L184.5,169.97 L185.0,170.28 L185.5,170.36 L186.0,169.62 L186.5,170.14 L187.0,169.74 L187.5,170.27 L188.0,170.40 L188.5,170.07 L189.0,169.69 L189.5,170.42 L190.0,169.73 L190.5,169.53 L191.0,170.50Z" fill="#a0209c"/>
<path d="M92.0,182.20 L92.0,181.40 L92.5,181.38 L93.0,182.20 L93.5,181.65 L94.0,181.32 L94.5,182.19 L95.0,182.04 L95.5,182.05 L96.0,181.78 L96.5,181.90 L97.0,181.84 L97.5,181.45 L98.0,182.20 L98.5,182.19 L99.0,182.15 L99.5,182.15 L100.0,182.18 L100.5,181.14 L101.0,181.33 L101.5,182.17 L102.0,181.81 L102.5,182.00 L103.0,182.01 L103.5,181.97 L104.0,181.63 L104.5,181.71 L105.0,181.96 L105.5,182.11 L106.0,181.99 L106.5,182.15 L107.0,181.74 L107.5,181.53 L108.0,181.94 L108.5,182.18 L109.0,182.12 L109.5,181.95 L110.0,181.68 L110.5,181.44 L111.0,181.94 L111.5,181.41 L112.0,181.66 L112.5,181.89 L113.0,181.95 L113.5,181.82 L114.0,181.55 L114.5,181.90 L115.0,181.56 L115.5,181.86 L116.0,182.07 L116.5,181.77 L117.0,181.56 L117.5,182.18 L118.0,181.90 L118.5,181.89 L119.0,181.29 L119.5,181.20 L120.0,181.95 L120.5,181.26 L121.0,181.43 L121.5,182.05 L122.0,181.85 L122.5,182.15 L123.0,181.39 L123.5,181.61 L124.0,181.28 L124.5,181.42 L125.0,181.60 L125.5,181.51 L126.0,181.73 L126.5,182.16 L127.0,181.70 L127.5,182.20 L128.0,182.14 L128.5,181.45 L129.0,182.19 L129.5,182.17 L130.0,182.17 L130.5,181.29 L131.0,182.12 L131.5,182.20 L132.0,181.35 L132.5,182.15 L133.0,181.35 L133.5,181.59 L134.0,181.36 L134.5,181.18 L135.0,181.72 L135.5,181.41 L136.0,182.19 L136.5,181.46 L137.0,181.80 L137.5,181.53 L138.0,182.16 L138.5,181.49 L139.0,181.21 L139.5,180.87 L140.0,180.53 L140.5,179.98 L141.0,178.53 L141.5,179.20 L142.0,179.23 L142.5,179.73 L143.0,178.05 L143.5,178.48 L144.0,178.91 L144.5,179.61 L145.0,180.51 L145.5,181.00 L146.0,182.14 L146.5,181.49 L147.0,181.23 L147.5,181.79 L148.0,181.88 L148.5,181.53 L149.0,182.11 L149.5,182.05 L150.0,182.10 L150.5,181.71 L151.0,182.01 L151.5,182.08 L152.0,181.57 L152.5,181.18 L153.0,181.30 L153.5,180.59 L154.0,180.77 L154.5,180.52 L155.0,180.82 L155.5,181.02 L156.0,181.45 L156.5,181.11 L157.0,181.83 L157.5,181.69 L158.0,181.85 L158.5,181.36 L159.0,181.38 L159.5,181.74 L160.0,181.83 L160.5,181.53 L161.0,181.33 L161.5,181.92 L162.0,181.51 L162.5,181.16 L163.0,181.85 L163.5,182.08 L164.0,182.07 L164.5,181.53 L165.0,181.59 L165.5,181.17 L166.0,181.33 L166.5,182.07 L167.0,182.11 L167.5,182.06 L168.0,182.11 L168.5,181.55 L169.0,181.32 L169.5,181.26 L170.0,182.06 L170.5,181.31 L171.0,182.01 L171.5,181.90 L172.0,181.52 L172.5,182.07 L173.0,181.36 L173.5,180.98 L174.0,181.08 L174.5,180.32 L175.0,180.52 L175.5,179.65 L176.0,180.13 L176.5,180.45 L177.0,180.64 L177.5,179.97 L178.0,180.43 L178.5,181.05 L179.0,181.48 L179.5,181.59 L180.0,181.62 L180.5,181.40 L181.0,182.05 L181.5,181.48 L182.0,181.16 L182.5,181.59 L183.0,181.77 L183.5,182.16 L184.0,181.82 L184.5,181.97 L185.0,181.53 L185.5,181.59 L186.0,181.73 L186.5,182.11 L187.0,181.63 L187.5,181.65 L188.0,182.12 L188.5,181.28 L189.0,181.62 L189.5,182.15 L190.0,181.21 L190.5,182.14 L191.0,182.20Z" fill="#a0209c"/>
<path d="M92.0,194.00 L92.0,193.81 L92.5,193.39 L93.0,193.54 L93.5,193.59 L94.0,193.48 L94.5,193.69 L95.0,193.83 L95.5,193.93 L96.0,193.98 L96.5,193.39 L97.0,193.34 L97.5,193.60 L98.0,193.36 L98.5,193.78 L99.0,193.86 L99.5,193.76 L100.0,193.18 L100.5,193.99 L101.0,193.64 L101.5,193.88 L102.0,193.33 L102.5,193.79 L103.0,193.81 L103.5,193.74 L104.0,193.60 L104.5,193.32 L105.0,193.79 L105.5,193.22 L106.0,193.96 L106.5,193.86 L107.0,193.97 L107.5,193.96 L108.0,193.31 L108.5,193.38 L109.0,193.92 L109.5,193.92 L110.0,193.73 L110.5,193.36 L111.0,193.26 L111.5,193.35 L112.0,193.54 L112.5,193.94 L113.0,193.75 L113.5,193.91 L114.0,193.62 L114.5,193.57 L115.0,193.91 L115.5,193.87 L116.0,193.31 L116.5,193.99 L117.0,193.28 L117.5,193.16 L118.0,193.08 L118.5,193.76 L119.0,193.59 L119.5,193.55 L120.0,193.50 L120.5,193.03 L121.0,193.43 L121.5,193.84 L122.0,193.20 L122.5,193.66 L123.0,193.53 L123.5,193.38 L124.0,194.00 L124.5,193.32 L125.0,193.46 L125.5,193.66 L126.0,193.62 L126.5,193.69 L127.0,193.91 L127.5,193.61 L128.0,193.99 L128.5,193.65 L129.0,193.48 L129.5,193.70 L130.0,193.57 L130.5,193.06 L131.0,193.16 L131.5,193.95 L132.0,193.29 L132.5,193.51 L133.0,193.99 L133.5,193.78 L134.0,193.89 L134.5,193.98 L135.0,193.60 L135.5,193.10 L136.0,193.82 L136.5,193.19 L137.0,193.42 L137.5,193.95 L138.0,193.53 L138.5,193.35 L139.0,193.08 L139.5,192.80 L140.0,192.64 L140.5,193.04 L141.0,193.06 L141.5,193.00 L142.0,192.62 L142.5,192.82 L143.0,192.90 L143.5,192.64 L144.0,193.20 L144.5,193.11 L145.0,193.47 L145.5,193.61 L146.0,193.89 L146.5,193.90 L147.0,193.31 L147.5,193.95 L148.0,193.69 L148.5,193.91 L149.0,193.90 L149.5,193.93 L150.0,193.74 L150.5,193.93 L151.0,194.00 L151.5,193.96 L152.0,193.93 L152.5,193.66 L153.0,193.99 L153.5,194.00 L154.0,193.70 L154.5,193.74 L155.0,193.41 L155.5,193.99 L156.0,193.74 L156.5,193.75 L157.0,194.00 L157.5,193.05 L158.0,193.90 L158.5,193.97 L159.0,193.67 L159.5,193.93 L160.0,193.51 L160.5,193.80 L161.0,193.96 L161.5,193.99 L162.0,193.38 L162.5,193.86 L163.0,193.30 L163.5,193.68 L164.0,193.10 L164.5,193.84 L165.0,193.88 L165.5,193.86 L166.0,193.26 L166.5,193.50 L167.0,193.80 L167.5,193.97 L168.0,193.44 L168.5,193.05 L169.0,193.54 L169.5,194.00 L170.0,193.99 L170.5,193.97 L171.0,193.93 L171.5,193.99 L172.0,193.99 L172.5,193.47 L173.0,193.15 L173.5,193.91 L174.0,193.04 L174.5,193.67 L175.0,193.28 L175.5,193.12 L176.0,193.09 L176.5,193.99 L177.0,193.83 L177.5,193.53 L178.0,193.08 L178.5,193.97 L179.0,193.84 L179.5,193.22 L180.0,193.96 L180.5,193.76 L181.0,193.81 L181.5,193.44 L182.0,193.11 L182.5,193.93 L183.0,193.36 L183.5,193.37 L184.0,193.24 L184.5,193.59 L185.0,193.11 L185.5,193.78 L186.0,193.73 L186.5,193.89 L187.0,193.31 L187.5,193.67 L188.0,193.86 L188.5,193.93 L189.0,193.39 L189.5,193.53 L190.0,193.40 L190.5,193.76 L191.0,194.00Z" fill="#a0209c"/>
<path d="M92.0,206.30 L92.0,206.06 L92.5,206.26 L93.0,205.88 L93.5,206.30 L94.0,206.08 L94.5,205.84 L95.0,205.91 L95.5,206.28 L96.0,206.22 L96.5,205.76 L97.0,205.94 L97.5,205.72 L98.0,205.73 L98.5,206.09 L99.0,205.71 L99.5,205.86 L100.0,204.15 L100.5,204.47 L101.0,205.65 L101.5,206.28 L102.0,206.00 L102.5,206.27 L103.0,206.28 L103.5,205.93 L104.0,206.22 L104.5,206.29 L105.0,206.26 L105.5,205.94 L106.0,205.99 L106.5,206.30 L107.0,206.22 L107.5,205.63 L108.0,206.23 L108.5,206.00 L109.0,206.11 L109.5,205.82 L110.0,205.97 L110.5,205.81 L111.0,206.03 L111.5,205.42 L112.0,206.28 L112.5,206.27 L113.0,206.30 L113.5,205.63 L114.0,206.24 L114.5,205.71 L115.0,206.28 L115.5,206.08 L116.0,206.23 L116.5,205.77 L117.0,205.96 L117.5,205.94 L118.0,205.83 L118.5,205.73 L119.0,206.16 L119.5,205.97 L120.0,206.09 L120.5,206.27 L121.0,205.77 L121.5,205.98 L122.0,205.79 L122.5,206.23 L123.0,206.02 L123.5,206.08 L124.0,205.87 L124.5,206.28 L125.0,206.16 L125.5,206.06 L126.0,206.29 L126.5,206.01 L127.0,205.86 L127.5,206.11 L128.0,205.93 L128.5,205.97 L129.0,206.23 L129.5,206.15 L130.0,205.60 L130.5,206.16 L131.0,206.10 L131.5,206.28 L132.0,206.23 L132.5,206.25 L133.0,205.67 L133.5,205.87 L134.0,205.73 L134.5,205.61 L135.0,205.96 L135.5,205.67 L136.0,206.03 L136.5,206.11 L137.0,205.65 L137.5,205.66 L138.0,203.83 L138.5,201.84 L139.0,202.19 L139.5,201.55 L140.0,198.52 L140.5,199.01 L141.0,201.02 L141.5,200.03 L142.0,199.74 L142.5,198.06 L143.0,200.75 L143.5,199.56 L144.0,201.48 L144.5,200.82 L145.0,201.55 L145.5,204.07 L146.0,205.51 L146.5,206.08 L147.0,206.03 L147.5,204.79 L148.0,203.93 L148.5,203.28 L149.0,205.79 L149.5,205.13 L150.0,203.54 L150.5,204.11 L151.0,204.05 L151.5,204.69 L152.0,205.62 L152.5,205.62 L153.0,206.30 L153.5,204.18 L154.0,201.10 L154.5,200.41 L155.0,202.99 L155.5,206.21 L156.0,205.80 L156.5,206.11 L157.0,206.21 L157.5,206.29 L158.0,206.10 L158.5,205.81 L159.0,205.79 L159.5,205.44 L160.0,205.38 L160.5,205.20 L161.0,205.32 L161.5,204.83 L162.0,204.44 L162.5,204.60 L163.0,204.47 L163.5,204.83 L164.0,205.05 L164.5,204.58 L165.0,204.71 L165.5,204.88 L166.0,204.48 L166.5,204.34 L167.0,204.92 L167.5,204.83 L168.0,204.61 L168.5,204.94 L169.0,205.12 L169.5,205.33 L170.0,205.39 L170.5,205.69 L171.0,205.87 L171.5,205.97 L172.0,205.25 L172.5,203.48 L173.0,199.95 L173.5,200.19 L174.0,197.24 L174.5,199.54 L175.0,200.63 L175.5,197.08 L176.0,201.22 L176.5,203.10 L177.0,203.77 L177.5,204.89 L178.0,204.49 L178.5,204.44 L179.0,203.84 L179.5,203.75 L180.0,204.54 L180.5,205.35 L181.0,205.70 L181.5,205.61 L182.0,205.91 L182.5,205.94 L183.0,206.26 L183.5,206.29 L184.0,205.84 L184.5,206.25 L185.0,206.24 L185.5,205.78 L186.0,205.73 L186.5,206.29 L187.0,205.64 L187.5,206.03 L188.0,206.13 L188.5,206.28 L189.0,206.13 L189.5,205.61 L190.0,206.20 L190.5,206.27 L191.0,206.30Z" fill="#1fc2c0"/>
<path d="M92.0,218.30 L92.0,218.28 L92.5,218.28 L93.0,218.22 L93.5,217.95 L94.0,218.29 L94.5,218.27 L95.0,217.94 L95.5,217.90 L96.0,217.91 L96.5,218.25 L97.0,218.22 L97.5,217.93 L98.0,218.16 L98.5,218.06 L99.0,218.23 L99.5,218.30 L100.0,215.64 L100.5,216.28 L101.0,218.17 L101.5,218.14 L102.0,218.18 L102.5,218.14 L103.0,218.00 L103.5,218.26 L104.0,218.12 L104.5,217.94 L105.0,217.99 L105.5,218.27 L106.0,217.92 L106.5,217.99 L107.0,218.27 L107.5,218.25 L108.0,218.26 L108.5,218.30 L109.0,217.91 L109.5,218.20 L110.0,217.97 L110.5,218.28 L111.0,218.30 L111.5,217.98 L112.0,218.02 L112.5,217.91 L113.0,218.07 L113.5,218.15 L114.0,218.03 L114.5,218.29 L115.0,218.14 L115.5,218.18 L116.0,218.28 L116.5,218.11 L117.0,218.23 L117.5,218.16 L118.0,218.21 L118.5,218.23 L119.0,218.21 L119.5,218.11 L120.0,217.91 L120.5,217.94 L121.0,217.98 L121.5,217.99 L122.0,218.24 L122.5,217.91 L123.0,218.24 L123.5,218.28 L124.0,218.16 L124.5,218.05 L125.0,218.22 L125.5,218.09 L126.0,218.24 L126.5,217.92 L127.0,218.18 L127.5,218.17 L128.0,218.15 L128.5,217.97 L129.0,217.91 L129.5,218.15 L130.0,218.18 L130.5,218.11 L131.0,218.29 L131.5,218.19 L132.0,217.99 L132.5,218.03 L133.0,218.29 L133.5,217.98 L134.0,218.20 L134.5,217.91 L135.0,218.21 L135.5,218.26 L136.0,218.14 L136.5,217.62 L137.0,217.44 L137.5,217.37 L138.0,217.44 L138.5,217.62 L139.0,218.12 L139.5,218.26 L140.0,218.21 L140.5,217.93 L141.0,216.54 L141.5,216.05 L142.0,214.44 L142.5,214.77 L143.0,215.35 L143.5,217.21 L144.0,218.07 L144.5,218.28 L145.0,217.97 L145.5,218.21 L146.0,218.17 L146.5,217.96 L147.0,218.24 L147.5,218.27 L148.0,218.00 L148.5,218.11 L149.0,218.29 L149.5,218.30 L150.0,218.22 L150.5,217.73 L151.0,217.21 L151.5,217.18 L152.0,217.03 L152.5,217.76 L153.0,217.91 L153.5,218.29 L154.0,218.18 L154.5,218.04 L155.0,217.90 L155.5,218.29 L156.0,218.30 L156.5,218.17 L157.0,218.19 L157.5,217.96 L158.0,218.00 L158.5,218.22 L159.0,218.19 L159.5,218.12 L160.0,217.97 L160.5,218.26 L161.0,218.20 L161.5,218.29 L162.0,218.09 L162.5,218.30 L163.0,217.46 L163.5,216.58 L164.0,215.79 L164.5,215.68 L165.0,216.44 L165.5,218.08 L166.0,218.15 L166.5,218.26 L167.0,218.23 L167.5,217.96 L168.0,218.28 L168.5,218.14 L169.0,218.10 L169.5,218.22 L170.0,218.03 L170.5,217.95 L171.0,217.98 L171.5,218.05 L172.0,218.26 L172.5,217.58 L173.0,215.71 L173.5,214.74 L174.0,212.95 L174.5,213.88 L175.0,217.21 L175.5,218.27 L176.0,218.30 L176.5,218.16 L177.0,218.20 L177.5,217.99 L178.0,218.00 L178.5,218.29 L179.0,218.20 L179.5,218.20 L180.0,218.27 L180.5,218.25 L181.0,218.25 L181.5,218.07 L182.0,218.22 L182.5,218.29 L183.0,218.26 L183.5,218.18 L184.0,218.13 L184.5,218.25 L185.0,218.07 L185.5,218.26 L186.0,218.08 L186.5,218.11 L187.0,218.27 L187.5,218.04 L188.0,218.20 L188.5,218.14 L189.0,218.12 L189.5,218.10 L190.0,218.18 L190.5,218.29 L191.0,218.30Z" fill="#1fc2c0"/>
<path d="M92.0,230.10 L92.0,229.82 L92.5,229.78 L93.0,229.96 L93.5,229.92 L94.0,230.04 L94.5,229.76 L95.0,229.87 L95.5,230.06 L96.0,229.80 L96.5,229.71 L97.0,230.02 L97.5,229.70 L98.0,229.97 L98.5,230.07 L99.0,229.86 L99.5,230.02 L100.0,228.88 L100.5,229.11 L101.0,229.79 L101.5,229.97 L102.0,229.94 L102.5,229.78 L103.0,229.98 L103.5,229.96 L104.0,229.92 L104.5,229.80 L105.0,230.06 L105.5,230.09 L106.0,229.83 L106.5,229.94 L107.0,230.03 L107.5,229.76 L108.0,229.77 L108.5,229.94 L109.0,229.71 L109.5,229.79 L110.0,229.84 L110.5,230.04 L111.0,230.10 L111.5,229.88 L112.0,229.85 L112.5,230.02 L113.0,229.97 L113.5,229.93 L114.0,230.05 L114.5,229.87 L115.0,229.93 L115.5,230.00 L116.0,230.09 L116.5,229.94 L117.0,230.03 L117.5,229.85 L118.0,230.07 L118.5,230.00 L119.0,230.07 L119.5,230.00 L120.0,229.92 L120.5,230.09 L121.0,230.09 L121.5,229.97 L122.0,230.06 L122.5,229.96 L123.0,230.07 L123.5,230.09 L124.0,229.94 L124.5,229.75 L125.0,229.78 L125.5,229.95 L126.0,230.00 L126.5,230.09 L127.0,230.04 L127.5,230.03 L128.0,229.73 L128.5,230.08 L129.0,229.73 L129.5,229.97 L130.0,229.99 L130.5,230.05 L131.0,229.72 L131.5,230.07 L132.0,229.93 L132.5,229.95 L133.0,228.89 L133.5,228.29 L134.0,229.85 L134.5,230.09 L135.0,229.86 L135.5,229.84 L136.0,230.06 L136.5,229.98 L137.0,229.72 L137.5,230.03 L138.0,229.83 L138.5,230.07 L139.0,229.88 L139.5,230.04 L140.0,229.95 L140.5,227.86 L141.0,226.05 L141.5,224.39 L142.0,223.97 L142.5,222.62 L143.0,224.85 L143.5,222.39 L144.0,222.82 L144.5,224.49 L145.0,227.47 L145.5,230.01 L146.0,230.10 L146.5,229.93 L147.0,229.84 L147.5,229.75 L148.0,230.06 L148.5,230.07 L149.0,229.71 L149.5,229.85 L150.0,229.97 L150.5,229.23 L151.0,228.62 L151.5,229.00 L152.0,228.39 L152.5,229.50 L153.0,230.09 L153.5,230.00 L154.0,229.98 L154.5,229.70 L155.0,229.91 L155.5,230.05 L156.0,229.87 L156.5,230.10 L157.0,230.04 L157.5,229.87 L158.0,230.07 L158.5,230.10 L159.0,229.95 L159.5,230.02 L160.0,229.72 L160.5,230.09 L161.0,229.81 L161.5,230.00 L162.0,229.81 L162.5,229.98 L163.0,229.28 L163.5,228.46 L164.0,228.92 L164.5,229.35 L165.0,230.03 L165.5,229.94 L166.0,229.92 L166.5,230.04 L167.0,230.10 L167.5,230.10 L168.0,230.02 L168.5,230.07 L169.0,229.93 L169.5,230.05 L170.0,229.83 L170.5,229.91 L171.0,229.88 L171.5,229.85 L172.0,229.95 L172.5,229.25 L173.0,225.40 L173.5,225.94 L174.0,224.42 L174.5,225.72 L175.0,227.95 L175.5,230.07 L176.0,230.01 L176.5,229.70 L177.0,230.08 L177.5,229.96 L178.0,229.97 L178.5,230.05 L179.0,229.74 L179.5,229.99 L180.0,230.10 L180.5,229.97 L181.0,230.10 L181.5,229.86 L182.0,229.78 L182.5,229.76 L183.0,230.10 L183.5,229.88 L184.0,230.03 L184.5,229.97 L185.0,230.03 L185.5,230.03 L186.0,230.08 L186.5,229.90 L187.0,230.09 L187.5,229.72 L188.0,230.10 L188.5,229.72 L189.0,230.07 L189.5,230.09 L190.0,229.84 L190.5,229.95 L191.0,230.10Z" fill="#1fc2c0"/>
<path d="M92.0,242.30 L92.0,242.03 L92.5,241.50 L93.0,241.13 L93.5,241.80 L94.0,242.29 L94.5,242.08 L95.0,241.94 L95.5,242.19 L96.0,242.06 L96.5,242.13 L97.0,242.20 L97.5,242.17 L98.0,242.11 L98.5,242.30 L99.0,242.23 L99.5,242.05 L100.0,242.25 L100.5,242.17 L101.0,241.71 L101.5,241.87 L102.0,241.93 L102.5,242.17 L103.0,242.26 L103.5,242.22 L104.0,242.29 L104.5,242.25 L105.0,242.12 L105.5,242.11 L106.0,242.25 L106.5,242.27 L107.0,242.29 L107.5,242.27 L108.0,242.16 L108.5,242.25 L109.0,241.97 L109.5,242.13 L110.0,242.22 L110.5,242.19 L111.0,242.30 L111.5,242.05 L112.0,242.04 L112.5,242.21 L113.0,242.05 L113.5,242.24 L114.0,242.26 L114.5,242.26 L115.0,242.27 L115.5,242.11 L116.0,242.09 L116.5,242.05 L117.0,242.29 L117.5,242.03 L118.0,242.17 L118.5,242.21 L119.0,242.16 L119.5,242.19 L120.0,242.26 L120.5,242.20 L121.0,242.09 L121.5,242.06 L122.0,241.95 L122.5,242.27 L123.0,241.96 L123.5,242.01 L124.0,242.06 L124.5,241.91 L125.0,242.28 L125.5,242.03 L126.0,241.96 L126.5,242.28 L127.0,242.12 L127.5,241.93 L128.0,242.24 L128.5,241.98 L129.0,241.95 L129.5,242.19 L130.0,242.28 L130.5,242.26 L131.0,242.00 L131.5,242.19 L132.0,242.23 L132.5,242.18 L133.0,241.94 L133.5,242.25 L134.0,242.30 L134.5,241.93 L135.0,242.23 L135.5,242.20 L136.0,241.91 L136.5,242.24 L137.0,242.29 L137.5,241.97 L138.0,242.25 L138.5,242.26 L139.0,241.94 L139.5,242.26 L140.0,241.75 L140.5,241.19 L141.0,238.58 L141.5,233.96 L142.0,234.03 L142.5,237.17 L143.0,239.49 L143.5,241.46 L144.0,241.84 L144.5,241.96 L145.0,242.24 L145.5,241.93 L146.0,242.26 L146.5,241.95 L147.0,242.23 L147.5,242.08 L148.0,242.29 L148.5,241.96 L149.0,242.20 L149.5,242.22 L150.0,242.09 L150.5,242.12 L151.0,242.25 L151.5,242.28 L152.0,242.13 L152.5,242.30 L153.0,241.97 L153.5,241.51 L154.0,241.10 L154.5,241.03 L155.0,242.20 L155.5,242.22 L156.0,242.24 L156.5,242.16 L157.0,242.03 L157.5,242.18 L158.0,242.03 L158.5,242.17 L159.0,242.28 L159.5,242.27 L160.0,241.99 L160.5,242.17 L161.0,242.21 L161.5,242.15 L162.0,241.99 L162.5,242.21 L163.0,242.21 L163.5,242.21 L164.0,242.30 L164.5,242.14 L165.0,242.17 L165.5,242.16 L166.0,242.18 L166.5,242.17 L167.0,242.06 L167.5,242.27 L168.0,241.91 L168.5,242.28 L169.0,241.98 L169.5,242.27 L170.0,242.02 L170.5,242.25 L171.0,242.29 L171.5,242.14 L172.0,241.55 L172.5,240.54 L173.0,241.00 L173.5,240.72 L174.0,241.58 L174.5,242.02 L175.0,241.90 L175.5,242.08 L176.0,241.97 L176.5,242.14 L177.0,242.29 L177.5,241.96 L178.0,242.29 L178.5,242.29 L179.0,242.00 L179.5,242.24 L180.0,242.08 L180.5,242.30 L181.0,242.26 L181.5,242.06 L182.0,242.30 L182.5,242.15 L183.0,241.94 L183.5,242.26 L184.0,242.06 L184.5,242.04 L185.0,242.10 L185.5,242.03 L186.0,242.07 L186.5,242.30 L187.0,242.27 L187.5,242.14 L188.0,241.92 L188.5,242.26 L189.0,242.12 L189.5,242.28 L190.0,241.99 L190.5,242.18 L191.0,242.30Z" fill="#33e033"/>
<path d="M92.0,277.40 L92.0,277.31 L92.5,277.26 L93.0,277.39 L93.5,277.24 L94.0,277.22 L94.5,277.20 L95.0,277.36 L95.5,277.37 L96.0,277.38 L96.5,277.19 L97.0,277.33 L97.5,277.34 L98.0,277.31 L98.5,277.25 L99.0,277.36 L99.5,277.35 L100.0,277.23 L100.5,277.23 L101.0,277.36 L101.5,277.40 L102.0,277.18 L102.5,277.24 L103.0,277.29 L103.5,277.34 L104.0,277.17 L104.5,277.33 L105.0,277.37 L105.5,277.39 L106.0,277.35 L106.5,277.28 L107.0,277.34 L107.5,277.17 L108.0,277.27 L108.5,277.32 L109.0,277.27 L109.5,277.28 L110.0,277.28 L110.5,277.31 L111.0,277.31 L111.5,277.31 L112.0,277.21 L112.5,277.38 L113.0,277.23 L113.5,277.36 L114.0,277.20 L114.5,277.40 L115.0,277.32 L115.5,277.33 L116.0,277.25 L116.5,277.38 L117.0,277.37 L117.5,277.39 L118.0,277.29 L118.5,277.29 L119.0,277.40 L119.5,277.38 L120.0,277.38 L120.5,277.17 L121.0,277.32 L121.5,277.29 L122.0,277.36 L122.5,277.27 L123.0,277.22 L123.5,277.26 L124.0,277.40 L124.5,277.33 L125.0,277.31 L125.5,277.40 L126.0,277.22 L126.5,277.35 L127.0,277.36 L127.5,277.28 L128.0,277.29 L128.5,277.31 L129.0,277.20 L129.5,277.31 L130.0,277.35 L130.5,277.40 L131.0,277.30 L131.5,277.35 L132.0,277.30 L132.5,277.35 L133.0,277.40 L133.5,277.40 L134.0,277.38 L134.5,277.39 L135.0,277.20 L135.5,277.29 L136.0,277.37 L136.5,277.25 L137.0,277.27 L137.5,277.40 L138.0,277.24 L138.5,277.37 L139.0,277.15 L139.5,277.39 L140.0,277.36 L140.5,274.40 L141.0,271.72 L141.5,270.57 L142.0,268.53 L142.5,269.45 L143.0,272.71 L143.5,273.76 L144.0,274.51 L144.5,275.99 L145.0,277.23 L145.5,277.26 L146.0,277.21 L146.5,277.40 L147.0,277.37 L147.5,277.34 L148.0,277.33 L148.5,277.26 L149.0,277.19 L149.5,277.24 L150.0,277.18 L150.5,277.25 L151.0,277.35 L151.5,277.31 L152.0,277.24 L152.5,277.22 L153.0,276.05 L153.5,275.44 L154.0,276.09 L154.5,277.27 L155.0,277.32 L155.5,277.38 L156.0,277.29 L156.5,277.32 L157.0,277.16 L157.5,277.19 L158.0,277.29 L158.5,277.20 L159.0,277.19 L159.5,277.38 L160.0,277.21 L160.5,277.21 L161.0,277.15 L161.5,277.23 L162.0,277.34 L162.5,277.38 L163.0,277.27 L163.5,277.38 L164.0,277.24 L164.5,277.29 L165.0,277.21 L165.5,277.35 L166.0,277.36 L166.5,277.18 L167.0,277.27 L167.5,277.34 L168.0,277.30 L168.5,277.33 L169.0,277.27 L169.5,277.31 L170.0,277.36 L170.5,277.16 L171.0,277.19 L171.5,276.31 L172.0,274.66 L172.5,275.01 L173.0,274.49 L173.5,274.38 L174.0,274.50 L174.5,275.18 L175.0,276.74 L175.5,277.17 L176.0,277.27 L176.5,277.29 L177.0,277.20 L177.5,277.40 L178.0,277.22 L178.5,277.28 L179.0,277.29 L179.5,277.36 L180.0,277.28 L180.5,277.39 L181.0,277.30 L181.5,277.37 L182.0,277.18 L182.5,277.22 L183.0,277.32 L183.5,277.24 L184.0,277.34 L184.5,277.31 L185.0,277.38 L185.5,277.20 L186.0,277.23 L186.5,277.23 L187.0,277.39 L187.5,277.21 L188.0,277.40 L188.5,277.29 L189.0,277.31 L189.5,277.40 L190.0,277.33 L190.5,277.19 L191.0,277.40Z" fill="#f5875c"/>
<path d="M92.0,289.60 L92.0,289.53 L92.5,289.57 L93.0,289.49 L93.5,289.57 L94.0,289.47 L94.5,289.56 L95.0,289.60 L95.5,289.46 L96.0,289.60 L96.5,289.58 L97.0,289.50 L97.5,289.59 L98.0,289.54 L98.5,289.48 L99.0,289.53 L99.5,289.57 L100.0,289.50 L100.5,289.49 L101.0,289.53 L101.5,289.53 L102.0,289.57 L102.5,289.56 L103.0,289.45 L103.5,289.46 L104.0,289.60 L104.5,289.59 L105.0,289.58 L105.5,289.49 L106.0,289.59 L106.5,289.59 L107.0,289.50 L107.5,289.59 L108.0,289.46 L108.5,289.55 L109.0,289.47 L109.5,289.49 L110.0,289.59 L110.5,289.50 L111.0,289.56 L111.5,289.58 L112.0,289.60 L112.5,289.51 L113.0,289.54 L113.5,289.57 L114.0,289.49 L114.5,289.59 L115.0,289.56 L115.5,289.60 L116.0,289.57 L116.5,289.48 L117.0,289.55 L117.5,289.59 L118.0,289.58 L118.5,289.52 L119.0,289.58 L119.5,289.47 L120.0,289.60 L120.5,289.48 L121.0,289.53 L121.5,289.49 L122.0,289.57 L122.5,289.60 L123.0,289.59 L123.5,289.53 L124.0,289.60 L124.5,289.59 L125.0,289.50 L125.5,289.48 L126.0,289.48 L126.5,289.49 L127.0,289.54 L127.5,289.48 L128.0,289.51 L128.5,289.54 L129.0,289.56 L129.5,289.60 L130.0,289.60 L130.5,289.58 L131.0,289.55 L131.5,289.59 L132.0,289.46 L132.5,289.53 L133.0,289.50 L133.5,289.47 L134.0,289.58 L134.5,289.47 L135.0,289.46 L135.5,289.58 L136.0,289.59 L136.5,289.49 L137.0,289.47 L137.5,289.49 L138.0,289.56 L138.5,289.53 L139.0,289.59 L139.5,289.58 L140.0,289.56 L140.5,289.50 L141.0,289.60 L141.5,289.47 L142.0,289.13 L142.5,288.77 L143.0,289.13 L143.5,289.55 L144.0,289.51 L144.5,289.58 L145.0,289.49 L145.5,289.59 L146.0,289.48 L146.5,289.53 L147.0,289.60 L147.5,289.46 L148.0,289.57 L148.5,289.60 L149.0,289.58 L149.5,289.60 L150.0,289.58 L150.5,289.51 L151.0,289.45 L151.5,289.52 L152.0,289.48 L152.5,289.49 L153.0,289.51 L153.5,289.56 L154.0,289.58 L154.5,289.59 L155.0,289.54 L155.5,289.59 L156.0,289.50 L156.5,289.57 L157.0,289.53 L157.5,289.54 L158.0,289.53 L158.5,289.59 L159.0,289.58 L159.5,289.51 L160.0,289.59 L160.5,289.52 L161.0,289.46 L161.5,289.56 L162.0,289.46 L162.5,289.53 L163.0,289.46 L163.5,289.54 L164.0,289.50 L164.5,289.52 L165.0,289.59 L165.5,289.54 L166.0,289.53 L166.5,289.55 L167.0,289.52 L167.5,289.47 L168.0,289.49 L168.5,289.49 L169.0,289.59 L169.5,289.51 L170.0,289.53 L170.5,289.46 L171.0,289.60 L171.5,289.59 L172.0,289.46 L172.5,289.57 L173.0,289.51 L173.5,289.53 L174.0,289.56 L174.5,289.56 L175.0,289.54 L175.5,289.45 L176.0,289.54 L176.5,289.49 L177.0,289.57 L177.5,289.51 L178.0,289.53 L178.5,289.50 L179.0,289.48 L179.5,289.60 L180.0,289.46 L180.5,289.53 L181.0,289.58 L181.5,289.55 L182.0,289.60 L182.5,289.58 L183.0,289.48 L183.5,289.51 L184.0,289.48 L184.5,289.59 L185.0,289.59 L185.5,289.56 L186.0,289.55 L186.5,289.51 L187.0,289.58 L187.5,289.51 L188.0,289.53 L188.5,289.58 L189.0,289.50 L189.5,289.60 L190.0,289.53 L190.5,289.59 L191.0,289.60Z" fill="#f5875c"/>
<rect x="136.5" y="159.2" width="10.1" height="143.2" fill="none" stroke="#333" stroke-width="0.6"/>
<line x1="79.60" y1="32.60" x2="79.60" y2="64.40" stroke="#ff0a0a" stroke-width="0.9" />
<line x1="79.60" y1="66.30" x2="79.60" y2="76.20" stroke="#222222" stroke-width="0.9" />
<line x1="79.60" y1="79.40" x2="79.60" y2="89.40" stroke="#222222" stroke-width="0.9" />
<line x1="79.60" y1="92.50" x2="79.60" y2="124.00" stroke="#22bb44" stroke-width="0.9" />
<line x1="79.60" y1="128.20" x2="79.60" y2="159.60" stroke="#1f5fff" stroke-width="0.9" />
<line x1="79.60" y1="162.00" x2="79.60" y2="194.00" stroke="#a0209c" stroke-width="0.9" />
<line x1="79.60" y1="197.00" x2="79.60" y2="230.40" stroke="#1fc2c0" stroke-width="0.9" />
<line x1="79.60" y1="232.40" x2="79.60" y2="264.80" stroke="#33e033" stroke-width="0.9" />
<line x1="79.60" y1="268.80" x2="79.60" y2="300.40" stroke="#f5875c" stroke-width="0.9" />
<text x="76.50" y="50.50" font-size="8.2" fill="#222" stroke="#222" stroke-width="0.22" text-anchor="end" >WT</text>
<text x="77.20" y="73.90" font-size="8.2" fill="#222" stroke="#222" stroke-width="0.22" text-anchor="end" >MyoD<tspan font-size="3.7" dy="-3.0" stroke-width="0.1">&#916;</tspan></text>
<text x="76.80" y="86.80" font-size="8.2" fill="#222" stroke="#222" stroke-width="0.22" text-anchor="end" >MyoD<tspan font-size="3.7" dy="-3.0" stroke-width="0.1">&#916;</tspan><tspan dy="3.0"> + MyoD</tspan></text>
<text x="77.40" y="112.40" font-size="8.2" fill="#222" stroke="#222" stroke-width="0.22" text-anchor="end" >CHAMP1<tspan font-size="3.7" dy="-3.0" stroke-width="0.1">&#916;</tspan></text>
<text x="77.40" y="143.30" font-size="8.2" fill="#222" stroke="#222" stroke-width="0.22" text-anchor="end" >CHAMP1<tspan font-size="3.7" dy="-3.0" stroke-width="0.1">&#916;</tspan></text>
<text x="76.40" y="153.80" font-size="8.2" fill="#222" stroke="#222" stroke-width="0.22" text-anchor="end" >+ CHAMP1</text>
<text x="76.30" y="180.60" font-size="8.2" fill="#222" stroke="#222" stroke-width="0.22" text-anchor="end" >WT</text>
<text x="76.30" y="203.90" font-size="8.2" fill="#222" stroke="#222" stroke-width="0.22" text-anchor="end" >WT</text>
<text x="78.40" y="216.70" font-size="8.2" fill="#222" stroke="#222" stroke-width="0.22" text-anchor="end" >MyoD<tspan font-size="3.7" dy="-3.0" stroke-width="0.1">&#916;</tspan></text>
<text x="78.40" y="228.40" font-size="8.2" fill="#222" stroke="#222" stroke-width="0.22" text-anchor="end" >CHAMP1<tspan font-size="3.7" dy="-3.0" stroke-width="0.1">&#916;</tspan></text>
<text x="76.30" y="238.90" font-size="8.2" fill="#222" stroke="#222" stroke-width="0.22" text-anchor="end" >WT</text>
<text x="78.40" y="251.30" font-size="8.2" fill="#222" stroke="#222" stroke-width="0.22" text-anchor="end" >CHAMP1<tspan font-size="3.7" dy="-3.0" stroke-width="0.1">&#916;</tspan></text>
<text x="78.40" y="263.40" font-size="8.2" fill="#222" stroke="#222" stroke-width="0.22" text-anchor="end" >MyoD<tspan font-size="3.7" dy="-3.0" stroke-width="0.1">&#916;</tspan></text>
<text x="76.30" y="274.40" font-size="8.2" fill="#222" stroke="#222" stroke-width="0.22" text-anchor="end" >WT</text>
<text x="78.40" y="286.80" font-size="8.2" fill="#222" stroke="#222" stroke-width="0.22" text-anchor="end" >CHAMP1<tspan font-size="3.7" dy="-3.0" stroke-width="0.1">&#916;</tspan></text>
<text x="78.40" y="298.40" font-size="8.2" fill="#222" stroke="#222" stroke-width="0.22" text-anchor="end" >MyoD<tspan font-size="3.7" dy="-3.0" stroke-width="0.1">&#916;</tspan></text>
<text transform="translate(24.30,214.30) rotate(-90)" x="0" y="0" font-size="8.3" fill="#222" stroke="#222" stroke-width="0.22" text-anchor="middle">Anti&#8211;</text>
<text transform="translate(34.80,214.20) rotate(-90)" x="0" y="0" font-size="8.3" fill="#1fc2c0" stroke="#1fc2c0" stroke-width="0.22" text-anchor="middle">H3K27ac</text>
<line x1="37.80" y1="200.60" x2="37.80" y2="229.00" stroke="#aaa" stroke-width="0.8" />
<text transform="translate(24.30,249.50) rotate(-90)" x="0" y="0" font-size="8.3" fill="#222" stroke="#222" stroke-width="0.22" text-anchor="middle">Anti&#8211;</text>
<text transform="translate(34.80,249.40) rotate(-90)" x="0" y="0" font-size="8.3" fill="#3cc83c" stroke="#3cc83c" stroke-width="0.22" text-anchor="middle">CHAMP1</text>
<line x1="37.80" y1="234.70" x2="37.80" y2="263.80" stroke="#aaa" stroke-width="0.8" />
<text transform="translate(24.30,285.10) rotate(-90)" x="0" y="0" font-size="8.3" fill="#222" stroke="#222" stroke-width="0.22" text-anchor="middle">Anti&#8211;</text>
<text transform="translate(34.80,285.00) rotate(-90)" x="0" y="0" font-size="8.3" fill="#f0703c" stroke="#f0703c" stroke-width="0.22" text-anchor="middle">MyoD</text>
<line x1="37.80" y1="269.00" x2="37.80" y2="298.40" stroke="#aaa" stroke-width="0.8" />
<line x1="195.00" y1="36.30" x2="195.00" y2="153.90" stroke="#777" stroke-width="0.9" />
<path d="M195.00,32.30 L193.40,37.70 L196.60,37.70Z" fill="#111"/>
<path d="M195.00,157.90 L193.40,152.50 L196.60,152.50Z" fill="#111"/>
<line x1="195.00" y1="163.30" x2="195.00" y2="189.50" stroke="#777" stroke-width="0.9" />
<path d="M195.00,159.30 L193.40,164.70 L196.60,164.70Z" fill="#111"/>
<path d="M195.00,193.50 L193.40,188.10 L196.60,188.10Z" fill="#111"/>
<line x1="195.00" y1="201.00" x2="195.00" y2="296.50" stroke="#777" stroke-width="0.9" />
<path d="M195.00,197.00 L193.40,202.40 L196.60,202.40Z" fill="#111"/>
<path d="M195.00,300.50 L193.40,295.10 L196.60,295.10Z" fill="#111"/>
<text transform="translate(198.60,92.00) rotate(90)" x="0" y="0" font-size="8.3" fill="#222" stroke="#222" stroke-width="0.22" text-anchor="middle">RNA&#8211;seq</text>
<text transform="translate(198.60,175.50) rotate(90)" x="0" y="0" font-size="8.3" fill="#222" stroke="#222" stroke-width="0.22" text-anchor="middle">ATAC&#8211;seq</text>
<text transform="translate(198.60,248.00) rotate(90)" x="0" y="0" font-size="8.3" fill="#222" stroke="#222" stroke-width="0.22" text-anchor="middle">CUT&amp;Tag</text>
<g clip-path="url(#clip231)">
<rect x="231.30" y="20.40" width="57.20" height="105.00" fill="#fff2e5" />
<rect x="248.6" y="20.4" width="22.9" height="2.00" fill="url(#hg0)"/>
<rect x="249.6" y="21.4" width="21.0" height="2.00" fill="url(#hg1)"/>
<rect x="249.5" y="22.4" width="21.2" height="2.00" fill="url(#hg2)"/>
<rect x="249.2" y="23.4" width="21.7" height="2.00" fill="url(#hg3)"/>
<rect x="250.4" y="24.4" width="19.5" height="2.00" fill="url(#hg4)"/>
<rect x="250.0" y="25.4" width="20.1" height="2.00" fill="url(#hg3)"/>
<rect x="250.7" y="26.4" width="18.8" height="2.00" fill="url(#hg5)"/>
<rect x="250.0" y="27.4" width="20.1" height="2.00" fill="url(#hg6)"/>
<rect x="249.9" y="28.4" width="20.3" height="2.00" fill="url(#hg7)"/>
<rect x="251.2" y="29.4" width="17.9" height="2.00" fill="url(#hg5)"/>
<rect x="250.7" y="30.4" width="18.7" height="2.00" fill="url(#hg8)"/>
<rect x="251.1" y="31.4" width="18.0" height="2.00" fill="url(#hg9)"/>
<rect x="251.2" y="32.4" width="17.8" height="2.00" fill="url(#hg10)"/>
<rect x="251.6" y="33.4" width="17.0" height="2.00" fill="url(#hg11)"/>
<rect x="251.5" y="34.4" width="17.2" height="2.00" fill="url(#hg12)"/>
<rect x="251.9" y="35.4" width="16.4" height="2.00" fill="url(#hg13)"/>
<rect x="251.9" y="36.4" width="16.5" height="2.00" fill="url(#hg11)"/>
<rect x="252.4" y="37.4" width="15.3" height="2.00" fill="url(#hg13)"/>
<rect x="252.1" y="38.4" width="16.0" height="2.00" fill="url(#hg7)"/>
<rect x="252.5" y="39.4" width="15.2" height="2.00" fill="url(#hg10)"/>
<rect x="251.9" y="40.4" width="16.3" height="2.00" fill="url(#hg4)"/>
<rect x="252.5" y="41.4" width="15.2" height="2.00" fill="url(#hg14)"/>
<rect x="252.2" y="42.4" width="15.8" height="2.00" fill="url(#hg10)"/>
<rect x="252.6" y="43.4" width="15.1" height="2.00" fill="url(#hg7)"/>
<rect x="252.4" y="44.4" width="15.4" height="2.00" fill="url(#hg12)"/>
<rect x="252.5" y="45.4" width="15.1" height="2.00" fill="url(#hg15)"/>
<rect x="252.4" y="46.4" width="15.4" height="2.00" fill="url(#hg12)"/>
<rect x="252.7" y="47.4" width="14.8" height="2.00" fill="url(#hg11)"/>
<rect x="253.0" y="48.4" width="14.1" height="2.00" fill="url(#hg16)"/>
<rect x="253.0" y="49.4" width="14.3" height="2.00" fill="url(#hg8)"/>
<rect x="252.9" y="50.4" width="14.4" height="2.00" fill="url(#hg17)"/>
<rect x="252.9" y="51.4" width="14.4" height="2.00" fill="url(#hg13)"/>
<rect x="253.2" y="52.4" width="13.9" height="2.00" fill="url(#hg14)"/>
<rect x="252.9" y="53.4" width="14.3" height="2.00" fill="url(#hg15)"/>
<rect x="253.3" y="54.4" width="13.5" height="2.00" fill="url(#hg15)"/>
<rect x="253.7" y="55.4" width="12.8" height="2.00" fill="url(#hg14)"/>
<rect x="253.2" y="56.4" width="13.8" height="2.00" fill="url(#hg18)"/>
<rect x="253.4" y="57.4" width="13.5" height="2.00" fill="url(#hg8)"/>
<rect x="253.8" y="58.4" width="12.7" height="2.00" fill="url(#hg17)"/>
<rect x="253.1" y="59.4" width="14.0" height="2.00" fill="url(#hg14)"/>
<rect x="253.4" y="60.4" width="13.3" height="2.00" fill="url(#hg11)"/>
<rect x="253.7" y="61.4" width="12.8" height="2.00" fill="url(#hg13)"/>
<rect x="253.1" y="62.4" width="14.0" height="2.00" fill="url(#hg17)"/>
<rect x="253.5" y="63.4" width="13.2" height="2.00" fill="url(#hg14)"/>
<rect x="253.4" y="64.4" width="13.4" height="2.00" fill="url(#hg18)"/>
<rect x="253.8" y="65.4" width="12.5" height="2.00" fill="url(#hg13)"/>
<rect x="253.2" y="66.4" width="13.9" height="2.00" fill="url(#hg15)"/>
<rect x="253.2" y="67.4" width="13.7" height="2.00" fill="url(#hg11)"/>
<rect x="253.4" y="68.4" width="13.4" height="2.00" fill="url(#hg15)"/>
<rect x="253.5" y="69.4" width="13.3" height="2.00" fill="url(#hg17)"/>
<rect x="253.1" y="70.4" width="14.0" height="2.00" fill="url(#hg19)"/>
<rect x="253.6" y="71.4" width="12.9" height="2.00" fill="url(#hg17)"/>
<rect x="253.4" y="72.4" width="13.4" height="2.00" fill="url(#hg16)"/>
<rect x="253.5" y="73.4" width="13.2" height="2.00" fill="url(#hg18)"/>
<rect x="253.3" y="74.4" width="13.7" height="2.00" fill="url(#hg16)"/>
<rect x="253.4" y="75.4" width="13.4" height="2.00" fill="url(#hg16)"/>
<rect x="253.6" y="76.4" width="13.1" height="2.00" fill="url(#hg20)"/>
<rect x="253.3" y="77.4" width="13.7" height="2.00" fill="url(#hg19)"/>
<rect x="253.1" y="78.4" width="14.0" height="2.00" fill="url(#hg14)"/>
<rect x="253.1" y="79.4" width="14.1" height="2.00" fill="url(#hg17)"/>
<rect x="253.0" y="80.4" width="14.1" height="2.00" fill="url(#hg21)"/>
<rect x="253.6" y="81.4" width="12.9" height="2.00" fill="url(#hg16)"/>
<rect x="253.7" y="82.4" width="12.8" height="2.00" fill="url(#hg22)"/>
<rect x="253.5" y="83.4" width="13.2" height="2.00" fill="url(#hg16)"/>
<rect x="253.2" y="84.4" width="13.8" height="2.00" fill="url(#hg20)"/>
<rect x="253.6" y="85.4" width="13.0" height="2.00" fill="url(#hg21)"/>
<rect x="253.2" y="86.4" width="13.7" height="2.00" fill="url(#hg20)"/>
<rect x="253.4" y="87.4" width="13.3" height="2.00" fill="url(#hg20)"/>
<rect x="253.3" y="88.4" width="13.6" height="2.00" fill="url(#hg18)"/>
<rect x="253.3" y="89.4" width="13.7" height="2.00" fill="url(#hg19)"/>
<rect x="253.3" y="90.4" width="13.6" height="2.00" fill="url(#hg23)"/>
<rect x="253.5" y="91.4" width="13.2" height="2.00" fill="url(#hg19)"/>
<rect x="253.0" y="92.4" width="14.2" height="2.00" fill="url(#hg24)"/>
<rect x="253.6" y="93.4" width="13.0" height="2.00" fill="url(#hg20)"/>
<rect x="253.2" y="94.4" width="13.9" height="2.00" fill="url(#hg22)"/>
<rect x="253.9" y="95.4" width="12.5" height="2.00" fill="url(#hg25)"/>
<rect x="253.4" y="96.4" width="13.5" height="2.00" fill="url(#hg25)"/>
<rect x="253.4" y="97.4" width="13.3" height="2.00" fill="url(#hg26)"/>
<rect x="253.6" y="98.4" width="13.0" height="2.00" fill="url(#hg27)"/>
<rect x="253.3" y="99.4" width="13.5" height="2.00" fill="url(#hg28)"/>
<rect x="253.7" y="100.4" width="12.7" height="2.00" fill="url(#hg29)"/>
<rect x="253.7" y="101.4" width="12.8" height="2.00" fill="url(#hg30)"/>
<rect x="253.8" y="102.4" width="12.6" height="2.00" fill="url(#hg30)"/>
<rect x="253.8" y="103.4" width="12.5" height="2.00" fill="url(#hg31)"/>
<rect x="254.1" y="104.4" width="11.9" height="2.00" fill="url(#hg32)"/>
<rect x="253.8" y="105.4" width="12.7" height="2.00" fill="url(#hg33)"/>
<rect x="253.8" y="106.4" width="12.5" height="2.00" fill="url(#hg32)"/>
<rect x="253.8" y="107.4" width="12.5" height="2.00" fill="url(#hg34)"/>
<rect x="254.3" y="108.4" width="11.7" height="2.00" fill="url(#hg35)"/>
<rect x="254.6" y="109.4" width="11.0" height="2.00" fill="url(#hg36)"/>
<rect x="254.6" y="110.4" width="10.9" height="2.00" fill="url(#hg34)"/>
<rect x="254.1" y="111.4" width="12.1" height="2.00" fill="url(#hg36)"/>
<rect x="254.7" y="112.4" width="10.9" height="2.00" fill="url(#hg37)"/>
<rect x="254.2" y="113.4" width="11.9" height="2.00" fill="url(#hg37)"/>
<rect x="254.5" y="114.4" width="11.1" height="2.00" fill="url(#hg38)"/>
<rect x="254.7" y="115.4" width="10.8" height="2.00" fill="url(#hg39)"/>
<rect x="254.5" y="116.4" width="11.1" height="2.00" fill="url(#hg40)"/>
<rect x="254.9" y="117.4" width="10.4" height="2.00" fill="url(#hg41)"/>
<rect x="254.7" y="118.4" width="10.9" height="2.00" fill="url(#hg42)"/>
<rect x="254.8" y="119.4" width="10.6" height="2.00" fill="url(#hg43)"/>
<rect x="254.6" y="120.4" width="10.9" height="2.00" fill="url(#hg44)"/>
<rect x="255.2" y="121.4" width="9.7" height="2.00" fill="url(#hg45)"/>
<rect x="255.1" y="122.4" width="10.0" height="2.00" fill="url(#hg46)"/>
<rect x="254.9" y="123.4" width="10.5" height="2.00" fill="url(#hg46)"/>
<rect x="255.3" y="124.4" width="9.7" height="2.00" fill="url(#hg47)"/>
<rect x="231.3" y="20.4" width="57.20" height="105.00" fill="url(#tg231)" style="mix-blend-mode:multiply"/>
</g>
<rect x="231.3" y="20.4" width="57.20" height="105.00" fill="none" stroke="#8c8c8c" stroke-width="0.5"/>
<line x1="231.30" y1="20.70" x2="288.50" y2="20.70" stroke="#f87f2c" stroke-width="0.6" opacity="0.6"/>
<g clip-path="url(#clip295)">
<rect x="295.00" y="20.40" width="56.80" height="105.00" fill="#f3faf0" />
<rect x="299.3" y="20.4" width="48.7" height="2.00" fill="url(#hg48)"/>
<rect x="302.1" y="21.4" width="43.0" height="2.00" fill="url(#hg49)"/>
<rect x="300.8" y="22.4" width="45.6" height="2.00" fill="url(#hg50)"/>
<rect x="302.4" y="23.4" width="42.4" height="2.00" fill="url(#hg51)"/>
<rect x="302.1" y="24.4" width="43.0" height="2.00" fill="url(#hg52)"/>
<rect x="303.7" y="25.4" width="39.9" height="2.00" fill="url(#hg52)"/>
<rect x="303.5" y="26.4" width="40.1" height="2.00" fill="url(#hg53)"/>
<rect x="302.6" y="27.4" width="42.1" height="2.00" fill="url(#hg52)"/>
<rect x="304.1" y="28.4" width="39.0" height="2.00" fill="url(#hg51)"/>
<rect x="305.2" y="29.4" width="36.8" height="2.00" fill="url(#hg54)"/>
<rect x="306.2" y="30.4" width="34.9" height="2.00" fill="url(#hg55)"/>
<rect x="306.0" y="31.4" width="35.2" height="2.00" fill="url(#hg49)"/>
<rect x="305.2" y="32.4" width="36.8" height="2.00" fill="url(#hg56)"/>
<rect x="306.4" y="33.4" width="34.4" height="2.00" fill="url(#hg57)"/>
<rect x="307.9" y="34.4" width="31.4" height="2.00" fill="url(#hg55)"/>
<rect x="308.1" y="35.4" width="30.9" height="2.00" fill="url(#hg58)"/>
<rect x="307.0" y="36.4" width="33.3" height="2.00" fill="url(#hg59)"/>
<rect x="308.9" y="37.4" width="29.3" height="2.00" fill="url(#hg56)"/>
<rect x="308.3" y="38.4" width="30.6" height="2.00" fill="url(#hg49)"/>
<rect x="308.5" y="39.4" width="30.2" height="2.00" fill="url(#hg56)"/>
<rect x="309.1" y="40.4" width="29.0" height="2.00" fill="url(#hg56)"/>
<rect x="309.2" y="41.4" width="28.8" height="2.00" fill="url(#hg60)"/>
<rect x="310.9" y="42.4" width="25.3" height="2.00" fill="url(#hg57)"/>
<rect x="310.5" y="43.4" width="26.2" height="2.00" fill="url(#hg58)"/>
<rect x="311.2" y="44.4" width="24.9" height="2.00" fill="url(#hg60)"/>
<rect x="311.0" y="45.4" width="25.2" height="2.00" fill="url(#hg61)"/>
<rect x="311.5" y="46.4" width="24.1" height="2.00" fill="url(#hg61)"/>
<rect x="311.9" y="47.4" width="23.4" height="2.00" fill="url(#hg62)"/>
<rect x="312.9" y="48.4" width="21.5" height="2.00" fill="url(#hg55)"/>
<rect x="312.7" y="49.4" width="21.8" height="2.00" fill="url(#hg63)"/>
<rect x="313.6" y="50.4" width="20.0" height="2.00" fill="url(#hg61)"/>
<rect x="314.2" y="51.4" width="18.8" height="2.00" fill="url(#hg64)"/>
<rect x="314.8" y="52.4" width="17.7" height="2.00" fill="url(#hg63)"/>
<rect x="315.1" y="53.4" width="17.1" height="2.00" fill="url(#hg61)"/>
<rect x="315.4" y="54.4" width="16.4" height="2.00" fill="url(#hg61)"/>
<rect x="315.4" y="55.4" width="16.4" height="2.00" fill="url(#hg61)"/>
<rect x="316.0" y="56.4" width="15.2" height="2.00" fill="url(#hg64)"/>
<rect x="316.3" y="57.4" width="14.5" height="2.00" fill="url(#hg65)"/>
<rect x="317.0" y="58.4" width="13.2" height="2.00" fill="url(#hg66)"/>
<rect x="316.5" y="59.4" width="14.2" height="2.00" fill="url(#hg67)"/>
<rect x="317.3" y="60.4" width="12.7" height="2.00" fill="url(#hg67)"/>
<rect x="316.8" y="61.4" width="13.5" height="2.00" fill="url(#hg67)"/>
<rect x="317.4" y="62.4" width="12.5" height="2.00" fill="url(#hg67)"/>
<rect x="317.5" y="63.4" width="12.1" height="2.00" fill="url(#hg68)"/>
<rect x="317.5" y="64.4" width="12.2" height="2.00" fill="url(#hg69)"/>
<rect x="317.1" y="65.4" width="13.0" height="2.00" fill="url(#hg70)"/>
<rect x="317.5" y="66.4" width="12.2" height="2.00" fill="url(#hg71)"/>
<rect x="317.8" y="67.4" width="11.7" height="2.00" fill="url(#hg72)"/>
<rect x="317.4" y="68.4" width="12.4" height="2.00" fill="url(#hg73)"/>
<rect x="317.6" y="69.4" width="12.0" height="2.00" fill="url(#hg73)"/>
<rect x="318.0" y="70.4" width="11.3" height="2.00" fill="url(#hg74)"/>
<rect x="317.8" y="71.4" width="11.5" height="2.00" fill="url(#hg74)"/>
<rect x="317.8" y="72.4" width="11.7" height="2.00" fill="url(#hg75)"/>
<rect x="318.0" y="73.4" width="11.2" height="2.00" fill="url(#hg76)"/>
<rect x="318.5" y="74.4" width="10.3" height="2.00" fill="url(#hg77)"/>
<rect x="318.6" y="75.4" width="9.9" height="2.00" fill="url(#hg74)"/>
<rect x="318.4" y="76.4" width="10.3" height="2.00" fill="url(#hg78)"/>
<rect x="319.0" y="77.4" width="9.3" height="2.00" fill="url(#hg78)"/>
<rect x="319.0" y="78.4" width="9.2" height="2.00" fill="url(#hg79)"/>
<rect x="319.0" y="79.4" width="9.1" height="2.00" fill="url(#hg80)"/>
<rect x="319.0" y="80.4" width="9.3" height="2.00" fill="url(#hg81)"/>
<rect x="319.3" y="81.4" width="8.6" height="2.00" fill="url(#hg82)"/>
<rect x="319.4" y="82.4" width="8.5" height="2.00" fill="url(#hg83)"/>
<rect x="319.4" y="83.4" width="8.5" height="2.00" fill="url(#hg84)"/>
<rect x="319.5" y="84.4" width="8.2" height="2.00" fill="url(#hg85)"/>
<rect x="319.6" y="85.4" width="7.9" height="2.00" fill="url(#hg83)"/>
<rect x="320.0" y="86.4" width="7.2" height="2.00" fill="url(#hg86)"/>
<rect x="320.1" y="87.4" width="7.0" height="2.00" fill="url(#hg87)"/>
<rect x="320.2" y="88.4" width="6.9" height="2.00" fill="url(#hg88)"/>
<rect x="320.4" y="89.4" width="6.4" height="2.00" fill="url(#hg89)"/>
<rect x="320.4" y="90.4" width="6.5" height="2.00" fill="url(#hg90)"/>
<rect x="320.5" y="91.4" width="6.3" height="2.00" fill="url(#hg91)"/>
<rect x="320.4" y="92.4" width="6.3" height="2.00" fill="url(#hg91)"/>
<rect x="320.4" y="93.4" width="6.4" height="2.00" fill="url(#hg92)"/>
<rect x="320.3" y="94.4" width="6.5" height="2.00" fill="url(#hg93)"/>
<rect x="320.6" y="95.4" width="6.1" height="2.00" fill="url(#hg94)"/>
<rect x="320.5" y="96.4" width="6.1" height="2.00" fill="url(#hg95)"/>
<rect x="320.4" y="97.4" width="6.5" height="2.00" fill="url(#hg96)"/>
<rect x="320.3" y="98.4" width="6.7" height="2.00" fill="url(#hg95)"/>
<rect x="320.3" y="99.4" width="6.7" height="2.00" fill="url(#hg95)"/>
<rect x="320.5" y="100.4" width="6.2" height="2.00" fill="url(#hg97)"/>
<rect x="320.4" y="101.4" width="6.3" height="2.00" fill="url(#hg98)"/>
<rect x="320.4" y="102.4" width="6.4" height="2.00" fill="url(#hg98)"/>
<rect x="320.6" y="103.4" width="6.0" height="2.00" fill="url(#hg99)"/>
<rect x="320.5" y="104.4" width="6.2" height="2.00" fill="url(#hg100)"/>
<rect x="320.7" y="105.4" width="5.8" height="2.00" fill="url(#hg101)"/>
<rect x="320.7" y="106.4" width="5.8" height="2.00" fill="url(#hg101)"/>
<rect x="320.7" y="107.4" width="5.9" height="2.00" fill="url(#hg101)"/>
<rect x="320.7" y="108.4" width="5.8" height="2.00" fill="url(#hg102)"/>
<rect x="320.7" y="109.4" width="5.8" height="2.00" fill="url(#hg102)"/>
<rect x="320.6" y="110.4" width="5.9" height="2.00" fill="url(#hg102)"/>
<rect x="320.6" y="111.4" width="6.0" height="2.00" fill="url(#hg103)"/>
<rect x="320.5" y="112.4" width="6.2" height="2.00" fill="url(#hg104)"/>
<rect x="320.6" y="113.4" width="6.0" height="2.00" fill="url(#hg103)"/>
<rect x="320.7" y="114.4" width="5.8" height="2.00" fill="url(#hg104)"/>
<rect x="320.9" y="115.4" width="5.5" height="2.00" fill="url(#hg105)"/>
<rect x="320.7" y="116.4" width="5.8" height="2.00" fill="url(#hg105)"/>
<rect x="320.9" y="117.4" width="5.5" height="2.00" fill="url(#hg106)"/>
<rect x="320.8" y="118.4" width="5.6" height="2.00" fill="url(#hg106)"/>
<rect x="320.6" y="119.4" width="6.0" height="2.00" fill="url(#hg107)"/>
<rect x="320.8" y="120.4" width="5.5" height="2.00" fill="url(#hg107)"/>
<rect x="320.8" y="121.4" width="5.5" height="2.00" fill="url(#hg107)"/>
<rect x="320.7" y="122.4" width="5.7" height="2.00" fill="url(#hg108)"/>
<rect x="320.9" y="123.4" width="5.4" height="2.00" fill="url(#hg108)"/>
<rect x="320.8" y="124.4" width="5.6" height="2.00" fill="url(#hg108)"/>
<rect x="295.0" y="20.4" width="56.80" height="105.00" fill="url(#tg295)" style="mix-blend-mode:multiply"/>
</g>
<rect x="295.0" y="20.4" width="56.80" height="105.00" fill="none" stroke="#8c8c8c" stroke-width="0.5"/>
<line x1="295.00" y1="20.70" x2="351.80" y2="20.70" stroke="#60ba6c" stroke-width="0.6" opacity="0.6"/>
<g clip-path="url(#clip375)">
<rect x="375.20" y="21.10" width="57.50" height="104.50" fill="#f3faf0" />
<rect x="378.5" y="21.1" width="50.9" height="2.00" fill="url(#hg109)"/>
<rect x="378.9" y="22.1" width="50.0" height="2.00" fill="url(#hg110)"/>
<rect x="381.0" y="23.1" width="45.7" height="2.00" fill="url(#hg51)"/>
<rect x="379.4" y="24.1" width="49.0" height="2.00" fill="url(#hg57)"/>
<rect x="381.7" y="25.1" width="44.4" height="2.00" fill="url(#hg54)"/>
<rect x="381.6" y="26.1" width="44.6" height="2.00" fill="url(#hg50)"/>
<rect x="382.2" y="27.1" width="43.4" height="2.00" fill="url(#hg51)"/>
<rect x="383.6" y="28.1" width="40.6" height="2.00" fill="url(#hg110)"/>
<rect x="382.4" y="29.1" width="43.0" height="2.00" fill="url(#hg109)"/>
<rect x="383.3" y="30.1" width="41.2" height="2.00" fill="url(#hg53)"/>
<rect x="385.5" y="31.1" width="36.8" height="2.00" fill="url(#hg109)"/>
<rect x="384.9" y="32.1" width="38.1" height="2.00" fill="url(#hg109)"/>
<rect x="386.7" y="33.1" width="34.4" height="2.00" fill="url(#hg59)"/>
<rect x="386.3" y="34.1" width="35.2" height="2.00" fill="url(#hg109)"/>
<rect x="386.1" y="35.1" width="35.7" height="2.00" fill="url(#hg54)"/>
<rect x="386.6" y="36.1" width="34.6" height="2.00" fill="url(#hg49)"/>
<rect x="387.4" y="37.1" width="32.9" height="2.00" fill="url(#hg58)"/>
<rect x="387.8" y="38.1" width="32.2" height="2.00" fill="url(#hg58)"/>
<rect x="389.9" y="39.1" width="28.1" height="2.00" fill="url(#hg49)"/>
<rect x="390.0" y="40.1" width="27.7" height="2.00" fill="url(#hg61)"/>
<rect x="390.1" y="41.1" width="27.7" height="2.00" fill="url(#hg49)"/>
<rect x="390.7" y="42.1" width="26.5" height="2.00" fill="url(#hg58)"/>
<rect x="390.9" y="43.1" width="25.9" height="2.00" fill="url(#hg111)"/>
<rect x="391.0" y="44.1" width="25.8" height="2.00" fill="url(#hg61)"/>
<rect x="391.0" y="45.1" width="25.9" height="2.00" fill="url(#hg111)"/>
<rect x="391.3" y="46.1" width="25.1" height="2.00" fill="url(#hg55)"/>
<rect x="391.7" y="47.1" width="24.4" height="2.00" fill="url(#hg58)"/>
<rect x="393.2" y="48.1" width="21.4" height="2.00" fill="url(#hg111)"/>
<rect x="392.6" y="49.1" width="22.7" height="2.00" fill="url(#hg58)"/>
<rect x="393.5" y="50.1" width="20.8" height="2.00" fill="url(#hg58)"/>
<rect x="394.3" y="51.1" width="19.2" height="2.00" fill="url(#hg60)"/>
<rect x="394.3" y="52.1" width="19.2" height="2.00" fill="url(#hg111)"/>
<rect x="395.2" y="53.1" width="17.3" height="2.00" fill="url(#hg65)"/>
<rect x="394.7" y="54.1" width="18.5" height="2.00" fill="url(#hg60)"/>
<rect x="395.3" y="55.1" width="17.3" height="2.00" fill="url(#hg67)"/>
<rect x="396.3" y="56.1" width="15.2" height="2.00" fill="url(#hg65)"/>
<rect x="396.1" y="57.1" width="15.5" height="2.00" fill="url(#hg64)"/>
<rect x="397.2" y="58.1" width="13.5" height="2.00" fill="url(#hg61)"/>
<rect x="397.4" y="59.1" width="13.0" height="2.00" fill="url(#hg112)"/>
<rect x="397.2" y="60.1" width="13.4" height="2.00" fill="url(#hg62)"/>
<rect x="396.7" y="61.1" width="14.4" height="2.00" fill="url(#hg63)"/>
<rect x="396.7" y="62.1" width="14.4" height="2.00" fill="url(#hg64)"/>
<rect x="397.5" y="63.1" width="12.9" height="2.00" fill="url(#hg67)"/>
<rect x="397.5" y="64.1" width="12.8" height="2.00" fill="url(#hg64)"/>
<rect x="397.2" y="65.1" width="13.3" height="2.00" fill="url(#hg68)"/>
<rect x="397.5" y="66.1" width="12.9" height="2.00" fill="url(#hg64)"/>
<rect x="396.9" y="67.1" width="14.0" height="2.00" fill="url(#hg69)"/>
<rect x="396.9" y="68.1" width="14.1" height="2.00" fill="url(#hg68)"/>
<rect x="397.4" y="69.1" width="13.1" height="2.00" fill="url(#hg65)"/>
<rect x="397.3" y="70.1" width="13.3" height="2.00" fill="url(#hg66)"/>
<rect x="397.2" y="71.1" width="13.4" height="2.00" fill="url(#hg67)"/>
<rect x="397.2" y="72.1" width="13.4" height="2.00" fill="url(#hg66)"/>
<rect x="397.3" y="73.1" width="13.1" height="2.00" fill="url(#hg65)"/>
<rect x="397.2" y="74.1" width="13.4" height="2.00" fill="url(#hg113)"/>
<rect x="397.5" y="75.1" width="12.7" height="2.00" fill="url(#hg114)"/>
<rect x="397.4" y="76.1" width="13.0" height="2.00" fill="url(#hg64)"/>
<rect x="397.8" y="77.1" width="12.2" height="2.00" fill="url(#hg68)"/>
<rect x="397.4" y="78.1" width="13.0" height="2.00" fill="url(#hg69)"/>
<rect x="397.4" y="79.1" width="13.0" height="2.00" fill="url(#hg115)"/>
<rect x="397.8" y="80.1" width="12.1" height="2.00" fill="url(#hg113)"/>
<rect x="397.5" y="81.1" width="12.7" height="2.00" fill="url(#hg113)"/>
<rect x="397.7" y="82.1" width="12.5" height="2.00" fill="url(#hg113)"/>
<rect x="397.4" y="83.1" width="13.0" height="2.00" fill="url(#hg113)"/>
<rect x="397.9" y="84.1" width="12.0" height="2.00" fill="url(#hg70)"/>
<rect x="397.3" y="85.1" width="13.2" height="2.00" fill="url(#hg69)"/>
<rect x="397.7" y="86.1" width="12.3" height="2.00" fill="url(#hg70)"/>
<rect x="397.9" y="87.1" width="12.0" height="2.00" fill="url(#hg116)"/>
<rect x="397.9" y="88.1" width="11.9" height="2.00" fill="url(#hg70)"/>
<rect x="397.8" y="89.1" width="12.2" height="2.00" fill="url(#hg117)"/>
<rect x="398.0" y="90.1" width="11.8" height="2.00" fill="url(#hg71)"/>
<rect x="398.3" y="91.1" width="11.2" height="2.00" fill="url(#hg115)"/>
<rect x="397.8" y="92.1" width="12.1" height="2.00" fill="url(#hg71)"/>
<rect x="398.3" y="93.1" width="11.3" height="2.00" fill="url(#hg118)"/>
<rect x="398.3" y="94.1" width="11.2" height="2.00" fill="url(#hg117)"/>
<rect x="398.2" y="95.1" width="11.4" height="2.00" fill="url(#hg74)"/>
<rect x="398.5" y="96.1" width="10.8" height="2.00" fill="url(#hg119)"/>
<rect x="398.4" y="97.1" width="11.0" height="2.00" fill="url(#hg120)"/>
<rect x="398.4" y="98.1" width="11.1" height="2.00" fill="url(#hg119)"/>
<rect x="398.6" y="99.1" width="10.6" height="2.00" fill="url(#hg118)"/>
<rect x="398.3" y="100.1" width="11.1" height="2.00" fill="url(#hg76)"/>
<rect x="398.5" y="101.1" width="10.8" height="2.00" fill="url(#hg121)"/>
<rect x="398.8" y="102.1" width="10.2" height="2.00" fill="url(#hg77)"/>
<rect x="398.8" y="103.1" width="10.2" height="2.00" fill="url(#hg79)"/>
<rect x="398.4" y="104.1" width="10.9" height="2.00" fill="url(#hg75)"/>
<rect x="398.8" y="105.1" width="10.1" height="2.00" fill="url(#hg122)"/>
<rect x="398.7" y="106.1" width="10.5" height="2.00" fill="url(#hg78)"/>
<rect x="398.9" y="107.1" width="10.0" height="2.00" fill="url(#hg122)"/>
<rect x="399.0" y="108.1" width="9.8" height="2.00" fill="url(#hg82)"/>
<rect x="399.0" y="109.1" width="9.7" height="2.00" fill="url(#hg84)"/>
<rect x="399.0" y="110.1" width="9.8" height="2.00" fill="url(#hg123)"/>
<rect x="399.1" y="111.1" width="9.7" height="2.00" fill="url(#hg86)"/>
<rect x="399.3" y="112.1" width="9.3" height="2.00" fill="url(#hg124)"/>
<rect x="398.9" y="113.1" width="10.1" height="2.00" fill="url(#hg90)"/>
<rect x="398.9" y="114.1" width="10.0" height="2.00" fill="url(#hg89)"/>
<rect x="399.0" y="115.1" width="9.9" height="2.00" fill="url(#hg91)"/>
<rect x="399.4" y="116.1" width="8.9" height="2.00" fill="url(#hg91)"/>
<rect x="399.1" y="117.1" width="9.5" height="2.00" fill="url(#hg125)"/>
<rect x="399.4" y="118.1" width="9.1" height="2.00" fill="url(#hg126)"/>
<rect x="399.5" y="119.1" width="8.8" height="2.00" fill="url(#hg127)"/>
<rect x="399.7" y="120.1" width="8.4" height="2.00" fill="url(#hg96)"/>
<rect x="399.6" y="121.1" width="8.5" height="2.00" fill="url(#hg128)"/>
<rect x="399.8" y="122.1" width="8.1" height="2.00" fill="url(#hg129)"/>
<rect x="399.5" y="123.1" width="8.7" height="2.00" fill="url(#hg98)"/>
<rect x="399.5" y="124.1" width="8.8" height="2.00" fill="url(#hg130)"/>
<rect x="399.7" y="125.1" width="8.4" height="2.00" fill="url(#hg131)"/>
<rect x="375.2" y="21.1" width="57.50" height="104.50" fill="url(#tg375)" style="mix-blend-mode:multiply"/>
</g>
<rect x="375.2" y="21.1" width="57.50" height="104.50" fill="none" stroke="#8c8c8c" stroke-width="0.5"/>
<line x1="375.20" y1="21.40" x2="432.70" y2="21.40" stroke="#60ba6c" stroke-width="0.6" opacity="0.6"/>
<g clip-path="url(#clip438)">
<rect x="438.80" y="21.10" width="57.00" height="104.50" fill="#fff2e5" />
<rect x="454.6" y="21.1" width="25.7" height="2.00" fill="url(#hg132)"/>
<rect x="454.7" y="22.1" width="25.4" height="2.00" fill="url(#hg0)"/>
<rect x="454.6" y="23.1" width="25.7" height="2.00" fill="url(#hg133)"/>
<rect x="454.2" y="24.1" width="26.4" height="2.00" fill="url(#hg0)"/>
<rect x="455.3" y="25.1" width="24.1" height="2.00" fill="url(#hg3)"/>
<rect x="455.5" y="26.1" width="23.8" height="2.00" fill="url(#hg134)"/>
<rect x="456.0" y="27.1" width="22.8" height="2.00" fill="url(#hg7)"/>
<rect x="455.1" y="28.1" width="24.7" height="2.00" fill="url(#hg7)"/>
<rect x="455.5" y="29.1" width="23.8" height="2.00" fill="url(#hg9)"/>
<rect x="456.6" y="30.1" width="21.7" height="2.00" fill="url(#hg134)"/>
<rect x="456.2" y="31.1" width="22.3" height="2.00" fill="url(#hg12)"/>
<rect x="456.2" y="32.1" width="22.4" height="2.00" fill="url(#hg6)"/>
<rect x="457.4" y="33.1" width="20.0" height="2.00" fill="url(#hg6)"/>
<rect x="456.9" y="34.1" width="20.9" height="2.00" fill="url(#hg12)"/>
<rect x="457.8" y="35.1" width="19.2" height="2.00" fill="url(#hg10)"/>
<rect x="458.1" y="36.1" width="18.6" height="2.00" fill="url(#hg8)"/>
<rect x="457.5" y="37.1" width="19.9" height="2.00" fill="url(#hg7)"/>
<rect x="458.4" y="38.1" width="18.1" height="2.00" fill="url(#hg13)"/>
<rect x="458.3" y="39.1" width="18.2" height="2.00" fill="url(#hg10)"/>
<rect x="458.2" y="40.1" width="18.4" height="2.00" fill="url(#hg10)"/>
<rect x="458.8" y="41.1" width="17.2" height="2.00" fill="url(#hg15)"/>
<rect x="459.0" y="42.1" width="16.8" height="2.00" fill="url(#hg11)"/>
<rect x="459.3" y="43.1" width="16.2" height="2.00" fill="url(#hg16)"/>
<rect x="459.7" y="44.1" width="15.4" height="2.00" fill="url(#hg13)"/>
<rect x="459.3" y="45.1" width="16.1" height="2.00" fill="url(#hg135)"/>
<rect x="459.6" y="46.1" width="15.6" height="2.00" fill="url(#hg16)"/>
<rect x="460.0" y="47.1" width="14.9" height="2.00" fill="url(#hg17)"/>
<rect x="460.3" y="48.1" width="14.3" height="2.00" fill="url(#hg13)"/>
<rect x="460.4" y="49.1" width="13.9" height="2.00" fill="url(#hg16)"/>
<rect x="460.5" y="50.1" width="13.7" height="2.00" fill="url(#hg14)"/>
<rect x="460.3" y="51.1" width="14.2" height="2.00" fill="url(#hg18)"/>
<rect x="460.7" y="52.1" width="13.5" height="2.00" fill="url(#hg18)"/>
<rect x="461.2" y="53.1" width="12.4" height="2.00" fill="url(#hg15)"/>
<rect x="461.3" y="54.1" width="12.3" height="2.00" fill="url(#hg19)"/>
<rect x="461.2" y="55.1" width="12.5" height="2.00" fill="url(#hg17)"/>
<rect x="461.5" y="56.1" width="11.7" height="2.00" fill="url(#hg21)"/>
<rect x="461.6" y="57.1" width="11.5" height="2.00" fill="url(#hg19)"/>
<rect x="461.7" y="58.1" width="11.5" height="2.00" fill="url(#hg20)"/>
<rect x="461.6" y="59.1" width="11.6" height="2.00" fill="url(#hg17)"/>
<rect x="461.6" y="60.1" width="11.6" height="2.00" fill="url(#hg18)"/>
<rect x="462.0" y="61.1" width="10.7" height="2.00" fill="url(#hg22)"/>
<rect x="461.7" y="62.1" width="11.4" height="2.00" fill="url(#hg17)"/>
<rect x="461.6" y="63.1" width="11.6" height="2.00" fill="url(#hg19)"/>
<rect x="461.7" y="64.1" width="11.4" height="2.00" fill="url(#hg21)"/>
<rect x="462.1" y="65.1" width="10.6" height="2.00" fill="url(#hg20)"/>
<rect x="462.1" y="66.1" width="10.5" height="2.00" fill="url(#hg19)"/>
<rect x="461.6" y="67.1" width="11.6" height="2.00" fill="url(#hg20)"/>
<rect x="462.2" y="68.1" width="10.4" height="2.00" fill="url(#hg22)"/>
<rect x="462.1" y="69.1" width="10.6" height="2.00" fill="url(#hg24)"/>
<rect x="462.0" y="70.1" width="10.8" height="2.00" fill="url(#hg21)"/>
<rect x="462.2" y="71.1" width="10.5" height="2.00" fill="url(#hg23)"/>
<rect x="462.0" y="72.1" width="10.9" height="2.00" fill="url(#hg135)"/>
<rect x="462.2" y="73.1" width="10.4" height="2.00" fill="url(#hg24)"/>
<rect x="462.1" y="74.1" width="10.6" height="2.00" fill="url(#hg29)"/>
<rect x="462.1" y="75.1" width="10.5" height="2.00" fill="url(#hg20)"/>
<rect x="461.9" y="76.1" width="11.0" height="2.00" fill="url(#hg29)"/>
<rect x="461.6" y="77.1" width="11.7" height="2.00" fill="url(#hg27)"/>
<rect x="461.9" y="78.1" width="11.0" height="2.00" fill="url(#hg29)"/>
<rect x="462.0" y="79.1" width="10.9" height="2.00" fill="url(#hg22)"/>
<rect x="461.9" y="80.1" width="11.0" height="2.00" fill="url(#hg19)"/>
<rect x="462.0" y="81.1" width="10.9" height="2.00" fill="url(#hg29)"/>
<rect x="462.0" y="82.1" width="10.9" height="2.00" fill="url(#hg26)"/>
<rect x="461.6" y="83.1" width="11.5" height="2.00" fill="url(#hg25)"/>
<rect x="461.9" y="84.1" width="11.0" height="2.00" fill="url(#hg23)"/>
<rect x="462.1" y="85.1" width="10.7" height="2.00" fill="url(#hg28)"/>
<rect x="462.1" y="86.1" width="10.6" height="2.00" fill="url(#hg25)"/>
<rect x="461.7" y="87.1" width="11.5" height="2.00" fill="url(#hg26)"/>
<rect x="462.2" y="88.1" width="10.4" height="2.00" fill="url(#hg28)"/>
<rect x="461.9" y="89.1" width="11.1" height="2.00" fill="url(#hg23)"/>
<rect x="462.0" y="90.1" width="10.9" height="2.00" fill="url(#hg23)"/>
<rect x="461.8" y="91.1" width="11.2" height="2.00" fill="url(#hg24)"/>
<rect x="461.8" y="92.1" width="11.3" height="2.00" fill="url(#hg29)"/>
<rect x="462.2" y="93.1" width="10.4" height="2.00" fill="url(#hg28)"/>
<rect x="461.7" y="94.1" width="11.4" height="2.00" fill="url(#hg31)"/>
<rect x="461.7" y="95.1" width="11.4" height="2.00" fill="url(#hg26)"/>
<rect x="461.9" y="96.1" width="11.0" height="2.00" fill="url(#hg136)"/>
<rect x="461.9" y="97.1" width="11.0" height="2.00" fill="url(#hg30)"/>
<rect x="462.0" y="98.1" width="10.8" height="2.00" fill="url(#hg31)"/>
<rect x="461.9" y="99.1" width="11.0" height="2.00" fill="url(#hg35)"/>
<rect x="461.8" y="100.1" width="11.3" height="2.00" fill="url(#hg137)"/>
<rect x="462.3" y="101.1" width="10.1" height="2.00" fill="url(#hg35)"/>
<rect x="461.8" y="102.1" width="11.2" height="2.00" fill="url(#hg32)"/>
<rect x="462.4" y="103.1" width="10.0" height="2.00" fill="url(#hg36)"/>
<rect x="462.3" y="104.1" width="10.1" height="2.00" fill="url(#hg137)"/>
<rect x="462.0" y="105.1" width="10.8" height="2.00" fill="url(#hg36)"/>
<rect x="462.3" y="106.1" width="10.1" height="2.00" fill="url(#hg38)"/>
<rect x="462.1" y="107.1" width="10.6" height="2.00" fill="url(#hg138)"/>
<rect x="461.9" y="108.1" width="11.0" height="2.00" fill="url(#hg138)"/>
<rect x="462.5" y="109.1" width="9.8" height="2.00" fill="url(#hg139)"/>
<rect x="462.5" y="110.1" width="9.8" height="2.00" fill="url(#hg140)"/>
<rect x="462.5" y="111.1" width="9.9" height="2.00" fill="url(#hg141)"/>
<rect x="462.1" y="112.1" width="10.7" height="2.00" fill="url(#hg139)"/>
<rect x="462.2" y="113.1" width="10.4" height="2.00" fill="url(#hg39)"/>
<rect x="462.5" y="114.1" width="9.9" height="2.00" fill="url(#hg40)"/>
<rect x="462.4" y="115.1" width="10.0" height="2.00" fill="url(#hg142)"/>
<rect x="462.1" y="116.1" width="10.5" height="2.00" fill="url(#hg142)"/>
<rect x="462.3" y="117.1" width="10.2" height="2.00" fill="url(#hg45)"/>
<rect x="462.6" y="118.1" width="9.6" height="2.00" fill="url(#hg143)"/>
<rect x="462.4" y="119.1" width="10.1" height="2.00" fill="url(#hg144)"/>
<rect x="462.3" y="120.1" width="10.2" height="2.00" fill="url(#hg143)"/>
<rect x="462.5" y="121.1" width="9.9" height="2.00" fill="url(#hg145)"/>
<rect x="462.4" y="122.1" width="10.0" height="2.00" fill="url(#hg145)"/>
<rect x="462.2" y="123.1" width="10.4" height="2.00" fill="url(#hg146)"/>
<rect x="462.7" y="124.1" width="9.5" height="2.00" fill="url(#hg146)"/>
<rect x="462.5" y="125.1" width="9.8" height="2.00" fill="url(#hg147)"/>
<rect x="438.8" y="21.1" width="57.00" height="104.50" fill="url(#tg438)" style="mix-blend-mode:multiply"/>
</g>
<rect x="438.8" y="21.1" width="57.00" height="104.50" fill="none" stroke="#8c8c8c" stroke-width="0.5"/>
<line x1="438.80" y1="21.40" x2="495.80" y2="21.40" stroke="#f87f2c" stroke-width="0.6" opacity="0.6"/>
<line x1="231.30" y1="125.40" x2="231.30" y2="127.20" stroke="#666" stroke-width="0.5" />
<line x1="259.90" y1="125.40" x2="259.90" y2="127.20" stroke="#666" stroke-width="0.5" />
<line x1="288.50" y1="125.40" x2="288.50" y2="127.20" stroke="#666" stroke-width="0.5" />
<line x1="295.00" y1="125.40" x2="295.00" y2="127.20" stroke="#666" stroke-width="0.5" />
<line x1="323.40" y1="125.40" x2="323.40" y2="127.20" stroke="#666" stroke-width="0.5" />
<line x1="351.80" y1="125.40" x2="351.80" y2="127.20" stroke="#666" stroke-width="0.5" />
<line x1="375.20" y1="125.60" x2="375.20" y2="127.40" stroke="#666" stroke-width="0.5" />
<line x1="403.95" y1="125.60" x2="403.95" y2="127.40" stroke="#666" stroke-width="0.5" />
<line x1="432.70" y1="125.60" x2="432.70" y2="127.40" stroke="#666" stroke-width="0.5" />
<line x1="438.80" y1="125.60" x2="438.80" y2="127.40" stroke="#666" stroke-width="0.5" />
<line x1="467.30" y1="125.60" x2="467.30" y2="127.40" stroke="#666" stroke-width="0.5" />
<line x1="495.80" y1="125.60" x2="495.80" y2="127.40" stroke="#666" stroke-width="0.5" />
<text x="231.00" y="134.30" font-size="7.2" fill="#222" stroke="#222" stroke-width="0.22" >-2.5</text>
<text x="251.80" y="134.30" font-size="7.2" fill="#222" stroke="#222" stroke-width="0.22" textLength="40.8" lengthAdjust="spacingAndGlyphs" >Center 2.5Kb</text>
<text x="293.60" y="134.30" font-size="7.2" fill="#222" stroke="#222" stroke-width="0.22" >-2.5</text>
<text x="315.50" y="134.30" font-size="7.2" fill="#222" stroke="#222" stroke-width="0.22" textLength="40.8" lengthAdjust="spacingAndGlyphs" >Center 2.5Kb</text>
<text x="374.60" y="134.40" font-size="7.2" fill="#222" stroke="#222" stroke-width="0.22" >-2.5</text>
<text x="395.60" y="134.40" font-size="7.2" fill="#222" stroke="#222" stroke-width="0.22" textLength="40.6" lengthAdjust="spacingAndGlyphs" >Center 2.5Kb</text>
<text x="437.20" y="134.40" font-size="7.2" fill="#222" stroke="#222" stroke-width="0.22" >-2.5</text>
<text x="459.20" y="134.40" font-size="7.2" fill="#222" stroke="#222" stroke-width="0.22" textLength="40.6" lengthAdjust="spacingAndGlyphs" >Center 2.5Kb</text>
<text x="231.00" y="17.80" font-size="8.2" fill="#222" stroke="#222" stroke-width="0.22" textLength="57.4" lengthAdjust="spacingAndGlyphs" >CHAMP1 peaks</text>
<path d="M288.9,15.0 L294.5,15.0" stroke="#111" stroke-width="0.8"/><path d="M299.0,15.0 L293.2,13.1 L294.3,15.0 L293.2,16.9Z" fill="#111"/>
<text x="301.60" y="17.80" font-size="8.2" fill="#222" stroke="#222" stroke-width="0.22" textLength="50.3" lengthAdjust="spacingAndGlyphs" >MyoD binding</text>
<text x="378.60" y="18.20" font-size="8.2" fill="#222" stroke="#222" stroke-width="0.22" textLength="46.0" lengthAdjust="spacingAndGlyphs" >MyoD peaks</text>
<path d="M426.9,15.3 L432.5,15.3" stroke="#111" stroke-width="0.8"/><path d="M436.8,15.3 L431.2,13.4 L432.3,15.3 L431.2,17.2Z" fill="#111"/>
<text x="439.00" y="18.20" font-size="8.2" fill="#222" stroke="#222" stroke-width="0.22" textLength="62.8" lengthAdjust="spacingAndGlyphs" >CHAMP1 binding</text>
<text transform="translate(228.30,71.00) rotate(-90)" x="0" y="0" font-size="8.2" fill="#222" stroke="#222" stroke-width="0.22" text-anchor="middle" textLength="48.3" lengthAdjust="spacingAndGlyphs">33,324 peaks</text>
<text transform="translate(372.00,71.20) rotate(-90)" x="0" y="0" font-size="8.2" fill="#222" stroke="#222" stroke-width="0.22" text-anchor="middle" textLength="48.3" lengthAdjust="spacingAndGlyphs">57,069 peaks</text>
<rect x="231.40" y="138.00" width="56.60" height="4.90" fill="url(#cbO)" stroke="#8c8c8c" stroke-width="0.5"/>
<line x1="231.90" y1="142.90" x2="231.90" y2="144.70" stroke="#666" stroke-width="0.5" />
<text x="233.70" y="154.20" font-size="8.4" fill="#222" stroke="#222" stroke-width="0.22" text-anchor="middle" >0</text>
<line x1="256.40" y1="142.90" x2="256.40" y2="144.70" stroke="#666" stroke-width="0.5" />
<text x="257.80" y="154.20" font-size="8.4" fill="#222" stroke="#222" stroke-width="0.22" text-anchor="middle" >80</text>
<line x1="281.80" y1="142.90" x2="281.80" y2="144.70" stroke="#666" stroke-width="0.5" />
<text x="283.20" y="154.20" font-size="8.4" fill="#222" stroke="#222" stroke-width="0.22" text-anchor="middle" >160</text>
<rect x="295.00" y="138.00" width="56.60" height="4.90" fill="url(#cbG)" stroke="#8c8c8c" stroke-width="0.5"/>
<line x1="295.20" y1="142.90" x2="295.20" y2="144.70" stroke="#666" stroke-width="0.5" />
<text x="296.60" y="154.20" font-size="8.4" fill="#222" stroke="#222" stroke-width="0.22" text-anchor="middle" >0</text>
<line x1="319.60" y1="142.90" x2="319.60" y2="144.70" stroke="#666" stroke-width="0.5" />
<text x="320.90" y="154.20" font-size="8.4" fill="#222" stroke="#222" stroke-width="0.22" text-anchor="middle" >80</text>
<line x1="345.00" y1="142.90" x2="345.00" y2="144.70" stroke="#666" stroke-width="0.5" />
<text x="345.60" y="154.20" font-size="8.4" fill="#222" stroke="#222" stroke-width="0.22" text-anchor="middle" >160</text>
<rect x="375.30" y="138.20" width="56.90" height="5.20" fill="url(#cbG)" stroke="#8c8c8c" stroke-width="0.5"/>
<line x1="375.50" y1="143.40" x2="375.50" y2="145.20" stroke="#666" stroke-width="0.5" />
<text x="377.40" y="154.70" font-size="8.4" fill="#222" stroke="#222" stroke-width="0.22" text-anchor="middle" >0</text>
<line x1="395.70" y1="143.40" x2="395.70" y2="145.20" stroke="#666" stroke-width="0.5" />
<text x="397.30" y="154.70" font-size="8.4" fill="#222" stroke="#222" stroke-width="0.22" text-anchor="middle" >50</text>
<line x1="416.00" y1="143.40" x2="416.00" y2="145.20" stroke="#666" stroke-width="0.5" />
<text x="418.50" y="154.70" font-size="8.4" fill="#222" stroke="#222" stroke-width="0.22" text-anchor="middle" >100</text>
<rect x="438.70" y="138.20" width="56.90" height="5.20" fill="url(#cbO)" stroke="#8c8c8c" stroke-width="0.5"/>
<line x1="439.00" y1="143.40" x2="439.00" y2="145.20" stroke="#666" stroke-width="0.5" />
<text x="441.20" y="154.70" font-size="8.4" fill="#222" stroke="#222" stroke-width="0.22" text-anchor="middle" >0</text>
<line x1="459.20" y1="143.40" x2="459.20" y2="145.20" stroke="#666" stroke-width="0.5" />
<text x="460.60" y="154.70" font-size="8.4" fill="#222" stroke="#222" stroke-width="0.22" text-anchor="middle" >50</text>
<line x1="479.60" y1="143.40" x2="479.60" y2="145.20" stroke="#666" stroke-width="0.5" />
<text x="482.00" y="154.70" font-size="8.4" fill="#222" stroke="#222" stroke-width="0.22" text-anchor="middle" >100</text>
<line x1="500.30" y1="22.60" x2="500.30" y2="125.20" stroke="#b0b0b0" stroke-width="0.6" />
<circle cx="273.25" cy="231.05" r="36.15" fill="#f3c2a2"/>
<circle cx="300.2" cy="231.0" r="47.3" fill="#86df8e"/>
<circle cx="300.2" cy="231.0" r="47.3" fill="#e09ad8" clip-path="url(#clipO)"/>
<text x="245.40" y="232.50" font-size="6.8" fill="#111" stroke="#111" stroke-width="0.05" text-anchor="middle" >9,193</text>
<text x="281.30" y="232.40" font-size="7.8" fill="#111" stroke="#111" stroke-width="0.08" text-anchor="middle" >24,218</text>
<text x="325.50" y="232.40" font-size="7.8" fill="#111" stroke="#111" stroke-width="0.08" text-anchor="middle" >33,076</text>
<text x="243.20" y="183.90" font-size="9.3" fill="#f39a4c" stroke="#f39a4c" stroke-width="0.22" text-anchor="middle" >CHAMP1</text>
<text x="243.20" y="194.20" font-size="9.3" fill="#f39a4c" stroke="#f39a4c" stroke-width="0.22" text-anchor="middle" >unique peaks</text>
<text x="301.60" y="170.70" font-size="9.3" fill="#4cbd55" stroke="#4cbd55" stroke-width="0.22" text-anchor="middle" >MyoD</text>
<text x="301.20" y="180.90" font-size="9.3" fill="#4cbd55" stroke="#4cbd55" stroke-width="0.22" text-anchor="middle" >unique peaks</text>
<text x="248.70" y="283.20" font-size="9.3" fill="#ff22ff" stroke="#ff22ff" stroke-width="0.22" text-anchor="middle" >CHAMP1&#8211;MyoD</text>
<text x="249.00" y="292.80" font-size="9.3" fill="#ff22ff" stroke="#ff22ff" stroke-width="0.22" text-anchor="middle" >cooccupied peaks</text>
<text x="364.60" y="180.60" font-size="8.6" fill="#111" stroke="#111" stroke-width="0.22" textLength="136.6" lengthAdjust="spacingAndGlyphs" >Highest ranking motif for <tspan font-weight="bold">CHAMP1</tspan></text>
<text x="370.30" y="240.70" font-size="8.6" fill="#111" stroke="#111" stroke-width="0.22" textLength="123.8" lengthAdjust="spacingAndGlyphs" >Highest ranking motif for <tspan font-weight="bold">MyoD</tspan></text>
<text x="430.00" y="221.30" font-size="8.2" fill="#111" stroke="#111" stroke-width="0.22" text-anchor="middle" >p value: 1e&#8211;811</text>
<text x="431.90" y="278.20" font-size="8.2" fill="#111" stroke="#111" stroke-width="0.22" text-anchor="middle" >p value:1e&#8211;4347</text>
<text transform="translate(383.797,207.291) scale(0.17130,0.31638)" x="0" y="0" font-size="100" font-weight="bold" fill="#1010f0">C</text>
<text transform="translate(395.492,205.900) scale(0.16396,0.30088)" x="0" y="0" font-size="100" font-weight="bold" fill="#12b312">A</text>
<text transform="translate(395.210,206.788) scale(0.16824,0.01271)" x="0" y="0" font-size="100" font-weight="bold" fill="#1010f0">C</text>
<text transform="translate(395.231,207.392) scale(0.16301,0.00847)" x="0" y="0" font-size="100" font-weight="bold" fill="#ffa500">G</text>
<text transform="translate(406.419,206.601) scale(0.16597,0.30649)" x="0" y="0" font-size="100" font-weight="bold" fill="#ffa500">G</text>
<text transform="translate(406.684,207.500) scale(0.16694,0.00872)" x="0" y="0" font-size="100" font-weight="bold" fill="#12b312">A</text>
<text transform="translate(417.810,206.897) scale(0.16824,0.31073)" x="0" y="0" font-size="100" font-weight="bold" fill="#1010f0">C</text>
<text transform="translate(429.481,207.200) scale(0.19529,0.31977)" x="0" y="0" font-size="100" font-weight="bold" fill="#e00000">T</text>
<text transform="translate(440.701,207.291) scale(0.17042,0.31638)" x="0" y="0" font-size="100" font-weight="bold" fill="#ffa500">G</text>
<text transform="translate(452.890,200.200) scale(0.18680,0.21803)" x="0" y="0" font-size="100" font-weight="bold" fill="#e00000">T</text>
<text transform="translate(452.410,205.328) scale(0.16824,0.07345)" x="0" y="0" font-size="100" font-weight="bold" fill="#1010f0">C</text>
<text transform="translate(452.431,206.583) scale(0.16301,0.01695)" x="0" y="0" font-size="100" font-weight="bold" fill="#ffa500">G</text>
<text transform="translate(452.692,207.400) scale(0.16396,0.01163)" x="0" y="0" font-size="100" font-weight="bold" fill="#12b312">A</text>
<text transform="translate(464.086,200.200) scale(0.19020,0.21803)" x="0" y="0" font-size="100" font-weight="bold" fill="#e00000">T</text>
<text transform="translate(463.597,205.328) scale(0.17130,0.07345)" x="0" y="0" font-size="100" font-weight="bold" fill="#1010f0">C</text>
<text transform="translate(463.619,206.583) scale(0.16597,0.01695)" x="0" y="0" font-size="100" font-weight="bold" fill="#ffa500">G</text>
<text transform="translate(463.884,207.400) scale(0.16694,0.01163)" x="0" y="0" font-size="100" font-weight="bold" fill="#12b312">A</text>
<text transform="translate(383.792,260.200) scale(0.16396,0.22239)" x="0" y="0" font-size="100" font-weight="bold" fill="#12b312">A</text>
<text transform="translate(383.531,264.145) scale(0.16301,0.05650)" x="0" y="0" font-size="100" font-weight="bold" fill="#ffa500">G</text>
<text transform="translate(383.510,265.975) scale(0.16824,0.02542)" x="0" y="0" font-size="100" font-weight="bold" fill="#1010f0">C</text>
<text transform="translate(394.973,260.200) scale(0.17141,0.22239)" x="0" y="0" font-size="100" font-weight="bold" fill="#12b312">A</text>
<text transform="translate(394.701,264.145) scale(0.17042,0.05650)" x="0" y="0" font-size="100" font-weight="bold" fill="#ffa500">G</text>
<text transform="translate(394.679,265.975) scale(0.17589,0.02542)" x="0" y="0" font-size="100" font-weight="bold" fill="#1010f0">C</text>
<text transform="translate(406.410,266.498) scale(0.16824,0.30932)" x="0" y="0" font-size="100" font-weight="bold" fill="#1010f0">C</text>
<text transform="translate(417.884,266.600) scale(0.16694,0.31541)" x="0" y="0" font-size="100" font-weight="bold" fill="#12b312">A</text>
<text transform="translate(429.001,266.695) scale(0.17042,0.31214)" x="0" y="0" font-size="100" font-weight="bold" fill="#ffa500">G</text>
<text transform="translate(440.679,265.019) scale(0.17589,0.28813)" x="0" y="0" font-size="100" font-weight="bold" fill="#1010f0">C</text>
<text transform="translate(440.701,266.188) scale(0.17042,0.01271)" x="0" y="0" font-size="100" font-weight="bold" fill="#ffa500">G</text>
<text transform="translate(440.973,266.900) scale(0.17141,0.01017)" x="0" y="0" font-size="100" font-weight="bold" fill="#12b312">A</text>
<text transform="translate(452.886,266.600) scale(0.19020,0.31541)" x="0" y="0" font-size="100" font-weight="bold" fill="#e00000">T</text>
<text transform="translate(463.831,266.695) scale(0.16301,0.31214)" x="0" y="0" font-size="100" font-weight="bold" fill="#ffa500">G</text>
<rect x="530.00" y="27.10" width="134.00" height="158.60" fill="#bdbdbd" />
<rect x="530.00" y="27.10" width="43.95" height="38.75" fill="#000" />
<rect x="575.05" y="27.10" width="43.90" height="38.75" fill="#000" />
<rect x="620.05" y="27.10" width="43.95" height="38.75" fill="#000" />
<rect x="530.00" y="66.95" width="43.95" height="38.80" fill="#000" />
<rect x="575.05" y="66.95" width="43.90" height="38.80" fill="#000" />
<rect x="620.05" y="66.95" width="43.95" height="38.80" fill="#000" />
<rect x="530.00" y="106.85" width="43.95" height="38.80" fill="#000" />
<rect x="575.05" y="106.85" width="43.90" height="38.80" fill="#000" />
<rect x="620.05" y="106.85" width="43.95" height="38.80" fill="#000" />
<rect x="530.00" y="146.75" width="43.95" height="38.95" fill="#000" />
<rect x="575.05" y="146.75" width="43.90" height="38.95" fill="#000" />
<rect x="620.05" y="146.75" width="43.95" height="38.95" fill="#000" />
<g><ellipse cx="551.5" cy="46.20" rx="18.7" ry="12.3" transform="rotate(-14 551.5 46.20)" fill="url(#chG)" filter="url(#spG)"/>
<ellipse cx="552.0" cy="42.30" rx="3.00" ry="2.38" fill="#002800" filter="url(#bl3)" opacity="0.75"/>
</g>
<g><ellipse cx="597.8" cy="46.80" rx="17.3" ry="14.8" transform="rotate(24 597.8 46.80)" fill="url(#chG)" filter="url(#spG)"/>
<ellipse cx="592.5" cy="40.50" rx="3.12" ry="2.47" fill="#002800" filter="url(#bl3)" opacity="0.75"/>
</g>
<g><ellipse cx="551.5" cy="86.05" rx="18.7" ry="12.3" transform="rotate(-14 551.5 86.05)" fill="url(#chR)" filter="url(#spR)"/>
<ellipse cx="552.0" cy="82.15" rx="3.00" ry="2.38" fill="#100000" filter="url(#bl3)" opacity="0.75"/>
</g>
<g><ellipse cx="642.6" cy="86.65" rx="17.4" ry="11.5" transform="rotate(-8 642.6 86.65)" fill="url(#chR)" filter="url(#spR)"/>
<ellipse cx="639.8" cy="89.35" rx="2.64" ry="2.09" fill="#100000" filter="url(#bl3)" opacity="0.75"/>
</g>
<g><ellipse cx="551.5" cy="125.95" rx="18.7" ry="12.3" transform="rotate(-14 551.5 125.95)" fill="url(#chB)" filter="url(#spB)"/>
</g>
<g><ellipse cx="597.8" cy="126.55" rx="17.3" ry="14.8" transform="rotate(24 597.8 126.55)" fill="url(#chB)" filter="url(#spB)"/>
</g>
<g><ellipse cx="642.6" cy="126.55" rx="17.4" ry="11.5" transform="rotate(-8 642.6 126.55)" fill="url(#chB)" filter="url(#spB)"/>
</g>
<g style="isolation:isolate">
<g><ellipse cx="551.5" cy="165.90" rx="18.7" ry="12.3" transform="rotate(-14 551.5 165.90)" fill="url(#chB)" filter="url(#spB)"/>
</g>
<g style="mix-blend-mode:screen"><ellipse cx="551.5" cy="165.90" rx="18.7" ry="12.3" transform="rotate(-14 551.5 165.90)" fill="url(#chG)" filter="url(#spG)"/>
<ellipse cx="552.0" cy="162.00" rx="3.00" ry="2.38" fill="#002800" filter="url(#bl3)" opacity="0.75"/>
</g>
<g style="mix-blend-mode:screen"><ellipse cx="551.5" cy="165.90" rx="18.7" ry="12.3" transform="rotate(-14 551.5 165.90)" fill="url(#chR)" filter="url(#spR)"/>
<ellipse cx="552.0" cy="162.00" rx="3.00" ry="2.38" fill="#100000" filter="url(#bl3)" opacity="0.75"/>
</g>
<g><ellipse cx="597.8" cy="166.50" rx="17.3" ry="14.8" transform="rotate(24 597.8 166.50)" fill="url(#chB)" filter="url(#spB)"/>
</g>
<g style="mix-blend-mode:screen"><ellipse cx="597.8" cy="166.50" rx="17.3" ry="14.8" transform="rotate(24 597.8 166.50)" fill="url(#chG)" filter="url(#spG)"/>
<ellipse cx="592.5" cy="160.20" rx="3.12" ry="2.47" fill="#002800" filter="url(#bl3)" opacity="0.75"/>
</g>
<g><ellipse cx="642.6" cy="166.50" rx="17.4" ry="11.5" transform="rotate(-8 642.6 166.50)" fill="url(#chB)" filter="url(#spB)"/>
</g>
<g style="mix-blend-mode:screen"><ellipse cx="642.6" cy="166.50" rx="17.4" ry="11.5" transform="rotate(-8 642.6 166.50)" fill="url(#chR)" filter="url(#spR)"/>
<ellipse cx="639.8" cy="169.20" rx="2.64" ry="2.09" fill="#100000" filter="url(#bl3)" opacity="0.75"/>
</g>
</g>
<line x1="646.90" y1="181.40" x2="658.40" y2="181.40" stroke="#c8c8c8" stroke-width="1.1" />
<text x="542.60" y="15.60" font-size="8.1" fill="#111" stroke="#111" stroke-width="0.22" textLength="106.2" lengthAdjust="spacingAndGlyphs" >MyoD &amp; CHAMP1 co-staining</text>
<line x1="529.60" y1="17.50" x2="664.60" y2="17.50" stroke="#666" stroke-width="0.6" />
<text x="550.70" y="25.70" font-size="8.1" fill="#111" stroke="#111" stroke-width="0.22" text-anchor="middle" >Wildtype</text>
<text x="596.60" y="25.70" font-size="8.1" fill="#111" stroke="#111" stroke-width="0.22" text-anchor="middle" >CHAMP1<tspan font-size="3.7" dy="-3.0" stroke-width="0.1">&#916;</tspan></text>
<text x="639.60" y="25.70" font-size="8.1" fill="#111" stroke="#111" stroke-width="0.22" text-anchor="middle" >MyoD<tspan font-size="3.7" dy="-3.0" stroke-width="0.1">&#916;</tspan></text>
<text transform="translate(527.00,46.60) rotate(-90)" x="0" y="0" font-size="8.1" fill="#2fb84a" stroke="#2fb84a" stroke-width="0.22" text-anchor="middle">MyoD</text>
<text transform="translate(527.00,86.20) rotate(-90)" x="0" y="0" font-size="8.1" fill="#e82020" stroke="#e82020" stroke-width="0.22" text-anchor="middle">CHAMP1</text>
<text transform="translate(527.00,125.80) rotate(-90)" x="0" y="0" font-size="8.1" fill="#2020e0" stroke="#2020e0" stroke-width="0.22" text-anchor="middle">Hoechst</text>
<text transform="translate(527.00,166.20) rotate(-90)" x="0" y="0" font-size="8.1" fill="#111" stroke="#111" stroke-width="0.22" text-anchor="middle">Merge</text>
<rect x="529.20" y="219.30" width="136.70" height="90.60" fill="#bdbdbd" />
<rect x="529.20" y="219.30" width="44.65" height="44.75" fill="#000" />
<rect x="574.95" y="219.30" width="44.70" height="44.75" fill="#000" />
<rect x="620.75" y="219.30" width="45.15" height="44.75" fill="#000" />
<rect x="529.20" y="265.15" width="44.65" height="44.75" fill="#000" />
<rect x="574.95" y="265.15" width="44.70" height="44.75" fill="#000" />
<rect x="620.75" y="265.15" width="45.15" height="44.75" fill="#000" />
<rect x="529.20" y="265.15" width="44.65" height="44.55" fill="#050518" />
<ellipse cx="539.2" cy="239.4" rx="6.2" ry="5.6" fill="url(#pla)" filter="url(#spk)"/>
<ellipse cx="537.4" cy="247.2" rx="5.8" ry="5.6" fill="url(#pla)" filter="url(#spk)"/>
<ellipse cx="563.2" cy="227.8" rx="5.2" ry="5.8" fill="url(#pla)" filter="url(#spk)"/>
<ellipse cx="559.2" cy="253.4" rx="6.6" ry="6.6" fill="url(#pla)" filter="url(#spk)"/>
<ellipse cx="562.6" cy="273.6" rx="5.2" ry="6.2" fill="url(#nPM)" filter="url(#spk2)"/>
<ellipse cx="540.4" cy="285.0" rx="5.4" ry="5.0" fill="url(#nPM)" filter="url(#spk2)"/>
<ellipse cx="536.9" cy="293.6" rx="5.6" ry="5.4" fill="url(#nPM)" filter="url(#spk2)"/>
<ellipse cx="559.3" cy="300.4" rx="6.2" ry="6.2" fill="url(#nPM)" filter="url(#spk2)"/>
<ellipse cx="597.0" cy="271.3" rx="5.0" ry="5.2" fill="url(#nPB)" filter="url(#spk2)"/>
<ellipse cx="585.4" cy="282.6" rx="5.6" ry="4.8" fill="url(#nPB)" filter="url(#spk2)"/>
<ellipse cx="599.8" cy="284.4" rx="5.2" ry="5.0" fill="url(#nPB)" filter="url(#spk2)"/>
<ellipse cx="612.2" cy="291.0" rx="4.6" ry="3.8" fill="url(#nPB)" filter="url(#spk2)"/>
<ellipse cx="599.3" cy="297.2" rx="5.2" ry="4.8" fill="url(#nPB)" filter="url(#spk2)"/>
<ellipse cx="604.9" cy="306.0" rx="5.0" ry="4.0" fill="url(#nPB)" filter="url(#spk2)"/>
<ellipse cx="584.6" cy="309.0" rx="4.4" ry="3.0" fill="url(#nPB)" filter="url(#spk2)"/>
<ellipse cx="575.6" cy="286.0" rx="1.2" ry="3.0" fill="url(#nPB)" filter="url(#spk2)"/>
<ellipse cx="629.4" cy="273.8" rx="5.2" ry="4.2" fill="url(#nPB)" filter="url(#spk2)"/>
<ellipse cx="630.0" cy="281.6" rx="5.6" ry="4.4" fill="url(#nPB)" filter="url(#spk2)"/>
<ellipse cx="641.6" cy="284.2" rx="5.2" ry="4.6" fill="url(#nPB)" filter="url(#spk2)"/>
<ellipse cx="659.4" cy="281.5" rx="4.6" ry="5.2" fill="url(#nPB)" filter="url(#spk2)"/>
<ellipse cx="636.7" cy="300.0" rx="4.6" ry="5.6" fill="url(#nPB)" filter="url(#spk2)"/>
<line x1="650.40" y1="305.30" x2="661.50" y2="305.30" stroke="#c8c8c8" stroke-width="1.1" />
<text x="522.60" y="206.10" font-size="8.15" fill="#111" stroke="#111" stroke-width="0.22" textLength="162.0" lengthAdjust="spacingAndGlyphs" >Proximity ligation assay of CHAMP1 &amp; MyoD</text>
<line x1="529.40" y1="208.60" x2="664.70" y2="208.60" stroke="#666" stroke-width="0.6" />
<text x="550.00" y="217.30" font-size="8.1" fill="#111" stroke="#111" stroke-width="0.22" text-anchor="middle" >Wildtype</text>
<text x="598.60" y="217.30" font-size="7.6" fill="#111" stroke="#111" stroke-width="0.22" text-anchor="middle" >CHAMP1<tspan font-size="3.7" dy="-3.0" stroke-width="0.1">&#916;</tspan></text>
<text x="643.20" y="217.30" font-size="7.8" fill="#111" stroke="#111" stroke-width="0.22" text-anchor="middle" >MyoD<tspan font-size="3.7" dy="-3.0" stroke-width="0.1">&#916;</tspan></text>
<text transform="translate(525.80,241.50) rotate(-90)" x="0" y="0" font-size="8.1" fill="#ee2020" stroke="#ee2020" stroke-width="0.22" text-anchor="middle">PLA signal</text>
<text transform="translate(518.00,287.50) rotate(-90)" x="0" y="0" font-size="8.1" fill="#111" stroke="#111" stroke-width="0.22" text-anchor="middle">Merge with</text>
<text transform="translate(527.40,287.30) rotate(-90)" x="0" y="0" font-size="8.1" fill="#2020e0" stroke="#2020e0" stroke-width="0.22" text-anchor="middle">Hoechst</text>
<rect x="34.90" y="338.10" width="2.50" height="10.87" fill="#6ccff6" />
<rect x="39.70" y="338.10" width="2.50" height="3.81" fill="#ff9010" />
<rect x="47.30" y="338.10" width="2.50" height="10.87" fill="#6ccff6" />
<rect x="52.10" y="338.10" width="2.50" height="36.05" fill="#ff9010" />
<rect x="59.69" y="338.10" width="2.50" height="10.87" fill="#6ccff6" />
<rect x="64.49" y="338.10" width="2.50" height="8.58" fill="#ff9010" />
<rect x="72.09" y="338.10" width="2.50" height="10.68" fill="#6ccff6" />
<rect x="76.89" y="338.10" width="2.50" height="9.54" fill="#ff9010" />
<rect x="84.48" y="338.10" width="2.50" height="10.68" fill="#6ccff6" />
<rect x="89.28" y="338.10" width="2.50" height="8.77" fill="#ff9010" />
<rect x="96.88" y="338.10" width="2.50" height="10.30" fill="#6ccff6" />
<rect x="101.68" y="337.34" width="2.50" height="0.76" fill="#ff9010" />
<rect x="109.28" y="338.10" width="2.50" height="9.54" fill="#6ccff6" />
<rect x="114.08" y="332.76" width="2.50" height="5.34" fill="#ff9010" />
<rect x="121.67" y="338.10" width="2.50" height="9.16" fill="#6ccff6" />
<rect x="126.47" y="338.10" width="2.50" height="25.94" fill="#ff9010" />
<rect x="134.07" y="338.10" width="2.50" height="9.16" fill="#6ccff6" />
<rect x="138.87" y="338.10" width="2.50" height="5.53" fill="#ff9010" />
<rect x="146.46" y="338.10" width="2.50" height="9.35" fill="#6ccff6" />
<rect x="151.26" y="338.10" width="2.50" height="2.10" fill="#ff9010" />
<rect x="158.86" y="338.10" width="2.50" height="8.77" fill="#6ccff6" />
<rect x="163.66" y="338.10" width="2.50" height="19.27" fill="#ff9010" />
<rect x="171.26" y="338.10" width="2.50" height="8.39" fill="#6ccff6" />
<rect x="176.06" y="338.10" width="2.50" height="29.38" fill="#ff9010" />
<rect x="183.65" y="338.10" width="2.50" height="8.39" fill="#6ccff6" />
<rect x="188.45" y="338.10" width="2.50" height="5.15" fill="#ff9010" />
<rect x="196.05" y="338.10" width="2.50" height="8.01" fill="#6ccff6" />
<rect x="200.85" y="338.10" width="2.50" height="25.18" fill="#ff9010" />
<rect x="208.44" y="338.10" width="2.50" height="8.01" fill="#6ccff6" />
<rect x="213.24" y="338.10" width="2.50" height="33.95" fill="#ff9010" />
<rect x="220.84" y="338.10" width="2.50" height="6.87" fill="#6ccff6" />
<rect x="225.64" y="338.10" width="2.50" height="15.64" fill="#ff9010" />
<rect x="233.24" y="338.10" width="2.50" height="6.87" fill="#6ccff6" />
<rect x="238.04" y="338.10" width="2.50" height="23.08" fill="#ff9010" />
<rect x="245.63" y="338.10" width="2.50" height="6.87" fill="#6ccff6" />
<rect x="250.43" y="338.10" width="2.50" height="32.62" fill="#ff9010" />
<rect x="258.03" y="338.10" width="2.50" height="6.68" fill="#6ccff6" />
<rect x="262.83" y="338.10" width="2.50" height="1.72" fill="#ff9010" />
<rect x="270.42" y="338.10" width="2.50" height="6.68" fill="#6ccff6" />
<rect x="275.22" y="331.61" width="2.50" height="6.49" fill="#ff9010" />
<rect x="282.82" y="338.10" width="2.50" height="6.49" fill="#6ccff6" />
<rect x="287.62" y="338.10" width="2.50" height="34.34" fill="#ff9010" />
<rect x="295.22" y="338.10" width="2.50" height="6.49" fill="#6ccff6" />
<rect x="300.02" y="338.10" width="2.50" height="5.91" fill="#ff9010" />
<rect x="307.61" y="338.10" width="2.50" height="5.91" fill="#6ccff6" />
<rect x="312.41" y="338.10" width="2.50" height="34.72" fill="#ff9010" />
<rect x="320.01" y="338.10" width="2.50" height="5.91" fill="#6ccff6" />
<rect x="332.40" y="338.10" width="2.50" height="5.91" fill="#6ccff6" />
<rect x="337.20" y="338.10" width="2.50" height="3.24" fill="#ff9010" />
<rect x="344.80" y="338.10" width="2.50" height="5.91" fill="#6ccff6" />
<rect x="349.60" y="338.10" width="2.50" height="33.57" fill="#ff9010" />
<rect x="357.20" y="338.10" width="2.50" height="5.53" fill="#6ccff6" />
<rect x="362.00" y="338.10" width="2.50" height="13.54" fill="#ff9010" />
<rect x="369.59" y="338.10" width="2.50" height="5.53" fill="#6ccff6" />
<rect x="374.39" y="338.10" width="2.50" height="5.91" fill="#ff9010" />
<rect x="381.99" y="338.10" width="2.50" height="5.15" fill="#6ccff6" />
<rect x="386.79" y="338.10" width="2.50" height="7.63" fill="#ff9010" />
<rect x="394.38" y="338.10" width="2.50" height="5.15" fill="#6ccff6" />
<rect x="399.18" y="338.10" width="2.50" height="14.50" fill="#ff9010" />
<rect x="406.78" y="338.10" width="2.50" height="5.15" fill="#6ccff6" />
<rect x="411.58" y="338.10" width="2.50" height="20.22" fill="#ff9010" />
<rect x="419.18" y="338.10" width="2.50" height="5.15" fill="#6ccff6" />
<rect x="423.98" y="338.10" width="2.50" height="33.95" fill="#ff9010" />
<rect x="431.57" y="338.10" width="2.50" height="4.96" fill="#6ccff6" />
<rect x="436.37" y="338.10" width="2.50" height="34.34" fill="#ff9010" />
<rect x="443.97" y="338.10" width="2.50" height="4.96" fill="#6ccff6" />
<rect x="448.77" y="338.10" width="2.50" height="22.70" fill="#ff9010" />
<rect x="456.36" y="338.10" width="2.50" height="4.96" fill="#6ccff6" />
<rect x="461.16" y="338.10" width="2.50" height="42.35" fill="#ff9010" />
<rect x="468.76" y="338.10" width="2.50" height="4.77" fill="#6ccff6" />
<rect x="473.56" y="338.10" width="2.50" height="25.18" fill="#ff9010" />
<rect x="481.16" y="338.10" width="2.50" height="4.77" fill="#6ccff6" />
<rect x="485.96" y="338.10" width="2.50" height="13.92" fill="#ff9010" />
<rect x="493.55" y="338.10" width="2.50" height="4.77" fill="#6ccff6" />
<rect x="498.35" y="338.10" width="2.50" height="34.72" fill="#ff9010" />
<rect x="505.95" y="338.10" width="2.50" height="4.77" fill="#6ccff6" />
<rect x="518.34" y="338.10" width="2.50" height="4.39" fill="#6ccff6" />
<rect x="523.14" y="338.10" width="2.50" height="20.60" fill="#ff9010" />
<rect x="530.74" y="338.10" width="2.50" height="4.39" fill="#6ccff6" />
<rect x="535.54" y="338.10" width="2.50" height="9.73" fill="#ff9010" />
<rect x="543.14" y="338.10" width="2.50" height="4.39" fill="#6ccff6" />
<rect x="547.94" y="338.10" width="2.50" height="8.97" fill="#ff9010" />
<rect x="555.53" y="338.10" width="2.50" height="4.39" fill="#6ccff6" />
<rect x="560.33" y="338.10" width="2.50" height="14.31" fill="#ff9010" />
<rect x="567.93" y="338.10" width="2.50" height="4.39" fill="#6ccff6" />
<rect x="572.73" y="338.10" width="2.50" height="15.64" fill="#ff9010" />
<rect x="580.32" y="338.10" width="2.50" height="3.70" fill="#6ccff6" />
<rect x="585.12" y="338.10" width="2.50" height="1.60" fill="#ff9010" />
<rect x="592.72" y="338.10" width="2.50" height="3.70" fill="#6ccff6" />
<rect x="597.52" y="338.10" width="2.50" height="20.79" fill="#ff9010" />
<rect x="605.12" y="338.10" width="2.50" height="3.70" fill="#6ccff6" />
<rect x="609.92" y="338.10" width="2.50" height="17.93" fill="#ff9010" />
<rect x="617.51" y="338.10" width="2.50" height="3.70" fill="#6ccff6" />
<rect x="622.31" y="338.10" width="2.50" height="9.35" fill="#ff9010" />
<rect x="629.91" y="338.10" width="2.50" height="3.70" fill="#6ccff6" />
<rect x="634.71" y="338.10" width="2.50" height="28.61" fill="#ff9010" />
<rect x="642.30" y="338.10" width="2.50" height="3.70" fill="#6ccff6" />
<rect x="647.10" y="336.00" width="2.50" height="2.10" fill="#ff9010" />
<rect x="654.70" y="338.10" width="2.50" height="3.70" fill="#6ccff6" />
<rect x="659.50" y="338.10" width="2.50" height="30.90" fill="#ff9010" />
<rect x="667.10" y="338.10" width="2.50" height="3.70" fill="#6ccff6" />
<rect x="671.90" y="338.10" width="2.50" height="16.02" fill="#ff9010" />
<line x1="32.60" y1="320.50" x2="32.60" y2="384.00" stroke="#888" stroke-width="1.0" />
<line x1="32.10" y1="338.10" x2="676.50" y2="338.10" stroke="#666" stroke-width="0.9" />
<line x1="32.10" y1="383.70" x2="676.50" y2="383.70" stroke="#999" stroke-width="1.0" />
<line x1="29.80" y1="322.84" x2="32.60" y2="322.84" stroke="#888" stroke-width="0.9" />
<text x="24.60" y="325.74" font-size="8.2" fill="#222" stroke="#222" stroke-width="0.22" text-anchor="end" >4</text>
<line x1="29.80" y1="338.10" x2="32.60" y2="338.10" stroke="#888" stroke-width="0.9" />
<text x="24.60" y="341.00" font-size="8.2" fill="#222" stroke="#222" stroke-width="0.22" text-anchor="end" >0</text>
<line x1="29.80" y1="353.36" x2="32.60" y2="353.36" stroke="#888" stroke-width="0.9" />
<text x="24.60" y="356.26" font-size="8.2" fill="#222" stroke="#222" stroke-width="0.22" text-anchor="end" >-4</text>
<line x1="29.80" y1="368.62" x2="32.60" y2="368.62" stroke="#888" stroke-width="0.9" />
<text x="24.60" y="371.52" font-size="8.2" fill="#222" stroke="#222" stroke-width="0.22" text-anchor="end" >-8</text>
<line x1="29.80" y1="383.88" x2="32.60" y2="383.88" stroke="#888" stroke-width="0.9" />
<text x="24.60" y="386.78" font-size="8.2" fill="#222" stroke="#222" stroke-width="0.22" text-anchor="end" >-12</text>
<line x1="38.20" y1="383.70" x2="38.20" y2="386.60" stroke="#666" stroke-width="0.7" />
<text transform="translate(42.60,392.80) rotate(-45)" x="0" y="0" font-size="8.4" fill="#222" stroke="#222" stroke-width="0.12" font-style="italic" text-anchor="end">ISYNA1</text>
<line x1="50.60" y1="383.70" x2="50.60" y2="386.60" stroke="#666" stroke-width="0.7" />
<text transform="translate(55.00,392.80) rotate(-45)" x="0" y="0" font-size="8.4" fill="#1818ff" stroke="#1818ff" stroke-width="0.12" font-style="italic" text-anchor="end">MYMK</text>
<line x1="62.99" y1="383.70" x2="62.99" y2="386.60" stroke="#666" stroke-width="0.7" />
<text transform="translate(67.39,392.80) rotate(-45)" x="0" y="0" font-size="8.4" fill="#222" stroke="#222" stroke-width="0.12" font-style="italic" text-anchor="end">IQANK1</text>
<line x1="75.39" y1="383.70" x2="75.39" y2="386.60" stroke="#666" stroke-width="0.7" />
<text transform="translate(79.79,392.80) rotate(-45)" x="0" y="0" font-size="8.4" fill="#222" stroke="#222" stroke-width="0.12" font-style="italic" text-anchor="end">KRT5</text>
<line x1="87.78" y1="383.70" x2="87.78" y2="386.60" stroke="#666" stroke-width="0.7" />
<text transform="translate(92.18,392.80) rotate(-45)" x="0" y="0" font-size="8.4" fill="#222" stroke="#222" stroke-width="0.12" font-style="italic" text-anchor="end">MYH14</text>
<line x1="100.18" y1="383.70" x2="100.18" y2="386.60" stroke="#666" stroke-width="0.7" />
<text transform="translate(104.58,392.80) rotate(-45)" x="0" y="0" font-size="8.4" fill="#222" stroke="#222" stroke-width="0.12" font-style="italic" text-anchor="end">SMIM11</text>
<line x1="112.58" y1="383.70" x2="112.58" y2="386.60" stroke="#666" stroke-width="0.7" />
<text transform="translate(116.98,392.80) rotate(-45)" x="0" y="0" font-size="8.4" fill="#222" stroke="#222" stroke-width="0.12" font-style="italic" text-anchor="end">TIE1</text>
<line x1="124.97" y1="383.70" x2="124.97" y2="386.60" stroke="#666" stroke-width="0.7" />
<text transform="translate(129.37,392.80) rotate(-45)" x="0" y="0" font-size="8.4" fill="#222" stroke="#222" stroke-width="0.12" font-style="italic" text-anchor="end">SBK2</text>
<line x1="137.37" y1="383.70" x2="137.37" y2="386.60" stroke="#666" stroke-width="0.7" />
<text transform="translate(141.77,392.80) rotate(-45)" x="0" y="0" font-size="8.4" fill="#222" stroke="#222" stroke-width="0.12" font-style="italic" text-anchor="end">TAS1R1</text>
<line x1="149.76" y1="383.70" x2="149.76" y2="386.60" stroke="#666" stroke-width="0.7" />
<text transform="translate(154.16,392.80) rotate(-45)" x="0" y="0" font-size="8.4" fill="#222" stroke="#222" stroke-width="0.12" font-style="italic" text-anchor="end">PLPPR2</text>
<line x1="162.16" y1="383.70" x2="162.16" y2="386.60" stroke="#666" stroke-width="0.7" />
<text transform="translate(166.56,392.80) rotate(-45)" x="0" y="0" font-size="8.4" fill="#222" stroke="#222" stroke-width="0.12" font-style="italic" text-anchor="end">FZD9</text>
<line x1="174.56" y1="383.70" x2="174.56" y2="386.60" stroke="#666" stroke-width="0.7" />
<text transform="translate(178.96,392.80) rotate(-45)" x="0" y="0" font-size="8.4" fill="#222" stroke="#222" stroke-width="0.12" font-style="italic" text-anchor="end">RGR</text>
<line x1="186.95" y1="383.70" x2="186.95" y2="386.60" stroke="#666" stroke-width="0.7" />
<text transform="translate(191.35,392.80) rotate(-45)" x="0" y="0" font-size="8.4" fill="#222" stroke="#222" stroke-width="0.12" font-style="italic" text-anchor="end">FAM83H</text>
<line x1="199.35" y1="383.70" x2="199.35" y2="386.60" stroke="#666" stroke-width="0.7" />
<text transform="translate(203.75,392.80) rotate(-45)" x="0" y="0" font-size="8.4" fill="#222" stroke="#222" stroke-width="0.12" font-style="italic" text-anchor="end">MYH7B</text>
<line x1="211.74" y1="383.70" x2="211.74" y2="386.60" stroke="#666" stroke-width="0.7" />
<text transform="translate(216.14,392.80) rotate(-45)" x="0" y="0" font-size="8.4" fill="#222" stroke="#222" stroke-width="0.12" font-style="italic" text-anchor="end">SRL</text>
<line x1="224.14" y1="383.70" x2="224.14" y2="386.60" stroke="#666" stroke-width="0.7" />
<text transform="translate(228.54,392.80) rotate(-45)" x="0" y="0" font-size="8.4" fill="#222" stroke="#222" stroke-width="0.12" font-style="italic" text-anchor="end">NEU4</text>
<line x1="236.54" y1="383.70" x2="236.54" y2="386.60" stroke="#666" stroke-width="0.7" />
<text transform="translate(240.94,392.80) rotate(-45)" x="0" y="0" font-size="8.4" fill="#222" stroke="#222" stroke-width="0.12" font-style="italic" text-anchor="end">CBFA2T3</text>
<line x1="248.93" y1="383.70" x2="248.93" y2="386.60" stroke="#666" stroke-width="0.7" />
<text transform="translate(253.33,392.80) rotate(-45)" x="0" y="0" font-size="8.4" fill="#222" stroke="#222" stroke-width="0.12" font-style="italic" text-anchor="end">GRIP2</text>
<line x1="261.33" y1="383.70" x2="261.33" y2="386.60" stroke="#666" stroke-width="0.7" />
<text transform="translate(265.73,392.80) rotate(-45)" x="0" y="0" font-size="8.4" fill="#222" stroke="#222" stroke-width="0.12" font-style="italic" text-anchor="end">TMEM205</text>
<line x1="273.72" y1="383.70" x2="273.72" y2="386.60" stroke="#666" stroke-width="0.7" />
<text transform="translate(278.12,392.80) rotate(-45)" x="0" y="0" font-size="8.4" fill="#222" stroke="#222" stroke-width="0.12" font-style="italic" text-anchor="end">MEMO1P1</text>
<line x1="286.12" y1="383.70" x2="286.12" y2="386.60" stroke="#666" stroke-width="0.7" />
<text transform="translate(290.52,392.80) rotate(-45)" x="0" y="0" font-size="8.4" fill="#222" stroke="#222" stroke-width="0.12" font-style="italic" text-anchor="end">SLC12A7</text>
<line x1="298.52" y1="383.70" x2="298.52" y2="386.60" stroke="#666" stroke-width="0.7" />
<text transform="translate(302.92,392.80) rotate(-45)" x="0" y="0" font-size="8.4" fill="#222" stroke="#222" stroke-width="0.12" font-style="italic" text-anchor="end">RPS6KL1</text>
<line x1="310.91" y1="383.70" x2="310.91" y2="386.60" stroke="#666" stroke-width="0.7" />
<text transform="translate(315.31,392.80) rotate(-45)" x="0" y="0" font-size="8.4" fill="#222" stroke="#222" stroke-width="0.12" font-style="italic" text-anchor="end">CACNG1</text>
<line x1="323.31" y1="383.70" x2="323.31" y2="386.60" stroke="#666" stroke-width="0.7" />
<text transform="translate(327.71,392.80) rotate(-45)" x="0" y="0" font-size="8.4" fill="#222" stroke="#222" stroke-width="0.12" font-style="italic" text-anchor="end">TM7SF2</text>
<line x1="335.70" y1="383.70" x2="335.70" y2="386.60" stroke="#666" stroke-width="0.7" />
<text transform="translate(340.10,392.80) rotate(-45)" x="0" y="0" font-size="8.4" fill="#222" stroke="#222" stroke-width="0.12" font-style="italic" text-anchor="end">TMEM25</text>
<line x1="348.10" y1="383.70" x2="348.10" y2="386.60" stroke="#666" stroke-width="0.7" />
<text transform="translate(352.50,392.80) rotate(-45)" x="0" y="0" font-size="8.4" fill="#222" stroke="#222" stroke-width="0.12" font-style="italic" text-anchor="end">BCAS1</text>
<line x1="360.50" y1="383.70" x2="360.50" y2="386.60" stroke="#666" stroke-width="0.7" />
<text transform="translate(364.90,392.80) rotate(-45)" x="0" y="0" font-size="8.4" fill="#222" stroke="#222" stroke-width="0.12" font-style="italic" text-anchor="end">GNAT1</text>
<line x1="372.89" y1="383.70" x2="372.89" y2="386.60" stroke="#666" stroke-width="0.7" />
<text transform="translate(377.29,392.80) rotate(-45)" x="0" y="0" font-size="8.4" fill="#222" stroke="#222" stroke-width="0.12" font-style="italic" text-anchor="end">SHROOM2</text>
<line x1="385.29" y1="383.70" x2="385.29" y2="386.60" stroke="#666" stroke-width="0.7" />
<text transform="translate(389.69,392.80) rotate(-45)" x="0" y="0" font-size="8.4" fill="#222" stroke="#222" stroke-width="0.12" font-style="italic" text-anchor="end">EMILIN2</text>
<line x1="397.68" y1="383.70" x2="397.68" y2="386.60" stroke="#666" stroke-width="0.7" />
<text transform="translate(402.08,392.80) rotate(-45)" x="0" y="0" font-size="8.4" fill="#222" stroke="#222" stroke-width="0.12" font-style="italic" text-anchor="end">GADL1</text>
<line x1="410.08" y1="383.70" x2="410.08" y2="386.60" stroke="#666" stroke-width="0.7" />
<text transform="translate(414.48,392.80) rotate(-45)" x="0" y="0" font-size="8.4" fill="#222" stroke="#222" stroke-width="0.12" font-style="italic" text-anchor="end">KY</text>
<line x1="422.48" y1="383.70" x2="422.48" y2="386.60" stroke="#666" stroke-width="0.7" />
<text transform="translate(426.88,392.80) rotate(-45)" x="0" y="0" font-size="8.4" fill="#222" stroke="#222" stroke-width="0.12" font-style="italic" text-anchor="end">EGLN3</text>
<line x1="434.87" y1="383.70" x2="434.87" y2="386.60" stroke="#666" stroke-width="0.7" />
<text transform="translate(439.27,392.80) rotate(-45)" x="0" y="0" font-size="8.4" fill="#222" stroke="#222" stroke-width="0.12" font-style="italic" text-anchor="end">KLHL40</text>
<line x1="447.27" y1="383.70" x2="447.27" y2="386.60" stroke="#666" stroke-width="0.7" />
<text transform="translate(451.67,392.80) rotate(-45)" x="0" y="0" font-size="8.4" fill="#222" stroke="#222" stroke-width="0.12" font-style="italic" text-anchor="end">LTF</text>
<line x1="459.66" y1="383.70" x2="459.66" y2="386.60" stroke="#666" stroke-width="0.7" />
<text transform="translate(464.06,392.80) rotate(-45)" x="0" y="0" font-size="8.4" fill="#222" stroke="#222" stroke-width="0.12" font-style="italic" text-anchor="end">CKM</text>
<line x1="472.06" y1="383.70" x2="472.06" y2="386.60" stroke="#666" stroke-width="0.7" />
<text transform="translate(476.46,392.80) rotate(-45)" x="0" y="0" font-size="8.4" fill="#222" stroke="#222" stroke-width="0.12" font-style="italic" text-anchor="end">TNNC2</text>
<line x1="484.46" y1="383.70" x2="484.46" y2="386.60" stroke="#666" stroke-width="0.7" />
<text transform="translate(488.86,392.80) rotate(-45)" x="0" y="0" font-size="8.4" fill="#222" stroke="#222" stroke-width="0.12" font-style="italic" text-anchor="end">ADGRG5</text>
<line x1="496.85" y1="383.70" x2="496.85" y2="386.60" stroke="#666" stroke-width="0.7" />
<text transform="translate(501.25,392.80) rotate(-45)" x="0" y="0" font-size="8.4" fill="#222" stroke="#222" stroke-width="0.12" font-style="italic" text-anchor="end">TNNI2</text>
<line x1="509.25" y1="383.70" x2="509.25" y2="386.60" stroke="#666" stroke-width="0.7" />
<text transform="translate(513.65,392.80) rotate(-45)" x="0" y="0" font-size="8.4" fill="#222" stroke="#222" stroke-width="0.12" font-style="italic" text-anchor="end">CHAC1</text>
<line x1="521.64" y1="383.70" x2="521.64" y2="386.60" stroke="#666" stroke-width="0.7" />
<text transform="translate(526.04,392.80) rotate(-45)" x="0" y="0" font-size="8.4" fill="#222" stroke="#222" stroke-width="0.12" font-style="italic" text-anchor="end">RGS16</text>
<line x1="534.04" y1="383.70" x2="534.04" y2="386.60" stroke="#666" stroke-width="0.7" />
<text transform="translate(538.44,392.80) rotate(-45)" x="0" y="0" font-size="8.4" fill="#222" stroke="#222" stroke-width="0.12" font-style="italic" text-anchor="end">SEPTIN4</text>
<line x1="546.44" y1="383.70" x2="546.44" y2="386.60" stroke="#666" stroke-width="0.7" />
<text transform="translate(550.84,392.80) rotate(-45)" x="0" y="0" font-size="8.4" fill="#222" stroke="#222" stroke-width="0.12" font-style="italic" text-anchor="end">KLHL30</text>
<line x1="558.83" y1="383.70" x2="558.83" y2="386.60" stroke="#666" stroke-width="0.7" />
<text transform="translate(563.23,392.80) rotate(-45)" x="0" y="0" font-size="8.4" fill="#222" stroke="#222" stroke-width="0.12" font-style="italic" text-anchor="end">CDKN1C</text>
<line x1="571.23" y1="383.70" x2="571.23" y2="386.60" stroke="#666" stroke-width="0.7" />
<text transform="translate(575.63,392.80) rotate(-45)" x="0" y="0" font-size="8.4" fill="#222" stroke="#222" stroke-width="0.12" font-style="italic" text-anchor="end">LINC00942</text>
<line x1="583.62" y1="383.70" x2="583.62" y2="386.60" stroke="#666" stroke-width="0.7" />
<text transform="translate(588.02,392.80) rotate(-45)" x="0" y="0" font-size="8.4" fill="#222" stroke="#222" stroke-width="0.12" font-style="italic" text-anchor="end">IL32</text>
<line x1="596.02" y1="383.70" x2="596.02" y2="386.60" stroke="#666" stroke-width="0.7" />
<text transform="translate(600.42,392.80) rotate(-45)" x="0" y="0" font-size="8.4" fill="#222" stroke="#222" stroke-width="0.12" font-style="italic" text-anchor="end">ACHE</text>
<line x1="608.42" y1="383.70" x2="608.42" y2="386.60" stroke="#666" stroke-width="0.7" />
<text transform="translate(612.82,392.80) rotate(-45)" x="0" y="0" font-size="8.4" fill="#222" stroke="#222" stroke-width="0.12" font-style="italic" text-anchor="end">CASS4</text>
<line x1="620.81" y1="383.70" x2="620.81" y2="386.60" stroke="#666" stroke-width="0.7" />
<text transform="translate(625.21,392.80) rotate(-45)" x="0" y="0" font-size="8.4" fill="#222" stroke="#222" stroke-width="0.12" font-style="italic" text-anchor="end">PROB1</text>
<line x1="633.21" y1="383.70" x2="633.21" y2="386.60" stroke="#666" stroke-width="0.7" />
<text transform="translate(637.61,392.80) rotate(-45)" x="0" y="0" font-size="8.4" fill="#222" stroke="#222" stroke-width="0.12" font-style="italic" text-anchor="end">SPTB</text>
<line x1="645.60" y1="383.70" x2="645.60" y2="386.60" stroke="#666" stroke-width="0.7" />
<text transform="translate(650.00,392.80) rotate(-45)" x="0" y="0" font-size="8.4" fill="#222" stroke="#222" stroke-width="0.12" font-style="italic" text-anchor="end">FAM3C2P</text>
<line x1="658.00" y1="383.70" x2="658.00" y2="386.60" stroke="#666" stroke-width="0.7" />
<text transform="translate(662.40,392.80) rotate(-45)" x="0" y="0" font-size="8.4" fill="#222" stroke="#222" stroke-width="0.12" font-style="italic" text-anchor="end">SCN4A</text>
<line x1="670.40" y1="383.70" x2="670.40" y2="386.60" stroke="#666" stroke-width="0.7" />
<text transform="translate(674.80,392.80) rotate(-45)" x="0" y="0" font-size="8.4" fill="#222" stroke="#222" stroke-width="0.12" font-style="italic" text-anchor="end">GADD45G</text>
<text transform="translate(8.4,351.4) rotate(-90)" x="0" y="0" font-size="7.8" fill="#222" stroke="#222" stroke-width="0.22" text-anchor="middle">Log<tspan font-size="5.5" dy="1.8">2</tspan><tspan dy="-1.8"> Fold change</tspan></text>
<line x1="40.90" y1="323.10" x2="58.60" y2="323.10" stroke="#6ccff6" stroke-width="1.8" />
<text x="62.60" y="325.80" font-size="8.3" fill="#222" stroke="#222" stroke-width="0.22" textLength="83.0" lengthAdjust="spacingAndGlyphs" >DE genes in CHAMP1</text>
<text x="146.40" y="322.60" font-size="4.6" fill="#222" >&#916;</text>
<text x="151.60" y="325.80" font-size="8.3" fill="#222" stroke="#222" stroke-width="0.22" textLength="155.0" lengthAdjust="spacingAndGlyphs" >(normalized to isogenic rescue control)</text>
<line x1="325.20" y1="323.10" x2="342.70" y2="323.10" stroke="#ff9010" stroke-width="1.8" />
<text x="346.80" y="325.80" font-size="8.3" fill="#222" stroke="#222" stroke-width="0.22" textLength="107.4" lengthAdjust="spacingAndGlyphs" >Expression changes in MyoD</text>
<text x="454.50" y="322.60" font-size="4.6" fill="#222" >&#916;</text>
<text x="459.60" y="325.80" font-size="8.3" fill="#222" stroke="#222" stroke-width="0.22" textLength="185.4" lengthAdjust="spacingAndGlyphs" >(normalized to its own isogenic rescue control)</text>
</svg></body></html>
